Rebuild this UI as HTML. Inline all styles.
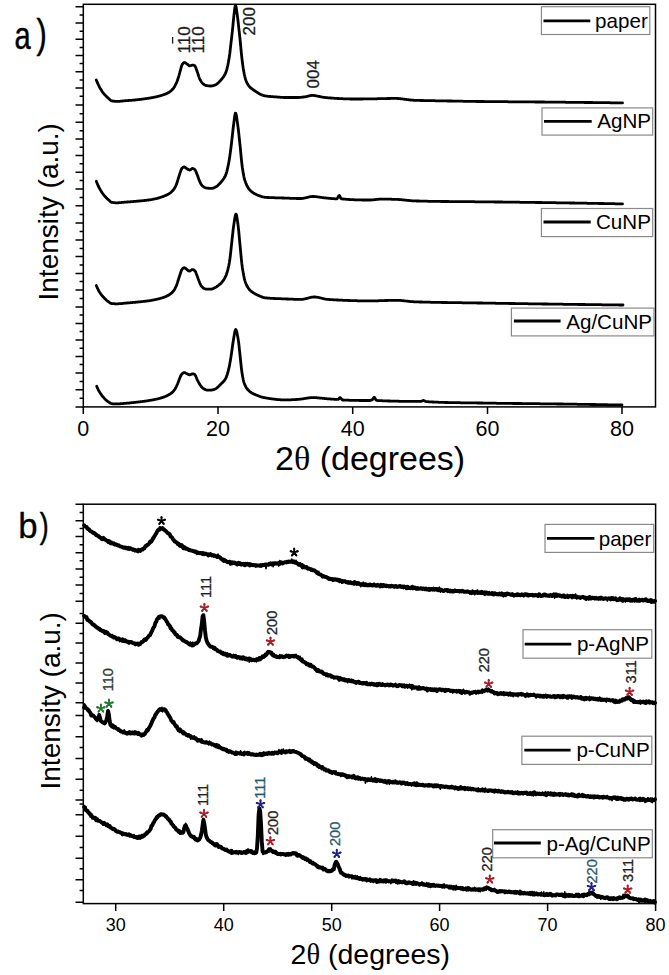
<!DOCTYPE html>
<html><head><meta charset="utf-8"><title>XRD patterns</title>
<style>html,body{margin:0;padding:0;background:#fff;}body{width:669px;height:975px;overflow:hidden;}svg{display:block;}</style>
</head><body>
<svg width="669" height="975" viewBox="0 0 669 975">
<rect width="669" height="975" fill="#fff"/>
<path d="M75.5 6.8H83.3M75.5 23.1H83.3M75.5 39.2H83.3M75.5 55.4H83.3M75.5 71.8H83.3M75.5 88H83.3M75.5 105.1H83.3M75.5 122.3H83.3M75.5 138.9H83.3M75.5 155.4H83.3M75.5 172.3H83.3M75.5 188.9H83.3M75.5 205.8H83.3M75.5 223.1H83.3M75.5 240H83.3M75.5 256.5H83.3M75.5 273.4H83.3M75.5 290H83.3M75.5 306.9H83.3M75.5 323.5H83.3M75.5 340H83.3M75.5 356.6H83.3M75.5 373.1H83.3M75.5 389.7H83.3M75.5 406.9H83.3M79.6 14.9H83.3M79.6 31.2H83.3M79.6 47.4H83.3M79.6 63.5H83.3M79.6 80H83.3M79.6 96.2H83.3M79.6 113.8H83.3M79.6 130.8H83.3M79.6 147.2H83.3M79.6 163.8H83.3M79.6 180.5H83.3M79.6 197.4H83.3M79.6 214.6H83.3M79.6 231.5H83.3M79.6 248.5H83.3M79.6 264.9H83.3M79.6 281.5H83.3M79.6 298.5H83.3M79.6 315.1H83.3M79.6 331.5H83.3M79.6 348.2H83.3M79.6 364.6H83.3M79.6 381.5H83.3M79.6 398.2H83.3M83.3 406.9V414M218 406.9V414M352.7 406.9V414M487.5 406.9V414M622 406.9V414" stroke="#000" stroke-width="1.5" fill="none"/>
<rect x="83.3" y="4.3" width="572.2" height="402.6" stroke="#000" stroke-width="1.5" fill="none"/>
<g fill="none" stroke="#000" stroke-width="2.8" stroke-linejoin="round" stroke-linecap="round">
<path d="M96.3 80L96.8 81.2L97.3 82.4L97.8 83.6L98.3 84.7L98.8 85.7L99.3 86.7L99.8 87.6L100.3 88.5L100.8 89.3L101.3 90.1L101.8 90.9L102.3 91.7L102.8 92.4L103.3 93L103.8 93.7L104.3 94.3L104.8 94.8L105.3 95.3L105.8 95.9L106.3 96.3L106.8 96.8L107.3 97.3L107.8 97.7L108.3 98.2L108.8 98.6L109.3 99.1L109.8 99.6L110.3 100L110.8 100.4L111.3 100.7L111.8 100.9L112.3 101L112.8 101L113.3 101.1L113.8 101.2L114.3 101.2L114.8 101.3L115.3 101.3L115.8 101.4L116.3 101.4L116.8 101.4L117.3 101.4L117.8 101.4L118.3 101.4L118.8 101.3L119.3 101.3L119.8 101.3L120.3 101.2L120.8 101.2L121.3 101.1L121.8 101.1L122.3 101L122.8 101L123.3 100.9L123.8 100.9L124.3 100.8L124.8 100.8L125.3 100.7L125.8 100.7L126.3 100.7L126.8 100.6L127.3 100.6L127.8 100.6L128.3 100.5L128.8 100.5L129.3 100.4L129.8 100.4L130.3 100.4L130.8 100.3L131.3 100.3L131.8 100.3L132.3 100.2L132.8 100.2L133.3 100.1L133.8 100.1L134.3 100L134.8 100L135.3 100L135.8 99.9L136.3 99.8L136.8 99.8L137.3 99.7L137.8 99.7L138.3 99.6L138.8 99.6L139.3 99.5L139.8 99.5L140.3 99.4L140.8 99.3L141.3 99.3L141.8 99.2L142.3 99.1L142.8 99.1L143.3 99L143.8 98.9L144.3 98.9L144.8 98.8L145.3 98.7L145.8 98.7L146.3 98.6L146.8 98.5L147.3 98.4L147.8 98.3L148.3 98.3L148.8 98.2L149.3 98.1L149.8 98L150.3 98L150.8 97.9L151.3 97.8L151.8 97.7L152.3 97.6L152.8 97.5L153.3 97.4L153.8 97.3L154.3 97.2L154.8 97.1L155.3 97L155.8 96.9L156.3 96.8L156.8 96.7L157.3 96.5L157.8 96.4L158.3 96.3L158.8 96.2L159.3 96L159.8 95.9L160.3 95.8L160.8 95.6L161.3 95.5L161.8 95.3L162.3 95.2L162.8 95L163.3 94.8L163.8 94.6L164.3 94.5L164.8 94.3L165.3 94.1L165.8 93.9L166.3 93.7L166.8 93.4L167.3 93.2L167.8 92.9L168.3 92.7L168.8 92.4L169.3 92.1L169.8 91.7L170.3 91.4L170.8 91L171.3 90.6L171.8 90.1L172.3 89.6L172.8 89.1L173.3 88.5L173.8 87.8L174.3 87L174.8 86.2L175.3 85.2L175.8 84.2L176.3 83.2L176.8 82L177.3 80.7L177.8 79.2L178.3 77.7L178.8 76.1L179.3 74.3L179.8 72.5L180.3 70.7L180.8 68.8L181.3 66.9L181.8 65.3L182.3 64.4L182.8 63.7L183.3 63.1L183.8 62.7L184.3 62.5L184.8 62.6L185.3 62.8L185.8 63.1L186.3 63.5L186.8 63.9L187.3 64.2L187.8 64.6L188.3 65.1L188.8 65.5L189.3 65.8L189.8 65.8L190.3 65.7L190.8 65.6L191.3 65.5L191.8 65.3L192.3 65.2L192.8 65.1L193.3 65.1L193.8 65.3L194.3 65.5L194.8 65.8L195.3 66.5L195.8 67.6L196.3 69.1L196.8 70.6L197.3 71.9L197.8 73.4L198.3 75L198.8 76.6L199.3 78L199.8 79.1L200.3 80L200.8 80.9L201.3 81.7L201.8 82.4L202.3 83L202.8 83.5L203.3 83.9L203.8 84.3L204.3 84.7L204.8 85L205.3 85.2L205.8 85.4L206.3 85.6L206.8 85.7L207.3 85.7L207.8 85.8L208.3 85.9L208.8 85.9L209.3 85.9L209.8 86L210.3 86L210.8 86L211.3 86L211.8 85.9L212.3 85.9L212.8 85.8L213.3 85.6L213.8 85.5L214.3 85.3L214.8 85.1L215.3 84.9L215.8 84.7L216.3 84.4L216.8 84.1L217.3 83.7L217.8 83.2L218.3 82.8L218.8 82.3L219.3 81.8L219.8 81.3L220.3 80.8L220.8 80.2L221.3 79.6L221.8 79L222.3 78.4L222.8 77.7L223.3 77.1L223.8 76.4L224.3 75.6L224.8 74.8L225.3 73.8L225.8 72.6L226.3 71L226.8 69.3L227.3 67.3L227.8 65.2L228.3 62.8L228.8 60.1L229.3 57L229.8 53.5L230.3 49.2L230.8 44.7L231.3 40.4L231.8 36.2L232.3 31.7L232.8 26.8L233.3 21.5L233.8 16.4L234.3 12.2L234.8 8.3L235.3 5.5L235.8 5.7L236.3 8.2L236.8 11.7L237.3 15.1L237.8 19L238.3 23.5L238.8 28.1L239.3 32.6L239.8 37.2L240.3 42L240.8 47.1L241.3 52.5L241.8 57.3L242.3 61.5L242.8 65.4L243.3 68.8L243.8 71.6L244.3 74.2L244.8 76.5L245.3 78.4L245.8 80L246.3 81.3L246.8 82.4L247.3 83.4L247.8 84.3L248.3 85.1L248.8 85.8L249.3 86.4L249.8 86.9L250.3 87.4L250.8 87.9L251.3 88.3L251.8 88.7L252.3 89.1L252.8 89.5L253.3 89.8L253.8 90.2L254.3 90.5L254.8 90.8L255.3 91.2L255.8 91.5L256.3 91.8L256.8 92.1L257.3 92.5L257.8 92.8L258.3 93.1L258.8 93.4L259.3 93.7L259.8 94L260.3 94.2L260.8 94.5L261.3 94.7L261.8 94.9L262.3 95.1L262.8 95.3L263.3 95.5L263.8 95.6L264.3 95.8L264.8 95.9L265.3 95.9L265.8 96L266.3 96.1L266.8 96.2L267.3 96.2L267.8 96.3L268.3 96.3L268.8 96.4L269.3 96.4L269.8 96.5L270.3 96.5L270.8 96.5L271.3 96.6L271.8 96.6L272.3 96.7L272.8 96.7L273.3 96.7L273.8 96.8L274.3 96.8L274.8 96.8L275.3 96.9L275.8 96.9L276.3 96.9L276.8 97L277.3 97L277.8 97.1L278.3 97.1L278.8 97.2L279.3 97.2L279.8 97.2L280.3 97.3L280.8 97.3L281.3 97.4L281.8 97.4L282.3 97.4L282.8 97.4L283.3 97.5L283.8 97.5L284.3 97.5L284.8 97.5L285.3 97.5L285.8 97.5L286.3 97.5L286.8 97.5L287.3 97.5L287.8 97.5L288.3 97.5L288.8 97.5L289.3 97.5L289.8 97.5L290.3 97.5L290.8 97.5L291.3 97.5L291.8 97.5L292.3 97.5L292.8 97.5L293.3 97.5L293.8 97.5L294.3 97.5L294.8 97.5L295.3 97.5L295.8 97.5L296.3 97.5L296.8 97.5L297.3 97.5L297.8 97.5L298.3 97.5L298.8 97.5L299.3 97.5L299.8 97.4L300.3 97.4L300.8 97.3L301.3 97.3L301.8 97.2L302.3 97.2L302.8 97.1L303.3 97L303.8 97L304.3 96.9L304.8 96.8L305.3 96.8L305.8 96.7L306.3 96.6L306.8 96.5L307.3 96.3L307.8 96.2L308.3 96.1L308.8 96L309.3 95.8L309.8 95.7L310.3 95.6L310.8 95.5L311.3 95.5L311.8 95.4L312.3 95.4L312.8 95.4L313.3 95.4L313.8 95.5L314.3 95.5L314.8 95.6L315.3 95.7L315.8 95.8L316.3 95.9L316.8 96L317.3 96.1L317.8 96.2L318.3 96.3L318.8 96.4L319.3 96.5L319.8 96.5L320.3 96.7L320.8 96.8L321.3 96.9L321.8 97L322.3 97.1L322.8 97.2L323.3 97.3L323.8 97.4L324.3 97.4L324.8 97.5L325.3 97.5L325.8 97.6L326.3 97.6L326.8 97.7L327.3 97.7L327.8 97.8L328.3 97.8L328.8 97.8L329.3 97.9L329.8 97.9L330.3 98L330.8 98L331.3 98L331.8 98.1L332.3 98.1L332.8 98.2L333.3 98.2L333.8 98.2L334.3 98.3L334.8 98.3L335.3 98.3L335.8 98.4L336.3 98.4L336.8 98.4L337.3 98.5L337.8 98.5L338.3 98.5L338.8 98.5L339.3 98.6L339.8 98.6L340.3 98.6L340.8 98.6L341.3 98.7L341.8 98.7L342.3 98.7L342.8 98.7L343.3 98.8L343.8 98.8L344.3 98.8L344.8 98.8L345.3 98.8L345.8 98.9L346.3 98.9L346.8 98.9L347.3 98.9L347.8 98.9L348.3 98.9L348.8 98.9L349.3 98.9L349.8 99L350.3 99L350.8 99L351.3 99L351.8 99L352.3 99L352.8 99L353.3 99L353.8 99L354.3 99L354.8 99L355.3 99L355.8 99L356.3 99L356.8 99L357.3 99L357.8 99L358.3 99L358.8 99L359.3 99L359.8 99L360.3 99L360.8 99L361.3 99L361.8 99L362.3 99L362.8 99L363.3 98.9L363.8 98.9L364.3 98.9L364.8 98.9L365.3 98.9L365.8 98.9L366.3 98.9L366.8 98.9L367.3 98.9L367.8 98.9L368.3 98.9L368.8 98.9L369.3 98.9L369.8 98.9L370.3 98.9L370.8 98.8L371.3 98.8L371.8 98.8L372.3 98.8L372.8 98.8L373.3 98.8L373.8 98.8L374.3 98.8L374.8 98.8L375.3 98.8L375.8 98.8L376.3 98.8L376.8 98.8L377.3 98.7L377.8 98.7L378.3 98.7L378.8 98.7L379.3 98.7L379.8 98.7L380.3 98.7L380.8 98.7L381.3 98.7L381.8 98.7L382.3 98.7L382.8 98.6L383.3 98.6L383.8 98.6L384.3 98.6L384.8 98.6L385.3 98.6L385.8 98.6L386.3 98.6L386.8 98.5L387.3 98.5L387.8 98.5L388.3 98.5L388.8 98.5L389.3 98.5L389.8 98.5L390.3 98.5L390.8 98.4L391.3 98.4L391.8 98.4L392.3 98.4L392.8 98.4L393.3 98.4L393.8 98.4L394.3 98.4L394.8 98.4L395.3 98.4L395.8 98.4L396.3 98.4L396.8 98.4L397.3 98.5L397.8 98.5L398.3 98.5L398.8 98.6L399.3 98.6L399.8 98.7L400.3 98.7L400.8 98.8L401.3 98.8L401.8 98.9L402.3 98.9L402.8 99L403.3 99.1L403.8 99.1L404.3 99.2L404.8 99.3L405.3 99.3L405.8 99.4L406.3 99.5L406.8 99.5L407.3 99.6L407.8 99.7L408.3 99.7L408.8 99.8L409.3 99.9L409.8 99.9L410.3 100L410.8 100L411.3 100.1L411.8 100.1L412.3 100.2L412.8 100.2L413.3 100.2L413.8 100.3L414.3 100.3L414.8 100.3L415.3 100.3L415.8 100.3L416.3 100.4L416.8 100.4L417.3 100.4L417.8 100.4L418.3 100.4L418.8 100.4L419.3 100.4L419.8 100.5L420.3 100.5L420.8 100.5L421.3 100.5L421.8 100.5L422.3 100.5L422.8 100.5L423.3 100.5L423.8 100.6L424.3 100.6L424.8 100.6L425.3 100.6L425.8 100.6L426.3 100.6L426.8 100.6L427.3 100.6L427.8 100.6L428.3 100.6L428.8 100.7L429.3 100.7L429.8 100.7L430.3 100.7L430.8 100.7L431.3 100.7L431.8 100.7L432.3 100.7L432.8 100.7L433.3 100.7L433.8 100.7L434.3 100.7L434.8 100.7L435.3 100.8L435.8 100.8L436.3 100.8L436.8 100.8L437.3 100.8L437.8 100.8L438.3 100.8L438.8 100.8L439.3 100.8L439.8 100.8L440.3 100.8L440.8 100.8L441.3 100.8L441.8 100.9L442.3 100.9L442.8 100.9L443.3 100.9L443.8 100.9L444.3 100.9L444.8 100.9L445.3 100.9L445.8 100.9L446.3 100.9L446.8 100.9L447.3 101L447.8 101L448.3 101L448.8 101L449.3 101L449.8 101L450.3 101L450.8 101L451.3 101L451.8 101L452.3 101L452.8 101.1L453.3 101.1L453.8 101.1L454.3 101.1L454.8 101.1L455.3 101.1L455.8 101.1L456.3 101.1L456.8 101.1L457.3 101.1L457.8 101.2L458.3 101.2L458.8 101.2L459.3 101.2L459.8 101.2L460.3 101.2L460.8 101.2L461.3 101.2L461.8 101.2L462.3 101.2L462.8 101.2L463.3 101.3L463.8 101.3L464.3 101.3L464.8 101.3L465.3 101.3L465.8 101.3L466.3 101.3L466.8 101.3L467.3 101.3L467.8 101.3L468.3 101.3L468.8 101.3L469.3 101.4L469.8 101.4L470.3 101.4L470.8 101.4L471.3 101.4L471.8 101.4L472.3 101.4L472.8 101.4L473.3 101.4L473.8 101.4L474.3 101.4L474.8 101.4L475.3 101.4L475.8 101.4L476.3 101.5L476.8 101.5L477.3 101.5L477.8 101.5L478.3 101.5L478.8 101.5L479.3 101.5L479.8 101.5L480.3 101.5L480.8 101.5L481.3 101.5L481.8 101.5L482.3 101.5L482.8 101.5L483.3 101.5L483.8 101.5L484.3 101.5L484.8 101.6L485.3 101.6L485.8 101.6L486.3 101.6L486.8 101.6L487.3 101.6L487.8 101.6L488.3 101.6L488.8 101.6L489.3 101.6L489.8 101.6L490.3 101.6L490.8 101.6L491.3 101.6L491.8 101.6L492.3 101.6L492.8 101.6L493.3 101.6L493.8 101.6L494.3 101.6L494.8 101.6L495.3 101.7L495.8 101.7L496.3 101.7L496.8 101.7L497.3 101.7L497.8 101.7L498.3 101.7L498.8 101.7L499.3 101.7L499.8 101.7L500.3 101.7L500.8 101.7L501.3 101.7L501.8 101.7L502.3 101.7L502.8 101.7L503.3 101.7L503.8 101.7L504.3 101.7L504.8 101.7L505.3 101.7L505.8 101.7L506.3 101.7L506.8 101.7L507.3 101.7L507.8 101.7L508.3 101.8L508.8 101.8L509.3 101.8L509.8 101.8L510.3 101.8L510.8 101.8L511.3 101.8L511.8 101.8L512.3 101.8L512.8 101.8L513.3 101.8L513.8 101.8L514.3 101.8L514.8 101.8L515.3 101.8L515.8 101.8L516.3 101.8L516.8 101.8L517.3 101.8L517.8 101.8L518.3 101.8L518.8 101.8L519.3 101.8L519.8 101.8L520.3 101.8L520.8 101.8L521.3 101.8L521.8 101.9L522.3 101.9L522.8 101.9L523.3 101.9L523.8 101.9L524.3 101.9L524.8 101.9L525.3 101.9L525.8 101.9L526.3 101.9L526.8 101.9L527.3 101.9L527.8 101.9L528.3 101.9L528.8 101.9L529.3 101.9L529.8 101.9L530.3 101.9L530.8 101.9L531.3 101.9L531.8 101.9L532.3 101.9L532.8 101.9L533.3 101.9L533.8 101.9L534.3 101.9L534.8 102L535.3 102L535.8 102L536.3 102L536.8 102L537.3 102L537.8 102L538.3 102L538.8 102L539.3 102L539.8 102L540.3 102L540.8 102L541.3 102L541.8 102L542.3 102L542.8 102L543.3 102L543.8 102L544.3 102L544.8 102L545.3 102.1L545.8 102.1L546.3 102.1L546.8 102.1L547.3 102.1L547.8 102.1L548.3 102.1L548.8 102.1L549.3 102.1L549.8 102.1L550.3 102.1L550.8 102.1L551.3 102.1L551.8 102.1L552.3 102.1L552.8 102.1L553.3 102.1L553.8 102.1L554.3 102.1L554.8 102.1L555.3 102.1L555.8 102.2L556.3 102.2L556.8 102.2L557.3 102.2L557.8 102.2L558.3 102.2L558.8 102.2L559.3 102.2L559.8 102.2L560.3 102.2L560.8 102.2L561.3 102.2L561.8 102.2L562.3 102.2L562.8 102.2L563.3 102.2L563.8 102.2L564.3 102.2L564.8 102.2L565.3 102.2L565.8 102.3L566.3 102.3L566.8 102.3L567.3 102.3L567.8 102.3L568.3 102.3L568.8 102.3L569.3 102.3L569.8 102.3L570.3 102.3L570.8 102.3L571.3 102.3L571.8 102.3L572.3 102.3L572.8 102.3L573.3 102.3L573.8 102.3L574.3 102.3L574.8 102.3L575.3 102.4L575.8 102.4L576.3 102.4L576.8 102.4L577.3 102.4L577.8 102.4L578.3 102.4L578.8 102.4L579.3 102.4L579.8 102.4L580.3 102.4L580.8 102.4L581.3 102.4L581.8 102.4L582.3 102.4L582.8 102.4L583.3 102.4L583.8 102.4L584.3 102.5L584.8 102.5L585.3 102.5L585.8 102.5L586.3 102.5L586.8 102.5L587.3 102.5L587.8 102.5L588.3 102.5L588.8 102.5L589.3 102.5L589.8 102.5L590.3 102.5L590.8 102.5L591.3 102.5L591.8 102.5L592.3 102.5L592.8 102.5L593.3 102.6L593.8 102.6L594.3 102.6L594.8 102.6L595.3 102.6L595.8 102.6L596.3 102.6L596.8 102.6L597.3 102.6L597.8 102.6L598.3 102.6L598.8 102.6L599.3 102.6L599.8 102.6L600.3 102.6L600.8 102.6L601.3 102.6L601.8 102.7L602.3 102.7L602.8 102.7L603.3 102.7L603.8 102.7L604.3 102.7L604.8 102.7L605.3 102.7L605.8 102.7L606.3 102.7L606.8 102.7L607.3 102.7L607.8 102.7L608.3 102.7L608.8 102.7L609.3 102.7L609.8 102.7L610.3 102.8L610.8 102.8L611.3 102.8L611.8 102.8L612.3 102.8L612.8 102.8L613.3 102.8L613.8 102.8L614.3 102.8L614.8 102.8L615.3 102.8L615.8 102.8L616.3 102.8L616.8 102.8L617.3 102.8L617.8 102.8L618.3 102.8L618.8 102.9L619.3 102.9L619.8 102.9L620.3 102.9L620.8 102.9L621.3 102.9L621.8 102.9L622.3 102.9L622.5 102.9"/>
<path d="M96.3 181.2L96.8 182.5L97.3 183.7L97.8 184.9L98.3 186L98.8 187L99.3 188L99.8 188.9L100.3 189.8L100.8 190.6L101.3 191.4L101.8 192.2L102.3 193L102.8 193.7L103.3 194.3L103.8 195L104.3 195.6L104.8 196.2L105.3 196.7L105.8 197.3L106.3 197.8L106.8 198.3L107.3 198.8L107.8 199.2L108.3 199.7L108.8 200.1L109.3 200.6L109.8 201.1L110.3 201.5L110.8 201.9L111.3 202.2L111.8 202.4L112.3 202.4L112.8 202.5L113.3 202.6L113.8 202.6L114.3 202.7L114.8 202.7L115.3 202.8L115.8 202.8L116.3 202.8L116.8 202.8L117.3 202.8L117.8 202.8L118.3 202.8L118.8 202.7L119.3 202.7L119.8 202.7L120.3 202.6L120.8 202.6L121.3 202.5L121.8 202.5L122.3 202.4L122.8 202.4L123.3 202.3L123.8 202.3L124.3 202.2L124.8 202.2L125.3 202.1L125.8 202.1L126.3 202.1L126.8 202L127.3 202L127.8 202L128.3 201.9L128.8 201.9L129.3 201.8L129.8 201.8L130.3 201.8L130.8 201.7L131.3 201.7L131.8 201.6L132.3 201.6L132.8 201.6L133.3 201.5L133.8 201.5L134.3 201.4L134.8 201.4L135.3 201.4L135.8 201.3L136.3 201.3L136.8 201.2L137.3 201.2L137.8 201.1L138.3 201.1L138.8 201L139.3 201L139.8 201L140.3 200.9L140.8 200.9L141.3 200.8L141.8 200.8L142.3 200.7L142.8 200.7L143.3 200.6L143.8 200.6L144.3 200.5L144.8 200.5L145.3 200.4L145.8 200.3L146.3 200.3L146.8 200.2L147.3 200.2L147.8 200.1L148.3 200L148.8 200L149.3 199.9L149.8 199.8L150.3 199.8L150.8 199.7L151.3 199.6L151.8 199.5L152.3 199.4L152.8 199.3L153.3 199.2L153.8 199.1L154.3 199L154.8 198.9L155.3 198.8L155.8 198.7L156.3 198.6L156.8 198.5L157.3 198.4L157.8 198.2L158.3 198.1L158.8 197.9L159.3 197.8L159.8 197.6L160.3 197.5L160.8 197.3L161.3 197.1L161.8 197L162.3 196.8L162.8 196.6L163.3 196.4L163.8 196.2L164.3 196L164.8 195.8L165.3 195.6L165.8 195.4L166.3 195.1L166.8 194.9L167.3 194.7L167.8 194.4L168.3 194.2L168.8 193.9L169.3 193.6L169.8 193.2L170.3 192.9L170.8 192.5L171.3 192.1L171.8 191.6L172.3 191.1L172.8 190.6L173.3 190L173.8 189.3L174.3 188.6L174.8 187.7L175.3 186.8L175.8 185.8L176.3 184.7L176.8 183.3L177.3 181.8L177.8 180.1L178.3 178.5L178.8 176.9L179.3 175.3L179.8 173.6L180.3 172.2L180.8 170.8L181.3 169.5L181.8 168.5L182.3 167.9L182.8 167.5L183.3 167.2L183.8 167L184.3 167L184.8 167.2L185.3 167.6L185.8 168L186.3 168.3L186.8 168.6L187.3 168.9L187.8 169.3L188.3 169.6L188.8 169.8L189.3 170L189.8 170L190.3 169.8L190.8 169.5L191.3 169.1L191.8 168.8L192.3 168.5L192.8 168.5L193.3 168.6L193.8 168.9L194.3 169.2L194.8 169.6L195.3 170.2L195.8 171.2L196.3 172.4L196.8 173.7L197.3 174.9L197.8 176.3L198.3 177.8L198.8 179.2L199.3 180.4L199.8 181.6L200.3 182.7L200.8 183.8L201.3 184.6L201.8 185.3L202.3 185.8L202.8 186.2L203.3 186.6L203.8 186.9L204.3 187.2L204.8 187.5L205.3 187.7L205.8 187.9L206.3 188L206.8 188.1L207.3 188.1L207.8 188.2L208.3 188.2L208.8 188.3L209.3 188.3L209.8 188.3L210.3 188.4L210.8 188.4L211.3 188.4L211.8 188.4L212.3 188.3L212.8 188.2L213.3 188.1L213.8 187.9L214.3 187.7L214.8 187.4L215.3 187.1L215.8 186.9L216.3 186.6L216.8 186.3L217.3 185.9L217.8 185.6L218.3 185.1L218.8 184.6L219.3 184.1L219.8 183.6L220.3 183L220.8 182.4L221.3 181.8L221.8 181.2L222.3 180.6L222.8 179.9L223.3 179.2L223.8 178.5L224.3 177.7L224.8 176.8L225.3 175.8L225.8 174.7L226.3 173.3L226.8 171.6L227.3 169.6L227.8 167.4L228.3 165L228.8 162.4L229.3 159.5L229.8 156.2L230.3 152.6L230.8 148.7L231.3 144.8L231.8 140.6L232.3 136L232.8 131.3L233.3 127L233.8 123.2L234.3 119L234.8 115.4L235.3 113.2L235.8 113.4L236.3 115.3L236.8 118.3L237.3 121.9L237.8 125.5L238.3 129.3L238.8 133.6L239.3 138.3L239.8 143.2L240.3 147.9L240.8 153.1L241.3 158.4L241.8 163.3L242.3 167.2L242.8 170.5L243.3 173.6L243.8 176.3L244.3 178.5L244.8 180.2L245.3 181.6L245.8 183L246.3 184.2L246.8 185.3L247.3 186.3L247.8 187.2L248.3 188.1L248.8 188.8L249.3 189.4L249.8 190L250.3 190.5L250.8 191L251.3 191.4L251.8 191.8L252.3 192.2L252.8 192.5L253.3 192.9L253.8 193.2L254.3 193.5L254.8 193.8L255.3 194L255.8 194.3L256.3 194.5L256.8 194.8L257.3 195L257.8 195.2L258.3 195.4L258.8 195.6L259.3 195.8L259.8 196L260.3 196.1L260.8 196.3L261.3 196.5L261.8 196.7L262.3 196.8L262.8 196.9L263.3 197L263.8 197.1L264.3 197.2L264.8 197.3L265.3 197.3L265.8 197.4L266.3 197.4L266.8 197.4L267.3 197.5L267.8 197.5L268.3 197.5L268.8 197.5L269.3 197.6L269.8 197.6L270.3 197.6L270.8 197.6L271.3 197.6L271.8 197.7L272.3 197.7L272.8 197.7L273.3 197.7L273.8 197.7L274.3 197.7L274.8 197.8L275.3 197.8L275.8 197.8L276.3 197.8L276.8 197.8L277.3 197.8L277.8 197.8L278.3 197.8L278.8 197.9L279.3 197.9L279.8 197.9L280.3 197.9L280.8 197.9L281.3 197.9L281.8 198L282.3 198L282.8 198L283.3 198L283.8 198L284.3 198.1L284.8 198.1L285.3 198.1L285.8 198.1L286.3 198.1L286.8 198.2L287.3 198.2L287.8 198.2L288.3 198.2L288.8 198.2L289.3 198.2L289.8 198.3L290.3 198.3L290.8 198.3L291.3 198.3L291.8 198.3L292.3 198.3L292.8 198.4L293.3 198.4L293.8 198.4L294.3 198.4L294.8 198.4L295.3 198.4L295.8 198.4L296.3 198.5L296.8 198.5L297.3 198.5L297.8 198.5L298.3 198.5L298.8 198.5L299.3 198.5L299.8 198.5L300.3 198.5L300.8 198.5L301.3 198.5L301.8 198.5L302.3 198.4L302.8 198.4L303.3 198.3L303.8 198.2L304.3 198.1L304.8 198L305.3 197.9L305.8 197.8L306.3 197.6L306.8 197.5L307.3 197.4L307.8 197.3L308.3 197.2L308.8 197L309.3 196.9L309.8 196.8L310.3 196.7L310.8 196.7L311.3 196.6L311.8 196.5L312.3 196.5L312.8 196.5L313.3 196.5L313.8 196.5L314.3 196.5L314.8 196.6L315.3 196.6L315.8 196.7L316.3 196.7L316.8 196.8L317.3 196.8L317.8 196.9L318.3 197L318.8 197.1L319.3 197.1L319.8 197.2L320.3 197.3L320.8 197.4L321.3 197.4L321.8 197.5L322.3 197.6L322.8 197.7L323.3 197.7L323.8 197.8L324.3 197.9L324.8 197.9L325.3 197.9L325.8 198L326.3 198L326.8 198.1L327.3 198.1L327.8 198.2L328.3 198.2L328.8 198.3L329.3 198.3L329.8 198.4L330.3 198.4L330.8 198.5L331.3 198.5L331.8 198.6L332.3 198.6L332.8 198.6L333.3 198.7L333.8 198.7L334.3 198.7L334.8 198.8L335.3 198.8L335.8 198.8L336.3 198.8L336.8 198.8L337.3 198.4L337.8 197.6L338.3 196.5L338.8 195.7L339.3 195.5L339.8 196.1L340.3 197.2L340.8 198.3L341.3 198.8L341.8 198.9L342.3 198.9L342.8 199L343.3 199L343.8 199.1L344.3 199.1L344.8 199.2L345.3 199.2L345.8 199.2L346.3 199.3L346.8 199.3L347.3 199.4L347.8 199.4L348.3 199.4L348.8 199.5L349.3 199.5L349.8 199.5L350.3 199.6L350.8 199.6L351.3 199.6L351.8 199.6L352.3 199.7L352.8 199.7L353.3 199.7L353.8 199.7L354.3 199.8L354.8 199.8L355.3 199.8L355.8 199.8L356.3 199.8L356.8 199.8L357.3 199.9L357.8 199.9L358.3 199.9L358.8 199.9L359.3 199.9L359.8 199.9L360.3 199.9L360.8 199.9L361.3 199.9L361.8 200L362.3 200L362.8 200L363.3 200L363.8 200L364.3 200L364.8 200L365.3 200L365.8 200L366.3 200L366.8 200L367.3 200L367.8 200L368.3 200L368.8 200L369.3 200L369.8 200L370.3 200L370.8 200L371.3 200L371.8 199.9L372.3 199.9L372.8 199.8L373.3 199.8L373.8 199.8L374.3 199.7L374.8 199.6L375.3 199.6L375.8 199.5L376.3 199.5L376.8 199.4L377.3 199.4L377.8 199.3L378.3 199.3L378.8 199.2L379.3 199.2L379.8 199.2L380.3 199.1L380.8 199.1L381.3 199.1L381.8 199.1L382.3 199.1L382.8 199.1L383.3 199.1L383.8 199.1L384.3 199.1L384.8 199.1L385.3 199.1L385.8 199.1L386.3 199.1L386.8 199.1L387.3 199.2L387.8 199.2L388.3 199.2L388.8 199.2L389.3 199.2L389.8 199.2L390.3 199.2L390.8 199.2L391.3 199.2L391.8 199.3L392.3 199.3L392.8 199.3L393.3 199.3L393.8 199.3L394.3 199.3L394.8 199.3L395.3 199.4L395.8 199.4L396.3 199.4L396.8 199.4L397.3 199.4L397.8 199.4L398.3 199.5L398.8 199.5L399.3 199.5L399.8 199.6L400.3 199.6L400.8 199.7L401.3 199.7L401.8 199.8L402.3 199.8L402.8 199.9L403.3 199.9L403.8 200L404.3 200L404.8 200.1L405.3 200.1L405.8 200.2L406.3 200.2L406.8 200.3L407.3 200.3L407.8 200.4L408.3 200.4L408.8 200.5L409.3 200.5L409.8 200.6L410.3 200.6L410.8 200.7L411.3 200.7L411.8 200.8L412.3 200.8L412.8 200.8L413.3 200.8L413.8 200.9L414.3 200.9L414.8 200.9L415.3 200.9L415.8 200.9L416.3 201L416.8 201L417.3 201L417.8 201L418.3 201L418.8 201L419.3 201L419.8 201.1L420.3 201.1L420.8 201.1L421.3 201.1L421.8 201.1L422.3 201.1L422.8 201.1L423.3 201.2L423.8 201.2L424.3 201.2L424.8 201.2L425.3 201.2L425.8 201.2L426.3 201.2L426.8 201.2L427.3 201.2L427.8 201.3L428.3 201.3L428.8 201.3L429.3 201.3L429.8 201.3L430.3 201.3L430.8 201.3L431.3 201.3L431.8 201.3L432.3 201.3L432.8 201.3L433.3 201.3L433.8 201.4L434.3 201.4L434.8 201.4L435.3 201.4L435.8 201.4L436.3 201.4L436.8 201.4L437.3 201.4L437.8 201.4L438.3 201.4L438.8 201.4L439.3 201.4L439.8 201.4L440.3 201.4L440.8 201.5L441.3 201.5L441.8 201.5L442.3 201.5L442.8 201.5L443.3 201.5L443.8 201.5L444.3 201.5L444.8 201.5L445.3 201.5L445.8 201.5L446.3 201.5L446.8 201.5L447.3 201.5L447.8 201.5L448.3 201.5L448.8 201.5L449.3 201.6L449.8 201.6L450.3 201.6L450.8 201.6L451.3 201.6L451.8 201.6L452.3 201.6L452.8 201.6L453.3 201.6L453.8 201.6L454.3 201.6L454.8 201.6L455.3 201.6L455.8 201.6L456.3 201.6L456.8 201.6L457.3 201.6L457.8 201.6L458.3 201.6L458.8 201.6L459.3 201.6L459.8 201.6L460.3 201.6L460.8 201.6L461.3 201.7L461.8 201.7L462.3 201.7L462.8 201.7L463.3 201.7L463.8 201.7L464.3 201.7L464.8 201.7L465.3 201.7L465.8 201.7L466.3 201.7L466.8 201.7L467.3 201.7L467.8 201.7L468.3 201.7L468.8 201.7L469.3 201.7L469.8 201.7L470.3 201.7L470.8 201.7L471.3 201.7L471.8 201.7L472.3 201.7L472.8 201.7L473.3 201.7L473.8 201.7L474.3 201.7L474.8 201.8L475.3 201.8L475.8 201.8L476.3 201.8L476.8 201.8L477.3 201.8L477.8 201.8L478.3 201.8L478.8 201.8L479.3 201.8L479.8 201.8L480.3 201.8L480.8 201.8L481.3 201.8L481.8 201.8L482.3 201.8L482.8 201.8L483.3 201.8L483.8 201.8L484.3 201.8L484.8 201.8L485.3 201.9L485.8 201.9L486.3 201.9L486.8 201.9L487.3 201.9L487.8 201.9L488.3 201.9L488.8 201.9L489.3 201.9L489.8 201.9L490.3 201.9L490.8 201.9L491.3 201.9L491.8 201.9L492.3 201.9L492.8 201.9L493.3 201.9L493.8 201.9L494.3 202L494.8 202L495.3 202L495.8 202L496.3 202L496.8 202L497.3 202L497.8 202L498.3 202L498.8 202L499.3 202L499.8 202L500.3 202L500.8 202L501.3 202L501.8 202L502.3 202L502.8 202L503.3 202.1L503.8 202.1L504.3 202.1L504.8 202.1L505.3 202.1L505.8 202.1L506.3 202.1L506.8 202.1L507.3 202.1L507.8 202.1L508.3 202.1L508.8 202.1L509.3 202.1L509.8 202.1L510.3 202.1L510.8 202.1L511.3 202.1L511.8 202.2L512.3 202.2L512.8 202.2L513.3 202.2L513.8 202.2L514.3 202.2L514.8 202.2L515.3 202.2L515.8 202.2L516.3 202.2L516.8 202.2L517.3 202.2L517.8 202.2L518.3 202.2L518.8 202.2L519.3 202.2L519.8 202.3L520.3 202.3L520.8 202.3L521.3 202.3L521.8 202.3L522.3 202.3L522.8 202.3L523.3 202.3L523.8 202.3L524.3 202.3L524.8 202.3L525.3 202.3L525.8 202.3L526.3 202.3L526.8 202.3L527.3 202.3L527.8 202.4L528.3 202.4L528.8 202.4L529.3 202.4L529.8 202.4L530.3 202.4L530.8 202.4L531.3 202.4L531.8 202.4L532.3 202.4L532.8 202.4L533.3 202.4L533.8 202.4L534.3 202.4L534.8 202.4L535.3 202.5L535.8 202.5L536.3 202.5L536.8 202.5L537.3 202.5L537.8 202.5L538.3 202.5L538.8 202.5L539.3 202.5L539.8 202.5L540.3 202.5L540.8 202.5L541.3 202.5L541.8 202.5L542.3 202.6L542.8 202.6L543.3 202.6L543.8 202.6L544.3 202.6L544.8 202.6L545.3 202.6L545.8 202.6L546.3 202.6L546.8 202.6L547.3 202.6L547.8 202.6L548.3 202.6L548.8 202.6L549.3 202.7L549.8 202.7L550.3 202.7L550.8 202.7L551.3 202.7L551.8 202.7L552.3 202.7L552.8 202.7L553.3 202.7L553.8 202.7L554.3 202.7L554.8 202.7L555.3 202.7L555.8 202.7L556.3 202.8L556.8 202.8L557.3 202.8L557.8 202.8L558.3 202.8L558.8 202.8L559.3 202.8L559.8 202.8L560.3 202.8L560.8 202.8L561.3 202.8L561.8 202.8L562.3 202.8L562.8 202.9L563.3 202.9L563.8 202.9L564.3 202.9L564.8 202.9L565.3 202.9L565.8 202.9L566.3 202.9L566.8 202.9L567.3 202.9L567.8 202.9L568.3 202.9L568.8 202.9L569.3 203L569.8 203L570.3 203L570.8 203L571.3 203L571.8 203L572.3 203L572.8 203L573.3 203L573.8 203L574.3 203L574.8 203L575.3 203.1L575.8 203.1L576.3 203.1L576.8 203.1L577.3 203.1L577.8 203.1L578.3 203.1L578.8 203.1L579.3 203.1L579.8 203.1L580.3 203.1L580.8 203.1L581.3 203.1L581.8 203.2L582.3 203.2L582.8 203.2L583.3 203.2L583.8 203.2L584.3 203.2L584.8 203.2L585.3 203.2L585.8 203.2L586.3 203.2L586.8 203.2L587.3 203.3L587.8 203.3L588.3 203.3L588.8 203.3L589.3 203.3L589.8 203.3L590.3 203.3L590.8 203.3L591.3 203.3L591.8 203.3L592.3 203.3L592.8 203.3L593.3 203.4L593.8 203.4L594.3 203.4L594.8 203.4L595.3 203.4L595.8 203.4L596.3 203.4L596.8 203.4L597.3 203.4L597.8 203.4L598.3 203.4L598.8 203.5L599.3 203.5L599.8 203.5L600.3 203.5L600.8 203.5L601.3 203.5L601.8 203.5L602.3 203.5L602.8 203.5L603.3 203.5L603.8 203.5L604.3 203.6L604.8 203.6L605.3 203.6L605.8 203.6L606.3 203.6L606.8 203.6L607.3 203.6L607.8 203.6L608.3 203.6L608.8 203.6L609.3 203.6L609.8 203.7L610.3 203.7L610.8 203.7L611.3 203.7L611.8 203.7L612.3 203.7L612.8 203.7L613.3 203.7L613.8 203.7L614.3 203.7L614.8 203.7L615.3 203.8L615.8 203.8L616.3 203.8L616.8 203.8L617.3 203.8L617.8 203.8L618.3 203.8L618.8 203.8L619.3 203.8L619.8 203.8L620.3 203.9L620.8 203.9L621.3 203.9L621.8 203.9L622.3 203.9L622.5 203.9"/>
<path d="M96.3 285.5L96.8 286.7L97.3 287.8L97.8 288.9L98.3 289.9L98.8 290.9L99.3 291.7L99.8 292.5L100.3 293.2L100.8 294L101.3 294.7L101.8 295.3L102.3 295.9L102.8 296.5L103.3 297.1L103.8 297.6L104.3 298.1L104.8 298.7L105.3 299.1L105.8 299.6L106.3 300.1L106.8 300.5L107.3 300.9L107.8 301.2L108.3 301.6L108.8 302L109.3 302.3L109.8 302.7L110.3 303L110.8 303.2L111.3 303.5L111.8 303.6L112.3 303.6L112.8 303.7L113.3 303.7L113.8 303.7L114.3 303.7L114.8 303.8L115.3 303.8L115.8 303.8L116.3 303.8L116.8 303.8L117.3 303.8L117.8 303.8L118.3 303.8L118.8 303.7L119.3 303.7L119.8 303.7L120.3 303.6L120.8 303.6L121.3 303.6L121.8 303.5L122.3 303.5L122.8 303.4L123.3 303.4L123.8 303.3L124.3 303.2L124.8 303.2L125.3 303.2L125.8 303.1L126.3 303.1L126.8 303L127.3 303L127.8 302.9L128.3 302.9L128.8 302.9L129.3 302.8L129.8 302.8L130.3 302.7L130.8 302.7L131.3 302.6L131.8 302.6L132.3 302.5L132.8 302.5L133.3 302.4L133.8 302.4L134.3 302.3L134.8 302.3L135.3 302.3L135.8 302.2L136.3 302.2L136.8 302.1L137.3 302.1L137.8 302L138.3 302L138.8 301.9L139.3 301.9L139.8 301.8L140.3 301.8L140.8 301.7L141.3 301.7L141.8 301.6L142.3 301.6L142.8 301.5L143.3 301.4L143.8 301.4L144.3 301.3L144.8 301.3L145.3 301.2L145.8 301.2L146.3 301.1L146.8 301L147.3 301L147.8 300.9L148.3 300.8L148.8 300.8L149.3 300.7L149.8 300.6L150.3 300.6L150.8 300.5L151.3 300.4L151.8 300.3L152.3 300.2L152.8 300.1L153.3 300L153.8 299.9L154.3 299.8L154.8 299.7L155.3 299.6L155.8 299.5L156.3 299.4L156.8 299.3L157.3 299.1L157.8 299L158.3 298.9L158.8 298.8L159.3 298.7L159.8 298.5L160.3 298.4L160.8 298.3L161.3 298.1L161.8 298L162.3 297.8L162.8 297.7L163.3 297.5L163.8 297.3L164.3 297.2L164.8 297L165.3 296.8L165.8 296.6L166.3 296.3L166.8 296.1L167.3 295.8L167.8 295.6L168.3 295.3L168.8 295L169.3 294.7L169.8 294.3L170.3 294L170.8 293.6L171.3 293.2L171.8 292.8L172.3 292.3L172.8 291.8L173.3 291.2L173.8 290.5L174.3 289.7L174.8 288.9L175.3 287.9L175.8 286.9L176.3 285.8L176.8 284.5L177.3 283.1L177.8 281.5L178.3 280L178.8 278.4L179.3 276.8L179.8 275.2L180.3 273.7L180.8 272.2L181.3 270.8L181.8 269.7L182.3 269L182.8 268.5L183.3 268L183.8 267.8L184.3 267.7L184.8 267.9L185.3 268.2L185.8 268.6L186.3 269L186.8 269.5L187.3 269.8L187.8 270.3L188.3 270.7L188.8 271L189.3 271.1L189.8 271L190.3 270.7L190.8 270.4L191.3 270.1L191.8 269.8L192.3 269.6L192.8 269.6L193.3 269.7L193.8 270L194.3 270.3L194.8 270.7L195.3 271.4L195.8 272.4L196.3 273.8L196.8 275.1L197.3 276.4L197.8 277.8L198.3 279.2L198.8 280.5L199.3 281.7L199.8 283L200.3 284.2L200.8 285.2L201.3 286.1L201.8 286.6L202.3 287.1L202.8 287.6L203.3 288L203.8 288.3L204.3 288.6L204.8 288.9L205.3 289L205.8 289.1L206.3 289.1L206.8 289.1L207.3 289.1L207.8 289.2L208.3 289.2L208.8 289.2L209.3 289.2L209.8 289.2L210.3 289.2L210.8 289.2L211.3 289.2L211.8 289.1L212.3 288.9L212.8 288.7L213.3 288.5L213.8 288.2L214.3 288L214.8 287.7L215.3 287.4L215.8 287.2L216.3 286.9L216.8 286.6L217.3 286.2L217.8 285.9L218.3 285.5L218.8 285.1L219.3 284.7L219.8 284.3L220.3 283.9L220.8 283.4L221.3 282.9L221.8 282.3L222.3 281.8L222.8 281.1L223.3 280.4L223.8 279.7L224.3 278.9L224.8 278L225.3 277L225.8 275.9L226.3 274.7L226.8 273.3L227.3 271.7L227.8 269.9L228.3 267.8L228.8 265.5L229.3 262.9L229.8 259.8L230.3 255.8L230.8 251.3L231.3 246.7L231.8 242.2L232.3 237.5L232.8 232.8L233.3 228.4L233.8 224.9L234.3 221.5L234.8 218.2L235.3 215.6L235.8 214.1L236.3 214.4L236.8 216.4L237.3 219.6L237.8 223.3L238.3 227.1L238.8 231.8L239.3 237.3L239.8 242.9L240.3 248L240.8 253.4L241.3 258.7L241.8 263.4L242.3 267.2L242.8 270.4L243.3 273.3L243.8 276L244.3 278.4L244.8 280.3L245.3 281.9L245.8 283.2L246.3 284.4L246.8 285.5L247.3 286.5L247.8 287.3L248.3 288.1L248.8 288.8L249.3 289.5L249.8 290L250.3 290.5L250.8 290.9L251.3 291.4L251.8 291.8L252.3 292.1L252.8 292.5L253.3 292.8L253.8 293.1L254.3 293.4L254.8 293.7L255.3 294L255.8 294.2L256.3 294.5L256.8 294.7L257.3 294.9L257.8 295.2L258.3 295.4L258.8 295.6L259.3 295.9L259.8 296.1L260.3 296.3L260.8 296.5L261.3 296.7L261.8 296.9L262.3 297.1L262.8 297.3L263.3 297.5L263.8 297.6L264.3 297.7L264.8 297.8L265.3 297.8L265.8 297.9L266.3 297.9L266.8 298L267.3 298L267.8 298.1L268.3 298.1L268.8 298.2L269.3 298.2L269.8 298.2L270.3 298.3L270.8 298.3L271.3 298.3L271.8 298.4L272.3 298.4L272.8 298.4L273.3 298.4L273.8 298.5L274.3 298.5L274.8 298.5L275.3 298.5L275.8 298.6L276.3 298.6L276.8 298.6L277.3 298.6L277.8 298.6L278.3 298.7L278.8 298.7L279.3 298.7L279.8 298.7L280.3 298.7L280.8 298.7L281.3 298.8L281.8 298.8L282.3 298.8L282.8 298.8L283.3 298.8L283.8 298.9L284.3 298.9L284.8 298.9L285.3 298.9L285.8 298.9L286.3 299L286.8 299L287.3 299L287.8 299L288.3 299L288.8 299.1L289.3 299.1L289.8 299.1L290.3 299.1L290.8 299.1L291.3 299.2L291.8 299.2L292.3 299.2L292.8 299.2L293.3 299.2L293.8 299.3L294.3 299.3L294.8 299.3L295.3 299.3L295.8 299.3L296.3 299.3L296.8 299.3L297.3 299.4L297.8 299.4L298.3 299.4L298.8 299.4L299.3 299.4L299.8 299.4L300.3 299.4L300.8 299.4L301.3 299.4L301.8 299.4L302.3 299.3L302.8 299.3L303.3 299.2L303.8 299.1L304.3 299L304.8 298.9L305.3 298.8L305.8 298.7L306.3 298.6L306.8 298.4L307.3 298.3L307.8 298.2L308.3 298L308.8 297.9L309.3 297.8L309.8 297.6L310.3 297.5L310.8 297.4L311.3 297.3L311.8 297.2L312.3 297.2L312.8 297.1L313.3 297L313.8 297L314.3 297L314.8 297L315.3 297L315.8 297.1L316.3 297.1L316.8 297.2L317.3 297.3L317.8 297.3L318.3 297.4L318.8 297.5L319.3 297.7L319.8 297.8L320.3 297.9L320.8 298L321.3 298.1L321.8 298.3L322.3 298.4L322.8 298.5L323.3 298.6L323.8 298.8L324.3 298.9L324.8 299L325.3 299.1L325.8 299.2L326.3 299.2L326.8 299.3L327.3 299.4L327.8 299.4L328.3 299.4L328.8 299.5L329.3 299.5L329.8 299.5L330.3 299.6L330.8 299.6L331.3 299.6L331.8 299.7L332.3 299.7L332.8 299.7L333.3 299.8L333.8 299.8L334.3 299.8L334.8 299.8L335.3 299.9L335.8 299.9L336.3 299.9L336.8 300L337.3 300L337.8 300L338.3 300L338.8 300.1L339.3 300.1L339.8 300.1L340.3 300.1L340.8 300.2L341.3 300.2L341.8 300.2L342.3 300.2L342.8 300.3L343.3 300.3L343.8 300.3L344.3 300.3L344.8 300.3L345.3 300.4L345.8 300.4L346.3 300.4L346.8 300.4L347.3 300.4L347.8 300.5L348.3 300.5L348.8 300.5L349.3 300.5L349.8 300.5L350.3 300.6L350.8 300.6L351.3 300.6L351.8 300.6L352.3 300.6L352.8 300.6L353.3 300.7L353.8 300.7L354.3 300.7L354.8 300.7L355.3 300.7L355.8 300.7L356.3 300.7L356.8 300.7L357.3 300.8L357.8 300.8L358.3 300.8L358.8 300.8L359.3 300.8L359.8 300.8L360.3 300.8L360.8 300.8L361.3 300.8L361.8 300.8L362.3 300.8L362.8 300.9L363.3 300.9L363.8 300.9L364.3 300.9L364.8 300.9L365.3 300.9L365.8 300.9L366.3 300.9L366.8 300.9L367.3 300.9L367.8 300.9L368.3 300.9L368.8 300.9L369.3 300.9L369.8 300.9L370.3 300.9L370.8 300.9L371.3 300.9L371.8 300.9L372.3 300.9L372.8 300.9L373.3 300.9L373.8 300.9L374.3 300.9L374.8 300.8L375.3 300.8L375.8 300.8L376.3 300.8L376.8 300.8L377.3 300.8L377.8 300.8L378.3 300.8L378.8 300.7L379.3 300.7L379.8 300.7L380.3 300.7L380.8 300.7L381.3 300.7L381.8 300.6L382.3 300.6L382.8 300.6L383.3 300.6L383.8 300.6L384.3 300.6L384.8 300.5L385.3 300.5L385.8 300.5L386.3 300.5L386.8 300.5L387.3 300.5L387.8 300.5L388.3 300.4L388.8 300.4L389.3 300.4L389.8 300.4L390.3 300.4L390.8 300.4L391.3 300.4L391.8 300.4L392.3 300.3L392.8 300.3L393.3 300.3L393.8 300.3L394.3 300.3L394.8 300.3L395.3 300.3L395.8 300.3L396.3 300.3L396.8 300.3L397.3 300.3L397.8 300.3L398.3 300.3L398.8 300.4L399.3 300.4L399.8 300.4L400.3 300.4L400.8 300.5L401.3 300.5L401.8 300.6L402.3 300.6L402.8 300.7L403.3 300.7L403.8 300.8L404.3 300.8L404.8 300.9L405.3 300.9L405.8 301L406.3 301.1L406.8 301.1L407.3 301.2L407.8 301.2L408.3 301.3L408.8 301.3L409.3 301.4L409.8 301.5L410.3 301.5L410.8 301.6L411.3 301.6L411.8 301.6L412.3 301.7L412.8 301.7L413.3 301.7L413.8 301.8L414.3 301.8L414.8 301.8L415.3 301.8L415.8 301.8L416.3 301.9L416.8 301.9L417.3 301.9L417.8 301.9L418.3 301.9L418.8 301.9L419.3 302L419.8 302L420.3 302L420.8 302L421.3 302L421.8 302L422.3 302L422.8 302.1L423.3 302.1L423.8 302.1L424.3 302.1L424.8 302.1L425.3 302.1L425.8 302.1L426.3 302.1L426.8 302.2L427.3 302.2L427.8 302.2L428.3 302.2L428.8 302.2L429.3 302.2L429.8 302.2L430.3 302.2L430.8 302.3L431.3 302.3L431.8 302.3L432.3 302.3L432.8 302.3L433.3 302.3L433.8 302.3L434.3 302.3L434.8 302.3L435.3 302.3L435.8 302.4L436.3 302.4L436.8 302.4L437.3 302.4L437.8 302.4L438.3 302.4L438.8 302.4L439.3 302.4L439.8 302.4L440.3 302.4L440.8 302.4L441.3 302.5L441.8 302.5L442.3 302.5L442.8 302.5L443.3 302.5L443.8 302.5L444.3 302.5L444.8 302.5L445.3 302.5L445.8 302.5L446.3 302.5L446.8 302.5L447.3 302.5L447.8 302.6L448.3 302.6L448.8 302.6L449.3 302.6L449.8 302.6L450.3 302.6L450.8 302.6L451.3 302.6L451.8 302.6L452.3 302.6L452.8 302.6L453.3 302.6L453.8 302.6L454.3 302.6L454.8 302.7L455.3 302.7L455.8 302.7L456.3 302.7L456.8 302.7L457.3 302.7L457.8 302.7L458.3 302.7L458.8 302.7L459.3 302.7L459.8 302.7L460.3 302.7L460.8 302.7L461.3 302.7L461.8 302.7L462.3 302.8L462.8 302.8L463.3 302.8L463.8 302.8L464.3 302.8L464.8 302.8L465.3 302.8L465.8 302.8L466.3 302.8L466.8 302.8L467.3 302.8L467.8 302.8L468.3 302.8L468.8 302.8L469.3 302.8L469.8 302.9L470.3 302.9L470.8 302.9L471.3 302.9L471.8 302.9L472.3 302.9L472.8 302.9L473.3 302.9L473.8 302.9L474.3 302.9L474.8 302.9L475.3 302.9L475.8 302.9L476.3 302.9L476.8 303L477.3 303L477.8 303L478.3 303L478.8 303L479.3 303L479.8 303L480.3 303L480.8 303L481.3 303L481.8 303L482.3 303L482.8 303L483.3 303.1L483.8 303.1L484.3 303.1L484.8 303.1L485.3 303.1L485.8 303.1L486.3 303.1L486.8 303.1L487.3 303.1L487.8 303.1L488.3 303.1L488.8 303.1L489.3 303.1L489.8 303.2L490.3 303.2L490.8 303.2L491.3 303.2L491.8 303.2L492.3 303.2L492.8 303.2L493.3 303.2L493.8 303.2L494.3 303.2L494.8 303.2L495.3 303.2L495.8 303.3L496.3 303.3L496.8 303.3L497.3 303.3L497.8 303.3L498.3 303.3L498.8 303.3L499.3 303.3L499.8 303.3L500.3 303.3L500.8 303.3L501.3 303.3L501.8 303.3L502.3 303.4L502.8 303.4L503.3 303.4L503.8 303.4L504.3 303.4L504.8 303.4L505.3 303.4L505.8 303.4L506.3 303.4L506.8 303.4L507.3 303.4L507.8 303.4L508.3 303.4L508.8 303.5L509.3 303.5L509.8 303.5L510.3 303.5L510.8 303.5L511.3 303.5L511.8 303.5L512.3 303.5L512.8 303.5L513.3 303.5L513.8 303.5L514.3 303.5L514.8 303.5L515.3 303.6L515.8 303.6L516.3 303.6L516.8 303.6L517.3 303.6L517.8 303.6L518.3 303.6L518.8 303.6L519.3 303.6L519.8 303.6L520.3 303.6L520.8 303.6L521.3 303.6L521.8 303.7L522.3 303.7L522.8 303.7L523.3 303.7L523.8 303.7L524.3 303.7L524.8 303.7L525.3 303.7L525.8 303.7L526.3 303.7L526.8 303.7L527.3 303.7L527.8 303.7L528.3 303.8L528.8 303.8L529.3 303.8L529.8 303.8L530.3 303.8L530.8 303.8L531.3 303.8L531.8 303.8L532.3 303.8L532.8 303.8L533.3 303.8L533.8 303.8L534.3 303.8L534.8 303.8L535.3 303.9L535.8 303.9L536.3 303.9L536.8 303.9L537.3 303.9L537.8 303.9L538.3 303.9L538.8 303.9L539.3 303.9L539.8 303.9L540.3 303.9L540.8 303.9L541.3 303.9L541.8 304L542.3 304L542.8 304L543.3 304L543.8 304L544.3 304L544.8 304L545.3 304L545.8 304L546.3 304L546.8 304L547.3 304L547.8 304L548.3 304L548.8 304.1L549.3 304.1L549.8 304.1L550.3 304.1L550.8 304.1L551.3 304.1L551.8 304.1L552.3 304.1L552.8 304.1L553.3 304.1L553.8 304.1L554.3 304.1L554.8 304.1L555.3 304.1L555.8 304.2L556.3 304.2L556.8 304.2L557.3 304.2L557.8 304.2L558.3 304.2L558.8 304.2L559.3 304.2L559.8 304.2L560.3 304.2L560.8 304.2L561.3 304.2L561.8 304.2L562.3 304.2L562.8 304.2L563.3 304.3L563.8 304.3L564.3 304.3L564.8 304.3L565.3 304.3L565.8 304.3L566.3 304.3L566.8 304.3L567.3 304.3L567.8 304.3L568.3 304.3L568.8 304.3L569.3 304.3L569.8 304.3L570.3 304.4L570.8 304.4L571.3 304.4L571.8 304.4L572.3 304.4L572.8 304.4L573.3 304.4L573.8 304.4L574.3 304.4L574.8 304.4L575.3 304.4L575.8 304.4L576.3 304.4L576.8 304.4L577.3 304.4L577.8 304.5L578.3 304.5L578.8 304.5L579.3 304.5L579.8 304.5L580.3 304.5L580.8 304.5L581.3 304.5L581.8 304.5L582.3 304.5L582.8 304.5L583.3 304.5L583.8 304.5L584.3 304.5L584.8 304.5L585.3 304.5L585.8 304.6L586.3 304.6L586.8 304.6L587.3 304.6L587.8 304.6L588.3 304.6L588.8 304.6L589.3 304.6L589.8 304.6L590.3 304.6L590.8 304.6L591.3 304.6L591.8 304.6L592.3 304.6L592.8 304.6L593.3 304.7L593.8 304.7L594.3 304.7L594.8 304.7L595.3 304.7L595.8 304.7L596.3 304.7L596.8 304.7L597.3 304.7L597.8 304.7L598.3 304.7L598.8 304.7L599.3 304.7L599.8 304.7L600.3 304.7L600.8 304.7L601.3 304.7L601.8 304.8L602.3 304.8L602.8 304.8L603.3 304.8L603.8 304.8L604.3 304.8L604.8 304.8L605.3 304.8L605.8 304.8L606.3 304.8L606.8 304.8L607.3 304.8L607.8 304.8L608.3 304.8L608.8 304.8L609.3 304.8L609.8 304.9L610.3 304.9L610.8 304.9L611.3 304.9L611.8 304.9L612.3 304.9L612.8 304.9L613.3 304.9L613.8 304.9L614.3 304.9L614.8 304.9L615.3 304.9L615.8 304.9L616.3 304.9L616.8 304.9L617.3 304.9L617.8 304.9L618.3 304.9L618.8 305L619.3 305L619.8 305L620.3 305L620.8 305L621.3 305L621.8 305L622.3 305L622.8 305L623 305"/>
<path d="M96.7 386.2L97.2 387.4L97.7 388.5L98.2 389.6L98.7 390.6L99.2 391.4L99.7 392.3L100.2 393.1L100.7 393.8L101.2 394.5L101.7 395.2L102.2 395.9L102.7 396.5L103.2 397.1L103.7 397.6L104.2 398.2L104.7 398.7L105.2 399.2L105.7 399.7L106.2 400.2L106.7 400.6L107.2 401L107.7 401.4L108.2 401.7L108.7 402.1L109.2 402.4L109.7 402.7L110.2 403.1L110.7 403.3L111.2 403.5L111.7 403.7L112.2 403.7L112.7 403.8L113.2 403.8L113.7 403.8L114.2 403.8L114.7 403.9L115.2 403.9L115.7 403.9L116.2 403.9L116.7 403.9L117.2 403.9L117.7 403.9L118.2 403.9L118.7 403.9L119.2 403.8L119.7 403.8L120.2 403.8L120.7 403.7L121.2 403.7L121.7 403.7L122.2 403.6L122.7 403.6L123.2 403.5L123.7 403.5L124.2 403.4L124.7 403.4L125.2 403.4L125.7 403.3L126.2 403.3L126.7 403.2L127.2 403.2L127.7 403.1L128.2 403.1L128.7 403.1L129.2 403L129.7 403L130.2 402.9L130.7 402.8L131.2 402.8L131.7 402.7L132.2 402.7L132.7 402.6L133.2 402.6L133.7 402.5L134.2 402.5L134.7 402.4L135.2 402.4L135.7 402.3L136.2 402.2L136.7 402.2L137.2 402.1L137.7 402.1L138.2 402L138.7 401.9L139.2 401.9L139.7 401.8L140.2 401.8L140.7 401.7L141.2 401.6L141.7 401.6L142.2 401.5L142.7 401.5L143.2 401.4L143.7 401.3L144.2 401.3L144.7 401.2L145.2 401.1L145.7 401.1L146.2 401L146.7 400.9L147.2 400.8L147.7 400.8L148.2 400.7L148.7 400.6L149.2 400.5L149.7 400.4L150.2 400.4L150.7 400.3L151.2 400.2L151.7 400.1L152.2 400L152.7 399.9L153.2 399.8L153.7 399.7L154.2 399.6L154.7 399.5L155.2 399.4L155.7 399.3L156.2 399.2L156.7 399.1L157.2 399L157.7 398.9L158.2 398.7L158.7 398.6L159.2 398.5L159.7 398.3L160.2 398.2L160.7 398.1L161.2 397.9L161.7 397.7L162.2 397.6L162.7 397.4L163.2 397.3L163.7 397.1L164.2 396.9L164.7 396.7L165.2 396.5L165.7 396.3L166.2 396.1L166.7 395.9L167.2 395.6L167.7 395.4L168.2 395.1L168.7 394.8L169.2 394.5L169.7 394.2L170.2 393.9L170.7 393.5L171.2 393.2L171.7 392.8L172.2 392.4L172.7 391.9L173.2 391.4L173.7 390.8L174.2 390.2L174.7 389.5L175.2 388.7L175.7 387.8L176.2 386.9L176.7 385.9L177.2 384.7L177.7 383.5L178.2 382.2L178.7 380.9L179.2 379.6L179.7 378.2L180.2 377L180.7 376L181.2 375L181.7 374.2L182.2 373.7L182.7 373.3L183.2 373L183.7 372.7L184.2 372.6L184.7 372.6L185.2 372.8L185.7 373.1L186.2 373.4L186.7 373.7L187.2 373.9L187.7 374.1L188.2 374.4L188.7 374.6L189.2 374.8L189.7 374.8L190.2 374.7L190.7 374.6L191.2 374.3L191.7 374.1L192.2 373.9L192.7 373.8L193.2 373.8L193.7 374L194.2 374.2L194.7 374.5L195.2 375.1L195.7 376L196.2 377.3L196.7 378.5L197.2 379.6L197.7 380.6L198.2 381.6L198.7 382.5L199.2 383.4L199.7 384.2L200.2 385L200.7 385.7L201.2 386.4L201.7 387.1L202.2 387.6L202.7 388.1L203.2 388.4L203.7 388.7L204.2 389L204.7 389.3L205.2 389.6L205.7 389.8L206.2 390L206.7 390.1L207.2 390.2L207.7 390.2L208.2 390.2L208.7 390.2L209.2 390.2L209.7 390.1L210.2 390.1L210.7 390.1L211.2 390.1L211.7 390L212.2 390L212.7 389.9L213.2 389.8L213.7 389.6L214.2 389.4L214.7 389.2L215.2 389L215.7 388.7L216.2 388.4L216.7 388.1L217.2 387.7L217.7 387.2L218.2 386.8L218.7 386.3L219.2 385.8L219.7 385.3L220.2 384.8L220.7 384.3L221.2 383.8L221.7 383.3L222.2 382.8L222.7 382.4L223.2 381.8L223.7 381.3L224.2 380.7L224.7 380L225.2 379.2L225.7 378.4L226.2 377.4L226.7 376.1L227.2 374.6L227.7 373L228.2 371.1L228.7 369.2L229.2 366.9L229.7 364.3L230.2 361.4L230.7 358.4L231.2 355.3L231.7 351.9L232.2 348.2L232.7 344.5L233.2 341.2L233.7 338.3L234.2 335.3L234.7 332.4L235.2 330.3L235.7 329.5L236.2 330.1L236.7 331.7L237.2 333.9L237.7 336.6L238.2 339.4L238.7 342.9L239.2 347.3L239.7 352.2L240.2 356.8L240.7 361.7L241.2 366.6L241.7 370.8L242.2 374L242.7 376.9L243.2 379.5L243.7 381.6L244.2 383.2L244.7 384.4L245.2 385.5L245.7 386.5L246.2 387.4L246.7 388.2L247.2 388.9L247.7 389.6L248.2 390.1L248.7 390.6L249.2 391.1L249.7 391.5L250.2 391.9L250.7 392.2L251.2 392.6L251.7 392.9L252.2 393.2L252.7 393.4L253.2 393.7L253.7 393.9L254.2 394.2L254.7 394.4L255.2 394.6L255.7 394.8L256.2 395L256.7 395.2L257.2 395.4L257.7 395.6L258.2 395.8L258.7 396L259.2 396.2L259.7 396.4L260.2 396.5L260.7 396.7L261.2 396.9L261.7 397L262.2 397.2L262.7 397.3L263.2 397.4L263.7 397.5L264.2 397.7L264.7 397.7L265.2 397.8L265.7 397.9L266.2 398L266.7 398.1L267.2 398.2L267.7 398.2L268.2 398.3L268.7 398.4L269.2 398.5L269.7 398.6L270.2 398.6L270.7 398.7L271.2 398.8L271.7 398.8L272.2 398.9L272.7 399L273.2 399.1L273.7 399.1L274.2 399.2L274.7 399.2L275.2 399.3L275.7 399.4L276.2 399.4L276.7 399.5L277.2 399.5L277.7 399.6L278.2 399.6L278.7 399.6L279.2 399.7L279.7 399.7L280.2 399.7L280.7 399.8L281.2 399.8L281.7 399.8L282.2 399.8L282.7 399.9L283.2 399.9L283.7 399.9L284.2 399.9L284.7 399.9L285.2 399.9L285.7 399.9L286.2 399.9L286.7 399.9L287.2 399.9L287.7 399.9L288.2 399.9L288.7 399.8L289.2 399.8L289.7 399.8L290.2 399.8L290.7 399.8L291.2 399.8L291.7 399.7L292.2 399.7L292.7 399.7L293.2 399.7L293.7 399.6L294.2 399.6L294.7 399.6L295.2 399.6L295.7 399.5L296.2 399.5L296.7 399.5L297.2 399.4L297.7 399.4L298.2 399.4L298.7 399.3L299.2 399.3L299.7 399.2L300.2 399.2L300.7 399.1L301.2 399.1L301.7 399L302.2 398.9L302.7 398.8L303.2 398.8L303.7 398.7L304.2 398.6L304.7 398.5L305.2 398.4L305.7 398.3L306.2 398.3L306.7 398.2L307.2 398.1L307.7 398L308.2 398L308.7 397.9L309.2 397.8L309.7 397.8L310.2 397.7L310.7 397.7L311.2 397.7L311.7 397.6L312.2 397.6L312.7 397.6L313.2 397.6L313.7 397.6L314.2 397.6L314.7 397.6L315.2 397.7L315.7 397.7L316.2 397.7L316.7 397.7L317.2 397.8L317.7 397.8L318.2 397.9L318.7 397.9L319.2 398L319.7 398L320.2 398.1L320.7 398.1L321.2 398.2L321.7 398.2L322.2 398.3L322.7 398.3L323.2 398.4L323.7 398.4L324.2 398.5L324.7 398.5L325.2 398.6L325.7 398.6L326.2 398.7L326.7 398.7L327.2 398.8L327.7 398.8L328.2 398.8L328.7 398.9L329.2 398.9L329.7 398.9L330.2 399L330.7 399L331.2 399.1L331.7 399.1L332.2 399.1L332.7 399.2L333.2 399.2L333.7 399.2L334.2 399.3L334.7 399.3L335.2 399.3L335.7 399.3L336.2 399.4L336.7 399.4L337.2 399.4L337.7 399.4L338.2 399.4L338.7 399.1L339.2 398.2L339.7 397.6L340.2 397.7L340.7 398.1L341.2 398.7L341.7 399.2L342.2 399.7L342.7 400L343.2 400L343.7 400L344.2 400.1L344.7 400.1L345.2 400.1L345.7 400.1L346.2 400.1L346.7 400.2L347.2 400.2L347.7 400.2L348.2 400.2L348.7 400.2L349.2 400.3L349.7 400.3L350.2 400.3L350.7 400.3L351.2 400.3L351.7 400.3L352.2 400.3L352.7 400.3L353.2 400.4L353.7 400.4L354.2 400.4L354.7 400.4L355.2 400.4L355.7 400.4L356.2 400.4L356.7 400.4L357.2 400.4L357.7 400.4L358.2 400.4L358.7 400.4L359.2 400.5L359.7 400.5L360.2 400.5L360.7 400.5L361.2 400.5L361.7 400.5L362.2 400.5L362.7 400.5L363.2 400.5L363.7 400.5L364.2 400.5L364.7 400.5L365.2 400.5L365.7 400.5L366.2 400.5L366.7 400.5L367.2 400.5L367.7 400.5L368.2 400.5L368.7 400.5L369.2 400.5L369.7 400.5L370.2 400.5L370.7 400.3L371.2 400.2L371.7 399.9L372.2 399.7L372.7 399.3L373.2 398.5L373.7 397.7L374.2 397.3L374.7 397.7L375.2 398.7L375.7 399.7L376.2 400.1L376.7 400.4L377.2 400.5L377.7 400.5L378.2 400.6L378.7 400.6L379.2 400.6L379.7 400.6L380.2 400.7L380.7 400.7L381.2 400.7L381.7 400.7L382.2 400.7L382.7 400.8L383.2 400.8L383.7 400.8L384.2 400.8L384.7 400.9L385.2 400.9L385.7 400.9L386.2 400.9L386.7 400.9L387.2 400.9L387.7 401L388.2 401L388.7 401L389.2 401L389.7 401L390.2 401L390.7 401.1L391.2 401.1L391.7 401.1L392.2 401.1L392.7 401.1L393.2 401.1L393.7 401.1L394.2 401.2L394.7 401.2L395.2 401.2L395.7 401.2L396.2 401.2L396.7 401.2L397.2 401.2L397.7 401.2L398.2 401.2L398.7 401.2L399.2 401.3L399.7 401.3L400.2 401.3L400.7 401.3L401.2 401.3L401.7 401.3L402.2 401.3L402.7 401.3L403.2 401.3L403.7 401.3L404.2 401.3L404.7 401.3L405.2 401.3L405.7 401.3L406.2 401.3L406.7 401.4L407.2 401.4L407.7 401.4L408.2 401.4L408.7 401.4L409.2 401.4L409.7 401.4L410.2 401.4L410.7 401.4L411.2 401.4L411.7 401.4L412.2 401.4L412.7 401.4L413.2 401.4L413.7 401.4L414.2 401.4L414.7 401.4L415.2 401.4L415.7 401.4L416.2 401.4L416.7 401.4L417.2 401.4L417.7 401.4L418.2 401.4L418.7 401.4L419.2 401.4L419.7 401.4L420.2 401.4L420.7 401.4L421.2 401.3L421.7 401.1L422.2 400.9L422.7 400.7L423.2 400.5L423.7 400.5L424.2 400.7L424.7 401L425.2 401.3L425.7 401.5L426.2 401.6L426.7 401.6L427.2 401.7L427.7 401.7L428.2 401.7L428.7 401.8L429.2 401.8L429.7 401.8L430.2 401.9L430.7 401.9L431.2 401.9L431.7 401.9L432.2 402L432.7 402L433.2 402L433.7 402L434.2 402.1L434.7 402.1L435.2 402.1L435.7 402.1L436.2 402.2L436.7 402.2L437.2 402.2L437.7 402.2L438.2 402.2L438.7 402.3L439.2 402.3L439.7 402.3L440.2 402.3L440.7 402.3L441.2 402.3L441.7 402.4L442.2 402.4L442.7 402.4L443.2 402.4L443.7 402.4L444.2 402.4L444.7 402.5L445.2 402.5L445.7 402.5L446.2 402.5L446.7 402.5L447.2 402.5L447.7 402.5L448.2 402.5L448.7 402.6L449.2 402.6L449.7 402.6L450.2 402.6L450.7 402.6L451.2 402.6L451.7 402.6L452.2 402.6L452.7 402.6L453.2 402.6L453.7 402.6L454.2 402.7L454.7 402.7L455.2 402.7L455.7 402.7L456.2 402.7L456.7 402.7L457.2 402.7L457.7 402.7L458.2 402.7L458.7 402.7L459.2 402.7L459.7 402.7L460.2 402.7L460.7 402.8L461.2 402.8L461.7 402.8L462.2 402.8L462.7 402.8L463.2 402.8L463.7 402.8L464.2 402.8L464.7 402.8L465.2 402.8L465.7 402.8L466.2 402.8L466.7 402.8L467.2 402.8L467.7 402.8L468.2 402.8L468.7 402.8L469.2 402.9L469.7 402.9L470.2 402.9L470.7 402.9L471.2 402.9L471.7 402.9L472.2 402.9L472.7 402.9L473.2 402.9L473.7 402.9L474.2 402.9L474.7 402.9L475.2 402.9L475.7 402.9L476.2 402.9L476.7 402.9L477.2 403L477.7 403L478.2 403L478.7 403L479.2 403L479.7 403L480.2 403L480.7 403L481.2 403L481.7 403L482.2 403L482.7 403L483.2 403.1L483.7 403.1L484.2 403.1L484.7 403.1L485.2 403.1L485.7 403.1L486.2 403.1L486.7 403.1L487.2 403.1L487.7 403.1L488.2 403.1L488.7 403.1L489.2 403.1L489.7 403.2L490.2 403.2L490.7 403.2L491.2 403.2L491.7 403.2L492.2 403.2L492.7 403.2L493.2 403.2L493.7 403.2L494.2 403.2L494.7 403.2L495.2 403.2L495.7 403.2L496.2 403.2L496.7 403.3L497.2 403.3L497.7 403.3L498.2 403.3L498.7 403.3L499.2 403.3L499.7 403.3L500.2 403.3L500.7 403.3L501.2 403.3L501.7 403.3L502.2 403.3L502.7 403.3L503.2 403.3L503.7 403.3L504.2 403.4L504.7 403.4L505.2 403.4L505.7 403.4L506.2 403.4L506.7 403.4L507.2 403.4L507.7 403.4L508.2 403.4L508.7 403.4L509.2 403.4L509.7 403.4L510.2 403.4L510.7 403.4L511.2 403.4L511.7 403.4L512.2 403.4L512.7 403.5L513.2 403.5L513.7 403.5L514.2 403.5L514.7 403.5L515.2 403.5L515.7 403.5L516.2 403.5L516.7 403.5L517.2 403.5L517.7 403.5L518.2 403.5L518.7 403.5L519.2 403.5L519.7 403.5L520.2 403.5L520.7 403.5L521.2 403.5L521.7 403.5L522.2 403.6L522.7 403.6L523.2 403.6L523.7 403.6L524.2 403.6L524.7 403.6L525.2 403.6L525.7 403.6L526.2 403.6L526.7 403.6L527.2 403.6L527.7 403.6L528.2 403.6L528.7 403.6L529.2 403.6L529.7 403.6L530.2 403.6L530.7 403.6L531.2 403.7L531.7 403.7L532.2 403.7L532.7 403.7L533.2 403.7L533.7 403.7L534.2 403.7L534.7 403.7L535.2 403.7L535.7 403.7L536.2 403.7L536.7 403.7L537.2 403.7L537.7 403.7L538.2 403.7L538.7 403.7L539.2 403.7L539.7 403.7L540.2 403.8L540.7 403.8L541.2 403.8L541.7 403.8L542.2 403.8L542.7 403.8L543.2 403.8L543.7 403.8L544.2 403.8L544.7 403.8L545.2 403.8L545.7 403.8L546.2 403.8L546.7 403.8L547.2 403.8L547.7 403.8L548.2 403.8L548.7 403.9L549.2 403.9L549.7 403.9L550.2 403.9L550.7 403.9L551.2 403.9L551.7 403.9L552.2 403.9L552.7 403.9L553.2 403.9L553.7 403.9L554.2 403.9L554.7 403.9L555.2 403.9L555.7 403.9L556.2 403.9L556.7 404L557.2 404L557.7 404L558.2 404L558.7 404L559.2 404L559.7 404L560.2 404L560.7 404L561.2 404L561.7 404L562.2 404L562.7 404L563.2 404L563.7 404.1L564.2 404.1L564.7 404.1L565.2 404.1L565.7 404.1L566.2 404.1L566.7 404.1L567.2 404.1L567.7 404.1L568.2 404.1L568.7 404.1L569.2 404.1L569.7 404.1L570.2 404.1L570.7 404.2L571.2 404.2L571.7 404.2L572.2 404.2L572.7 404.2L573.2 404.2L573.7 404.2L574.2 404.2L574.7 404.2L575.2 404.2L575.7 404.2L576.2 404.2L576.7 404.2L577.2 404.3L577.7 404.3L578.2 404.3L578.7 404.3L579.2 404.3L579.7 404.3L580.2 404.3L580.7 404.3L581.2 404.3L581.7 404.3L582.2 404.3L582.7 404.3L583.2 404.3L583.7 404.4L584.2 404.4L584.7 404.4L585.2 404.4L585.7 404.4L586.2 404.4L586.7 404.4L587.2 404.4L587.7 404.4L588.2 404.4L588.7 404.4L589.2 404.4L589.7 404.5L590.2 404.5L590.7 404.5L591.2 404.5L591.7 404.5L592.2 404.5L592.7 404.5L593.2 404.5L593.7 404.5L594.2 404.5L594.7 404.5L595.2 404.5L595.7 404.5L596.2 404.6L596.7 404.6L597.2 404.6L597.7 404.6L598.2 404.6L598.7 404.6L599.2 404.6L599.7 404.6L600.2 404.6L600.7 404.6L601.2 404.6L601.7 404.6L602.2 404.7L602.7 404.7L603.2 404.7L603.7 404.7L604.2 404.7L604.7 404.7L605.2 404.7L605.7 404.7L606.2 404.7L606.7 404.7L607.2 404.7L607.7 404.8L608.2 404.8L608.7 404.8L609.2 404.8L609.7 404.8L610.2 404.8L610.7 404.8L611.2 404.8L611.7 404.8L612.2 404.8L612.7 404.8L613.2 404.8L613.7 404.9L614.2 404.9L614.7 404.9L615.2 404.9L615.7 404.9L616.2 404.9L616.7 404.9L617.2 404.9L617.7 404.9L618.2 404.9L618.7 404.9L619.2 405L619.7 405L620.2 405L620.7 405L621.2 405L621.7 405L622 405"/>
</g>
<text x="83.3" y="435.7" font-size="21.5" text-anchor="middle" font-family='"Liberation Sans", sans-serif'>0</text>
<text x="218" y="435.7" font-size="21.5" text-anchor="middle" font-family='"Liberation Sans", sans-serif'>20</text>
<text x="352.7" y="435.7" font-size="21.5" text-anchor="middle" font-family='"Liberation Sans", sans-serif'>40</text>
<text x="487.5" y="435.7" font-size="21.5" text-anchor="middle" font-family='"Liberation Sans", sans-serif'>60</text>
<text x="622" y="435.7" font-size="21.5" text-anchor="middle" font-family='"Liberation Sans", sans-serif'>80</text>
<text x="275" y="469.9" font-size="34" font-family='"Liberation Sans", sans-serif'>2<tspan font-family='"Liberation Serif", serif'>&#952;</tspan> (degrees)</text>
<text x="0" y="0" transform="translate(58.3 300.5) rotate(-90)" font-size="28" fill="#000" font-family='"Liberation Sans", sans-serif' >Intensity (a.u.)</text>
<text transform="translate(14.56 49.1) scale(0.76 1)" font-size="38.3" stroke="#000" stroke-width="0.45" font-family='"Liberation Sans", sans-serif'>a</text>
<text transform="translate(36.6 48.2) scale(0.77 1)" font-size="40.1" stroke="#000" stroke-width="0.45" font-family='"Liberation Sans", sans-serif'>)</text>
<text x="0" y="0" transform="translate(189.6 53.5) rotate(-90)" font-size="17" fill="#1a1a1a" font-family='"Liberation Sans", sans-serif' stroke="#1a1a1a" stroke-width="0.3">110</text>
<path d="M172.6 37V43.6" stroke="#1a1a1a" stroke-width="1.3"/>
<text x="0" y="0" transform="translate(204.4 53.5) rotate(-90)" font-size="17" fill="#1a1a1a" font-family='"Liberation Sans", sans-serif' stroke="#1a1a1a" stroke-width="0.3">110</text>
<text x="0" y="0" transform="translate(255.4 35.4) rotate(-90)" font-size="17" fill="#1a1a1a" font-family='"Liberation Sans", sans-serif' stroke="#1a1a1a" stroke-width="0.3">200</text>
<text x="0" y="0" transform="translate(318.5 88.5) rotate(-90)" font-size="17" fill="#1a1a1a" font-family='"Liberation Sans", sans-serif' stroke="#1a1a1a" stroke-width="0.3">004</text>
<rect x="541.4" y="6.7" width="108.4" height="27.8" fill="#fff" stroke="#8a8a8a" stroke-width="1.2"/><path d="M543.5 20.8H590.3" stroke="#000" stroke-width="2.8"/><text x="595.1" y="27.5" font-size="20.6" font-family='"Liberation Sans", sans-serif'>paper</text>
<rect x="542" y="107.9" width="110.7" height="27.2" fill="#fff" stroke="#8a8a8a" stroke-width="1.2"/><path d="M544 121.4H591.7" stroke="#000" stroke-width="2.8"/><text x="597.2" y="128.3" font-size="20.6" font-family='"Liberation Sans", sans-serif'>AgNP</text>
<rect x="541.4" y="208.5" width="111.3" height="28.1" fill="#fff" stroke="#8a8a8a" stroke-width="1.2"/><path d="M543.5 222H590.7" stroke="#000" stroke-width="2.8"/><text x="596" y="228.9" font-size="20.6" font-family='"Liberation Sans", sans-serif'>CuNP</text>
<rect x="511.4" y="308.1" width="142.6" height="27.8" fill="#fff" stroke="#8a8a8a" stroke-width="1.2"/><path d="M513.9 321H560.6" stroke="#000" stroke-width="2.8"/><text x="566.2" y="329.1" font-size="20.6" font-family='"Liberation Sans", sans-serif'>Ag/CuNP</text>
<path d="M75.5 504.2H83.3M75.5 520.7H83.3M75.5 536.5H83.3M75.5 552.8H83.3M75.5 568.9H83.3M75.5 585.1H83.3M75.5 601.2H83.3M75.5 623.3H83.3M75.5 643H83.3M75.5 663H83.3M75.5 682.9H83.3M75.5 702.8H83.3M75.5 715.4H83.3M75.5 736.7H83.3M75.5 758.5H83.3M75.5 779.3H83.3M75.5 800.1H83.3M75.5 814.8H83.3M75.5 836.3H83.3M75.5 858.3H83.3M75.5 879.7H83.3M75.5 902.2H83.3M79.6 512.5H83.3M79.6 528.6H83.3M79.6 544.8H83.3M79.6 560.8H83.3M79.6 577.2H83.3M79.6 593.4H83.3M79.6 613.4H83.3M79.6 633.4H83.3M79.6 653.1H83.3M79.6 672.9H83.3M79.6 692.6H83.3M79.6 726.4H83.3M79.6 747.5H83.3M79.6 769H83.3M79.6 790.2H83.3M79.6 803.9H83.3M79.6 825.5H83.3M79.6 847.5H83.3M79.6 868.8H83.3M79.6 890.6H83.3M115.7 903.6V911M223.7 903.6V911M331.7 903.6V911M439.6 903.6V911M547.6 903.6V911M655.6 903.6V911" stroke="#000" stroke-width="1.5" fill="none"/>
<rect x="83.3" y="504.2" width="572.3" height="399.4" stroke="#000" stroke-width="1.5" fill="none"/>
<g fill="none" stroke="#000" stroke-width="3.9" stroke-linejoin="round" stroke-linecap="round">
<path d="M84.2 525.2L85 526.2L85.8 526.9L86.6 526.9L87.4 528.7L88.2 529.2L89 529.5L89.8 530.6L90.6 531.1L91.4 531.6L92.2 532L93 532.8L93.8 532.7L94.6 533.5L95.4 534L96.2 535.1L97 535.4L97.8 535.9L98.6 536.3L99.4 537.1L100.2 537.7L101 538L101.8 539.1L102.6 539.3L103.4 537.9L104.2 538.6L105 539.7L105.8 539.9L106.6 540.5L107.4 540.8L108.2 542.1L109 541L109.8 541.8L110.6 543.3L111.4 543.1L112.2 543.5L113 543.3L113.8 543.2L114.6 544.3L115.4 544.6L116.2 544.3L117 544.9L117.8 545.5L118.6 545.4L119.4 546L120.2 546.4L121 546.6L121.8 546.6L122.6 547.4L123.4 547.7L124.2 547.7L125 547.4L125.8 548.2L126.6 547.8L127.4 548.6L128.2 547.9L129 548.9L129.8 548.7L130.6 548.3L131.4 548.9L132.2 549.4L133 549.8L133.8 549.5L134.6 549.8L135.4 550.6L136.2 550.5L137 550.8L137.8 551L138.6 549.9L139.4 550.6L140.2 550.9L141 549.9L141.8 549.3L142.6 549.5L143.4 548.7L144.2 548.4L145 547.1L145.8 545.8L146.6 545.7L147.4 544.8L148.2 544.6L149 543.6L149.8 542L150.6 541.3L151.4 541.3L152.2 540.1L153 538.3L153.8 537.2L154.6 536L155.4 534.7L156.2 533.5L157 531.8L157.8 530.4L158.6 529.5L159.4 529.8L160.2 528L161 528.8L161.8 528.8L162.6 528.2L163.4 529.4L164.2 529.4L165 530.7L165.8 530.9L166.6 531.9L167.4 532.9L168.2 533.4L169 533.7L169.8 534.3L170.6 536.7L171.4 536.9L172.2 537.8L173 539.2L173.8 540.1L174.6 541.4L175.4 541.7L176.2 542.4L177 542.7L177.8 543.8L178.6 543.6L179.4 544.9L180.2 545.9L181 545L181.8 545.1L182.6 547L183.4 548.3L184.2 547.2L185 547.5L185.8 548.7L186.6 548.4L187.4 548.9L188.2 549.3L189 550.1L189.8 549.9L190.6 550.5L191.4 550.6L192.2 550.6L193 551.1L193.8 551.1L194.6 551.7L195.4 551.5L196.2 551.7L197 553.1L197.8 552.6L198.6 552.7L199.4 553.2L200.2 552.9L201 553.1L201.8 553.6L202.6 553.7L203.4 553.2L204.2 554.2L205 553.8L205.8 553.7L206.6 554L207.4 554.4L208.2 555.4L209 554.3L209.8 555L210.6 554.1L211.4 555.1L212.2 555.6L213 555.2L213.8 555.1L214.6 555.6L215.4 556L216.2 556.1L217 557L217.8 556.5L218.6 556.4L219.4 557.1L220.2 557.8L221 558.6L221.8 559.2L222.6 559.9L223.4 559.5L224.2 561L225 560.7L225.8 560.6L226.6 561.7L227.4 562.2L228.2 562L229 562.1L229.8 561.8L230.6 563.7L231.4 563L232.2 562.2L233 562.6L233.8 563.1L234.6 562.6L235.4 563.5L236.2 563.3L237 564.2L237.8 564.2L238.6 562.7L239.4 564L240.2 563.3L241 564.6L241.8 564.2L242.6 564.4L243.4 563.7L244.2 565.1L245 565.2L245.8 563.8L246.6 564.5L247.4 564.1L248.2 564.5L249 564L249.8 565.5L250.6 564.3L251.4 564.7L252.2 565.2L253 564.9L253.8 565.2L254.6 565.2L255.4 565.5L256.2 565.1L257 565.5L257.8 565.6L258.6 565.5L259.4 565.7L260.2 565.5L261 565.9L261.8 565.3L262.6 565.3L263.4 565L264.2 565L265 564.6L265.8 565.3L266.6 564.4L267.4 564.4L268.2 564.8L269 564.6L269.8 564.1L270.6 563.3L271.4 564.2L272.2 564L273 563.2L273.8 564.1L274.6 563.4L275.4 563.1L276.2 563.6L277 563.4L277.8 563.6L278.6 562.7L279.4 564.1L280.2 563L281 562.4L281.8 563.2L282.6 562.7L283.4 562.8L284.2 562.4L285 562.3L285.8 562.3L286.6 561.8L287.4 562.3L288.2 561.7L289 561.4L289.8 561.8L290.6 561.9L291.4 561.6L292.2 561.4L293 562.2L293.8 561.4L294.6 562L295.4 562.7L296.2 562.4L297 563.3L297.8 563.6L298.6 564.5L299.4 564.1L300.2 564.7L301 565.6L301.8 564.7L302.6 567.6L303.4 566.2L304.2 566.5L305 567.5L305.8 567.5L306.6 567L307.4 568.4L308.2 568.8L309 568.5L309.8 568.9L310.6 569.5L311.4 569.2L312.2 570.1L313 570.4L313.8 570.3L314.6 570.4L315.4 571.4L316.2 571.6L317 573L317.8 573.1L318.6 573.9L319.4 574.1L320.2 574.6L321 574.6L321.8 575.6L322.6 576.6L323.4 576L324.2 576.3L325 576.9L325.8 577L326.6 577.2L327.4 577.9L328.2 578L329 579L329.8 578.6L330.6 578.9L331.4 579.4L332.2 579L333 580L333.8 579.2L334.6 579.3L335.4 579.7L336.2 579.9L337 579.5L337.8 580.3L338.6 579.7L339.4 581.2L340.2 580.7L341 580.7L341.8 580.7L342.6 581.1L343.4 581.3L344.2 581.1L345 581.3L345.8 581.8L346.6 581.9L347.4 582.7L348.2 582.9L349 582.6L349.8 582.9L350.6 582.2L351.4 583.2L352.2 582.9L353 583.2L353.8 583.8L354.6 582.1L355.4 583.4L356.2 582.9L357 583.8L357.8 583.1L358.6 583.7L359.4 584.2L360.2 584.5L361 584.4L361.8 584.1L362.6 584.3L363.4 585L364.2 584.7L365 584L365.8 585.2L366.6 585L367.4 585.3L368.2 584.8L369 585.3L369.8 584.5L370.6 585.3L371.4 584.9L372.2 585.4L373 585.6L373.8 584.9L374.6 585.2L375.4 585.3L376.2 585.8L377 585.6L377.8 584.8L378.6 585.6L379.4 585.8L380.2 586.4L381 584.7L381.8 585.3L382.6 586.2L383.4 585L384.2 585.1L385 585.9L385.8 586.2L386.6 585.5L387.4 586.1L388.2 585.9L389 586.6L389.8 586L390.6 586.5L391.4 585.7L392.2 586.1L393 586.1L393.8 586.8L394.6 586.6L395.4 586L396.2 586.7L397 586.8L397.8 586.5L398.6 586.5L399.4 586.6L400.2 586L401 586.9L401.8 587L402.6 586.6L403.4 587.4L404.2 586.5L405 586.9L405.8 587.1L406.6 588.3L407.4 586.7L408.2 587.8L409 588.1L409.8 587.9L410.6 588.3L411.4 587.4L412.2 586.9L413 588.4L413.8 587.6L414.6 588L415.4 587.7L416.2 588.8L417 588.7L417.8 588.1L418.6 588.9L419.4 588.6L420.2 588.5L421 588.6L421.8 588.5L422.6 589L423.4 588.9L424.2 588.6L425 589.3L425.8 588.6L426.6 589L427.4 589.1L428.2 589.7L429 588.8L429.8 589.9L430.6 589.2L431.4 589.1L432.2 589L433 589.6L433.8 589.4L434.6 588.9L435.4 589L436.2 589.3L437 589.3L437.8 590.2L438.6 590.4L439.4 590.2L440.2 590L441 589.7L441.8 590L442.6 590.4L443.4 591.1L444.2 590.6L445 590.1L445.8 590.3L446.6 590.1L447.4 590L448.2 590.4L449 590.6L449.8 591.4L450.6 590.6L451.4 591.3L452.2 591.5L453 590.8L453.8 591.5L454.6 591.2L455.4 590.7L456.2 591.1L457 591L457.8 591L458.6 591L459.4 591.2L460.2 591.4L461 590.9L461.8 591.3L462.6 590.7L463.4 591.6L464.2 591.8L465 591.6L465.8 591.7L466.6 591.9L467.4 591.4L468.2 591.7L469 592.1L469.8 592.3L470.6 592.1L471.4 593.2L472.2 592L473 592.6L473.8 592.8L474.6 592.2L475.4 592L476.2 591.9L477 592.5L477.8 593L478.6 592.7L479.4 592.7L480.2 592.5L481 593L481.8 591.9L482.6 593L483.4 593L484.2 592.4L485 594.1L485.8 592.5L486.6 592.7L487.4 592.7L488.2 593.8L489 593L489.8 593.8L490.6 593.8L491.4 593.7L492.2 593L493 593.4L493.8 594.5L494.6 593.2L495.4 593.5L496.2 593.8L497 594.3L497.8 594.1L498.6 594.3L499.4 593.6L500.2 594.5L501 594.4L501.8 593.4L502.6 594.9L503.4 595.3L504.2 593.9L505 594.3L505.8 595L506.6 593.7L507.4 593.5L508.2 593.9L509 594.2L509.8 594.2L510.6 594.8L511.4 594.7L512.2 594L513 594.9L513.8 595.5L514.6 595.2L515.4 595.1L516.2 594.7L517 595.2L517.8 594.3L518.6 595.1L519.4 594.7L520.2 595.3L521 595L521.8 594.3L522.6 594.9L523.4 595.4L524.2 594.4L525 594.7L525.8 594.6L526.6 594.3L527.4 595.4L528.2 595.6L529 595.3L529.8 595.1L530.6 595L531.4 595.1L532.2 594.7L533 595.5L533.8 595.5L534.6 595.5L535.4 594.9L536.2 595.2L537 595.1L537.8 596L538.6 595.3L539.4 594.3L540.2 595.4L541 596.1L541.8 595.6L542.6 595.7L543.4 595.3L544.2 594.4L545 594.5L545.8 594.8L546.6 595.3L547.4 595.6L548.2 595.8L549 595.3L549.8 595.9L550.6 595.4L551.4 595.3L552.2 596L553 595.2L553.8 594.4L554.6 595.2L555.4 595.8L556.2 594.4L557 595.6L557.8 595.7L558.6 595.2L559.4 595.2L560.2 595.7L561 595.7L561.8 596.6L562.6 596.2L563.4 595.4L564.2 595.7L565 596.5L565.8 597L566.6 596.4L567.4 596.4L568.2 597.2L569 596.3L569.8 596.3L570.6 595.8L571.4 596.3L572.2 597.5L573 595.9L573.8 596.6L574.6 596L575.4 596.8L576.2 597.2L577 596.7L577.8 597.2L578.6 597.3L579.4 597.2L580.2 597.9L581 597.5L581.8 597.1L582.6 597L583.4 597L584.2 597.7L585 597.4L585.8 598.8L586.6 598.5L587.4 597.6L588.2 597.6L589 598.6L589.8 597L590.6 597.7L591.4 598.4L592.2 597.6L593 597.9L593.8 598L594.6 598.5L595.4 598.3L596.2 598.4L597 598.6L597.8 598.4L598.6 598.9L599.4 598.1L600.2 597.8L601 597.7L601.8 597.8L602.6 598.3L603.4 599.1L604.2 598.7L605 598.4L605.8 598.3L606.6 598.5L607.4 598.6L608.2 598.6L609 598.3L609.8 598.7L610.6 599.4L611.4 598L612.2 598.9L613 598.1L613.8 599.2L614.6 598.8L615.4 598.3L616.2 599.3L617 600.1L617.8 599.4L618.6 599.9L619.4 599.3L620.2 598.4L621 599.7L621.8 599.3L622.6 598.9L623.4 599.9L624.2 599.8L625 599.4L625.8 600.1L626.6 599.4L627.4 600.1L628.2 599.4L629 600.1L629.8 599.4L630.6 600.7L631.4 600.1L632.2 600.7L633 599.7L633.8 599.9L634.6 600.6L635.4 599L636.2 599.8L637 600.8L637.8 600.6L638.6 600.8L639.4 600.3L640.2 600.7L641 600.2L641.8 599.9L642.6 599.8L643.4 600.4L644.2 600.4L645 600.4L645.8 599.2L646.6 599.9L647.4 600.6L648.2 601L649 600.7L649.8 600.6L650.6 600L651.4 601.9L652.2 600.6L653 601.9L653.8 601.8L654.6 601.3L655 600.9"/>
<path d="M84.2 615.9L85 616.4L85.8 617.3L86.6 617.2L87.4 619.9L88.2 620.4L89 620.5L89.8 621.7L90.6 622.2L91.4 622.6L92.2 624L93 624.1L93.8 624.8L94.6 625.2L95.4 626.4L96.2 626.8L97 627.7L97.8 627.8L98.6 628.7L99.4 628.8L100.2 630.1L101 630.2L101.8 630.8L102.6 631.2L103.4 630.9L104.2 632.1L105 633.1L105.8 631.8L106.6 632.2L107.4 632.7L108.2 634.2L109 634.4L109.8 635.4L110.6 635.7L111.4 636L112.2 636.5L113 636.7L113.8 637.5L114.6 637L115.4 637.6L116.2 638.2L117 639.2L117.8 638.4L118.6 638.5L119.4 639L120.2 640L121 639.7L121.8 640.6L122.6 639.4L123.4 641L124.2 641.2L125 640.3L125.8 641.2L126.6 641.8L127.4 641.4L128.2 642L129 642.8L129.8 642L130.6 641.9L131.4 641.9L132.2 642.9L133 642.9L133.8 643.3L134.6 643.7L135.4 644.4L136.2 643.9L137 643.8L137.8 643.4L138.6 644.8L139.4 643.9L140.2 644.1L141 642.8L141.8 641.9L142.6 641.9L143.4 641.1L144.2 639.9L145 639.5L145.8 640L146.6 638.6L147.4 637.9L148.2 636.8L149 635.7L149.8 635.4L150.6 633.8L151.4 632.1L152.2 630.7L153 628.6L153.8 627.3L154.6 625.8L155.4 622.8L156.2 621.9L157 619.4L157.8 618.6L158.6 617.1L159.4 616.6L160.2 616.4L161 616.3L161.8 616.4L162.6 616.8L163.4 617.2L164.2 617.4L165 618.6L165.8 619.9L166.6 621.3L167.4 622.4L168.2 624.5L169 624.8L169.8 625.9L170.6 628.3L171.4 628.3L172.2 630.3L173 630.6L173.8 632.2L174.6 632.2L175.4 634.4L176.2 634.7L177 635.1L177.8 636.9L178.6 637.1L179.4 637.3L180.2 637.5L181 638.4L181.8 639L182.6 640L183.4 640.7L184.2 640.7L185 641.3L185.8 641.8L186.6 641.9L187.4 642.7L188.2 643.3L189 644.1L189.8 644.7L190.6 644L191.4 644.7L192.2 644.3L193 645.4L193.8 644.3L194.6 644.3L195.4 643.4L196.2 643.2L197 643.2L197.8 642.1L198.6 641.1L199.4 638.3L200.2 635.8L201 629.1L201.8 624.1L202.6 616.4L203.4 615.2L204.2 621.7L205 630.4L205.8 637.2L206.6 640.6L207.4 642.6L208.2 643.8L209 645L209.8 646L210.6 646.7L211.4 646.9L212.2 646.8L213 647.5L213.8 648.2L214.6 647.7L215.4 649.4L216.2 649.4L217 649.9L217.8 650.9L218.6 651.3L219.4 651.6L220.2 651.5L221 652.5L221.8 653L222.6 652.8L223.4 654.1L224.2 654.3L225 653.6L225.8 654.8L226.6 654.4L227.4 655.7L228.2 655.7L229 654.9L229.8 655.1L230.6 655.7L231.4 655.7L232.2 656.6L233 656.4L233.8 656.1L234.6 656.7L235.4 655.7L236.2 656.9L237 657.3L237.8 657L238.6 656.9L239.4 657.6L240.2 658.4L241 657.8L241.8 657.4L242.6 658.7L243.4 657.4L244.2 658.6L245 658.3L245.8 659.1L246.6 658.5L247.4 659.7L248.2 659.3L249 658.5L249.8 658.5L250.6 659.4L251.4 660.2L252.2 659.8L253 659.8L253.8 659.8L254.6 660.2L255.4 660.1L256.2 659.9L257 659.1L257.8 659.9L258.6 659.7L259.4 658.1L260.2 659.4L261 658.4L261.8 657.5L262.6 656.4L263.4 657.1L264.2 656.5L265 655.4L265.8 654.2L266.6 654.6L267.4 652.7L268.2 651.7L269 652.4L269.8 652L270.6 652.3L271.4 653L272.2 654.7L273 654.2L273.8 655.9L274.6 656L275.4 656.1L276.2 656.2L277 657.1L277.8 656.9L278.6 657L279.4 657.3L280.2 656.5L281 656.3L281.8 656.1L282.6 656.7L283.4 657.2L284.2 656.7L285 656.9L285.8 656L286.6 656.2L287.4 656L288.2 655.7L289 657.1L289.8 656.7L290.6 656L291.4 656L292.2 656.3L293 655.7L293.8 656.5L294.6 655.7L295.4 656.3L296.2 656.3L297 656.9L297.8 657L298.6 657.5L299.4 658.3L300.2 658.9L301 659.6L301.8 660.3L302.6 661.5L303.4 661.7L304.2 661.9L305 662.9L305.8 662.8L306.6 664.2L307.4 664.3L308.2 663.9L309 665.3L309.8 665.8L310.6 664.7L311.4 666L312.2 666.6L313 666.4L313.8 667.3L314.6 667.9L315.4 669L316.2 669.4L317 671L317.8 670.1L318.6 671.2L319.4 671.1L320.2 671.6L321 671.4L321.8 671.5L322.6 672.4L323.4 673.4L324.2 674.1L325 674L325.8 674.3L326.6 674.1L327.4 675.4L328.2 675.7L329 675.1L329.8 675.6L330.6 675.5L331.4 676.9L332.2 676.7L333 676.8L333.8 677.3L334.6 677.6L335.4 677.5L336.2 677.3L337 677.5L337.8 677.5L338.6 678.7L339.4 679.7L340.2 678.1L341 679.2L341.8 679.5L342.6 679L343.4 679.7L344.2 679.3L345 680.5L345.8 679.8L346.6 680.3L347.4 680.7L348.2 680.4L349 679.9L349.8 680.7L350.6 681.4L351.4 681.2L352.2 681.5L353 681.1L353.8 681.8L354.6 682.2L355.4 682L356.2 682.9L357 682.1L357.8 681.8L358.6 681.6L359.4 683L360.2 682.5L361 683.1L361.8 683L362.6 683.6L363.4 683.5L364.2 682.9L365 683.3L365.8 683.8L366.6 682.9L367.4 684.2L368.2 684.2L369 684.2L369.8 683.8L370.6 684.1L371.4 683.6L372.2 684.2L373 684L373.8 684.4L374.6 684.2L375.4 684.6L376.2 685.1L377 684L377.8 685.1L378.6 683.9L379.4 683.8L380.2 684.7L381 684.8L381.8 685L382.6 684.1L383.4 684.8L384.2 684.9L385 685.4L385.8 684.8L386.6 685.1L387.4 684.4L388.2 684.8L389 684.7L389.8 685.2L390.6 684.5L391.4 684.6L392.2 685.2L393 685.8L393.8 685.2L394.6 685.2L395.4 685L396.2 685.7L397 685.5L397.8 686.1L398.6 685.5L399.4 685L400.2 685.2L401 685.1L401.8 685.1L402.6 686.3L403.4 686.1L404.2 685.3L405 686.7L405.8 686.1L406.6 685.7L407.4 686.4L408.2 686.3L409 686.1L409.8 685.7L410.6 686.7L411.4 687L412.2 685.8L413 687.4L413.8 687.5L414.6 687.2L415.4 687.6L416.2 687.5L417 687.4L417.8 687.8L418.6 688.7L419.4 687.5L420.2 688.4L421 688.4L421.8 688.1L422.6 688.3L423.4 688L424.2 688.3L425 688.8L425.8 689L426.6 688.6L427.4 690.4L428.2 688.9L429 689.2L429.8 689.2L430.6 689.2L431.4 690L432.2 689.3L433 690.2L433.8 690.1L434.6 689.2L435.4 690.2L436.2 689.5L437 691.1L437.8 689.8L438.6 689.6L439.4 689.2L440.2 689.5L441 689.9L441.8 689.7L442.6 689.7L443.4 690L444.2 690.2L445 691L445.8 689.7L446.6 690.2L447.4 690.1L448.2 689.9L449 690.1L449.8 690.3L450.6 691.1L451.4 690.7L452.2 690.6L453 691.2L453.8 691.1L454.6 691L455.4 691.3L456.2 690.8L457 691.6L457.8 691.5L458.6 691.2L459.4 690.9L460.2 692.2L461 691.6L461.8 693L462.6 691.4L463.4 692.2L464.2 691.7L465 692L465.8 692.4L466.6 691.7L467.4 692.1L468.2 692.3L469 692.4L469.8 692.7L470.6 692.9L471.4 692.9L472.2 692.6L473 692.3L473.8 692L474.6 692.1L475.4 692.1L476.2 692.6L477 692.1L477.8 691.6L478.6 692.4L479.4 691.7L480.2 691.6L481 691.7L481.8 691.9L482.6 690.4L483.4 690.8L484.2 691.2L485 690.7L485.8 690.2L486.6 689.9L487.4 690.4L488.2 689.5L489 690.4L489.8 690.9L490.6 690.8L491.4 691.6L492.2 691.7L493 692L493.8 692.2L494.6 693.4L495.4 693L496.2 693L497 692.9L497.8 694.2L498.6 693.8L499.4 693.5L500.2 693.3L501 692.9L501.8 693.8L502.6 693.8L503.4 693.1L504.2 694.3L505 694.1L505.8 693.4L506.6 693.6L507.4 693.7L508.2 694L509 693.9L509.8 693.3L510.6 694.7L511.4 694.3L512.2 694.7L513 694.8L513.8 694.1L514.6 694.4L515.4 694.7L516.2 694.7L517 694.3L517.8 694.2L518.6 694.5L519.4 694.2L520.2 694.3L521 693.7L521.8 694.7L522.6 694.3L523.4 694.5L524.2 694.8L525 695L525.8 695.8L526.6 695.1L527.4 694.4L528.2 695.1L529 694.9L529.8 695.4L530.6 694.9L531.4 695L532.2 695.1L533 695.1L533.8 694.6L534.6 695.2L535.4 695.6L536.2 696.2L537 695.5L537.8 695.6L538.6 696L539.4 696.1L540.2 696.6L541 696.2L541.8 696L542.6 696.7L543.4 696.9L544.2 696L545 696.4L545.8 695.6L546.6 696.2L547.4 696L548.2 696.4L549 696.3L549.8 696.5L550.6 696.5L551.4 696.8L552.2 696.7L553 696.3L553.8 696L554.6 697.2L555.4 697.2L556.2 696.4L557 696.9L557.8 695.9L558.6 695.9L559.4 696.5L560.2 697.3L561 696.1L561.8 696.2L562.6 697.3L563.4 695.7L564.2 696.9L565 696.8L565.8 696.5L566.6 696.7L567.4 697.8L568.2 696.2L569 696.6L569.8 696.7L570.6 696.6L571.4 696.3L572.2 697.7L573 697.2L573.8 696.4L574.6 696.9L575.4 697.5L576.2 697.6L577 696.9L577.8 697.5L578.6 697.8L579.4 697.9L580.2 698L581 697L581.8 698.7L582.6 698.1L583.4 698.9L584.2 699.4L585 698.1L585.8 697.7L586.6 698.7L587.4 698.3L588.2 698.3L589 698.1L589.8 699.4L590.6 698.5L591.4 698.1L592.2 698.6L593 698.3L593.8 699L594.6 698.8L595.4 698.6L596.2 699.4L597 698.9L597.8 699.5L598.6 699.8L599.4 699.1L600.2 699.1L601 699.5L601.8 699.9L602.6 699.5L603.4 699.6L604.2 699.6L605 699.8L605.8 700L606.6 699.5L607.4 699.7L608.2 700L609 699.8L609.8 700.2L610.6 700.5L611.4 700.4L612.2 700.3L613 700.3L613.8 701.6L614.6 701.3L615.4 700.5L616.2 700.8L617 702.1L617.8 701.9L618.6 701.4L619.4 701.8L620.2 700.5L621 700.9L621.8 700.8L622.6 699.3L623.4 699.3L624.2 699.7L625 699.5L625.8 698.3L626.6 698.3L627.4 698.6L628.2 697.5L629 697.3L629.8 698.4L630.6 698.9L631.4 700.3L632.2 700.2L633 700.2L633.8 702L634.6 701.1L635.4 701.8L636.2 702L637 702.2L637.8 702L638.6 702.2L639.4 702L640.2 701.4L641 702L641.8 702.1L642.6 702.1L643.4 702.3L644.2 702L645 702.9L645.8 703.1L646.6 701.4L647.4 702.4L648.2 702.2L649 701.3L649.8 702.7L650.6 702.3L651.4 702.4L652.2 702.3L653 703.1L653.8 703.2L654.6 702.8L655 703"/>
<path d="M84 707.6L84.8 706L85.6 707.9L86.4 708.1L87.2 708.9L88 710L88.8 710.2L89.6 712.1L90.4 712.7L91.2 715.5L92 714.9L92.8 715.4L93.6 716.2L94.4 716.8L95.2 717.6L96 718.8L96.8 719.8L97.6 719.3L98.4 717.9L99.2 715L100 717.8L100.8 720.9L101.6 721.6L102.4 722L103.2 722.7L104 723L104.8 723.4L105.6 722L106.4 720.1L107.2 716.3L108 711L108.8 714.2L109.6 720.4L110.4 724.8L111.2 725.7L112 726.5L112.8 725.4L113.6 727.4L114.4 726.8L115.2 726.9L116 728.2L116.8 728.9L117.6 728.9L118.4 729.2L119.2 730.1L120 730.5L120.8 731.6L121.6 731.6L122.4 731.7L123.2 732.5L124 732.2L124.8 732.2L125.6 733.1L126.4 733.3L127.2 733.1L128 732.8L128.8 733.3L129.6 732.1L130.4 733.5L131.2 733.4L132 732.5L132.8 733.2L133.6 732.7L134.4 733.5L135.2 732.1L136 732.6L136.8 733.4L137.6 733.9L138.4 732.8L139.2 733.9L140 734.5L140.8 734.4L141.6 735.6L142.4 734.5L143.2 735L144 733.9L144.8 734.1L145.6 732.5L146.4 731.3L147.2 729.7L148 730.1L148.8 728.3L149.6 727L150.4 725.7L151.2 723.9L152 721.9L152.8 720.1L153.6 718.4L154.4 717.8L155.2 715.1L156 714L156.8 712.7L157.6 711.7L158.4 710.9L159.2 709.7L160 709.1L160.8 709.7L161.6 710.1L162.4 709.8L163.2 709.5L164 709.2L164.8 709.5L165.6 710.1L166.4 711.9L167.2 712.6L168 714.3L168.8 715.4L169.6 716.9L170.4 718L171.2 720.3L172 721.1L172.8 722.3L173.6 722L174.4 724L175.2 725.1L176 726.6L176.8 726.3L177.6 728.7L178.4 729.5L179.2 729.2L180 730L180.8 730.7L181.6 731.6L182.4 732.3L183.2 733.4L184 732.8L184.8 733.7L185.6 733.9L186.4 735L187.2 735L188 735.7L188.8 735.1L189.6 735.9L190.4 736L191.2 737.4L192 737.4L192.8 737.3L193.6 737.6L194.4 738.3L195.2 738.1L196 738.4L196.8 739.4L197.6 740.7L198.4 739.9L199.2 740.2L200 740.3L200.8 740.5L201.6 741.7L202.4 742.1L203.2 742L204 742.4L204.8 742.5L205.6 742.7L206.4 742.1L207.2 742.7L208 743.1L208.8 742.9L209.6 743.2L210.4 743.2L211.2 743.7L212 744.5L212.8 744.2L213.6 744.6L214.4 745.3L215.2 745.6L216 746.3L216.8 744.9L217.6 746.6L218.4 746.3L219.2 746.9L220 747.6L220.8 748L221.6 748.4L222.4 748.4L223.2 749.4L224 748.9L224.8 749.4L225.6 750.1L226.4 749.8L227.2 751.3L228 751.1L228.8 751.9L229.6 751.2L230.4 751.4L231.2 752L232 752.6L232.8 752.4L233.6 753.1L234.4 753.2L235.2 754L236 753.1L236.8 753.9L237.6 753.2L238.4 753.1L239.2 753.3L240 753.1L240.8 753.7L241.6 754L242.4 753.6L243.2 753.8L244 754.2L244.8 753.6L245.6 753.6L246.4 753.4L247.2 752.9L248 754L248.8 753L249.6 754.1L250.4 753.9L251.2 754.6L252 754.3L252.8 754.2L253.6 754.9L254.4 754.7L255.2 755L256 755.1L256.8 755L257.6 754.9L258.4 754.6L259.2 754.8L260 753.8L260.8 754.6L261.6 754L262.4 755L263.2 754.9L264 753.3L264.8 754.2L265.6 753.9L266.4 753.4L267.2 754L268 753.5L268.8 752.8L269.6 753.5L270.4 753.5L271.2 753.5L272 752.9L272.8 753.7L273.6 753.7L274.4 752.7L275.2 752.8L276 752.9L276.8 752.5L277.6 753.3L278.4 752.5L279.2 751.8L280 751.7L280.8 752L281.6 752.9L282.4 751.7L283.2 751.8L284 751.9L284.8 751.5L285.6 752.5L286.4 751.2L287.2 751.8L288 751.5L288.8 751.6L289.6 750.8L290.4 752.1L291.2 751.2L292 751.3L292.8 750.9L293.6 751L294.4 751.7L295.2 751.9L296 751.9L296.8 752.4L297.6 752.6L298.4 752.8L299.2 753.6L300 754L300.8 754.2L301.6 755.2L302.4 756.1L303.2 756.2L304 756.6L304.8 757.7L305.6 758.8L306.4 758.3L307.2 758.9L308 759.3L308.8 760.4L309.6 759.6L310.4 761L311.2 761.9L312 761.5L312.8 763L313.6 763L314.4 763L315.2 763.8L316 763.5L316.8 764.4L317.6 766L318.4 765.2L319.2 767L320 766.6L320.8 767.5L321.6 767.6L322.4 767.1L323.2 768.3L324 769.2L324.8 769.1L325.6 769.4L326.4 770.6L327.2 770.5L328 770.3L328.8 771L329.6 771.9L330.4 771.5L331.2 772.3L332 772.8L332.8 772.3L333.6 772L334.4 772.2L335.2 773L336 773.6L336.8 773.6L337.6 774L338.4 773.8L339.2 774.3L340 774.2L340.8 774.4L341.6 774.2L342.4 774.3L343.2 774.9L344 774.8L344.8 775.1L345.6 776L346.4 775.8L347.2 777.3L348 776.6L348.8 776L349.6 776.8L350.4 776.8L351.2 776.4L352 777.4L352.8 776.7L353.6 775.8L354.4 777.7L355.2 777.2L356 778.3L356.8 777.4L357.6 777.3L358.4 778.7L359.2 777.7L360 778.4L360.8 779.1L361.6 778.6L362.4 778.6L363.2 778.8L364 779.3L364.8 778.7L365.6 779.4L366.4 779.5L367.2 780.4L368 779.3L368.8 779.2L369.6 780L370.4 779.6L371.2 780L372 780L372.8 780.6L373.6 779.8L374.4 780.2L375.2 779.1L376 780L376.8 781.1L377.6 780.2L378.4 780.3L379.2 780.1L380 781L380.8 780.9L381.6 780.4L382.4 781.3L383.2 781.2L384 781.5L384.8 780.9L385.6 782.1L386.4 781.5L387.2 781.4L388 781.3L388.8 781.5L389.6 782.1L390.4 781.6L391.2 782.3L392 782.2L392.8 782.6L393.6 782.5L394.4 782.1L395.2 781.4L396 782.5L396.8 782.8L397.6 782.6L398.4 782.8L399.2 782.4L400 782.6L400.8 782.4L401.6 783.5L402.4 783L403.2 782.8L404 782.5L404.8 783.1L405.6 783.9L406.4 783.5L407.2 783.1L408 784.1L408.8 784.2L409.6 784L410.4 784L411.2 784.3L412 784.1L412.8 784.3L413.6 783.6L414.4 784.7L415.2 784.3L416 785.2L416.8 783.4L417.6 784.8L418.4 785L419.2 784.5L420 784.9L420.8 785.1L421.6 785.1L422.4 784.7L423.2 784.9L424 785.5L424.8 785.7L425.6 785.2L426.4 785.3L427.2 785.4L428 785.8L428.8 784.9L429.6 784.9L430.4 785.6L431.2 785.1L432 785.4L432.8 785.8L433.6 786L434.4 785.3L435.2 786.3L436 785.2L436.8 786.3L437.6 785.4L438.4 785.6L439.2 786.5L440 786.1L440.8 786L441.6 786.2L442.4 786.7L443.2 786.5L444 786.6L444.8 787.1L445.6 786.4L446.4 786.6L447.2 786.6L448 787.4L448.8 787.4L449.6 787.6L450.4 787.1L451.2 787.1L452 787.6L452.8 787.1L453.6 787.8L454.4 787.8L455.2 787.2L456 787.6L456.8 787.6L457.6 788.5L458.4 789L459.2 787.9L460 788L460.8 787.1L461.6 788.3L462.4 788.3L463.2 787.9L464 788.8L464.8 787.8L465.6 788.5L466.4 788.8L467.2 788.2L468 789.2L468.8 789.4L469.6 788.4L470.4 788.5L471.2 789.4L472 789.2L472.8 788.8L473.6 789.3L474.4 789.4L475.2 789.4L476 789.9L476.8 789.8L477.6 790.5L478.4 790.3L479.2 790.1L480 790.3L480.8 790.5L481.6 790.2L482.4 789.4L483.2 790.4L484 790.1L484.8 790.9L485.6 790.2L486.4 790.5L487.2 790.4L488 791.1L488.8 790.5L489.6 790.3L490.4 790.6L491.2 790.4L492 790.7L492.8 790.7L493.6 790.9L494.4 791.7L495.2 790.7L496 791L496.8 791L497.6 791.5L498.4 790.7L499.2 791L500 791.4L500.8 791.8L501.6 791.6L502.4 791.5L503.2 791.4L504 792.1L504.8 792.6L505.6 792.2L506.4 792.2L507.2 792.4L508 791.8L508.8 792.2L509.6 792.3L510.4 792.6L511.2 792.5L512 792L512.8 793.1L513.6 793.4L514.4 792.6L515.2 792.9L516 792.9L516.8 793.1L517.6 792.2L518.4 793.6L519.2 792.7L520 793.5L520.8 793L521.6 792.8L522.4 793L523.2 793.5L524 792.7L524.8 793L525.6 793L526.4 792.5L527.2 793.9L528 793.6L528.8 793.4L529.6 793.9L530.4 793L531.2 793.5L532 794.3L532.8 794L533.6 792.6L534.4 792.2L535.2 793.2L536 794.2L536.8 793.5L537.6 793.7L538.4 794.1L539.2 793.4L540 793.9L540.8 794.2L541.6 794.1L542.4 794L543.2 793.6L544 794.1L544.8 793.7L545.6 794.5L546.4 795.1L547.2 793.6L548 793L548.8 793.8L549.6 794.2L550.4 794.5L551.2 794.5L552 793.7L552.8 793.7L553.6 794.7L554.4 793.6L555.2 794.6L556 794.1L556.8 794.6L557.6 794.6L558.4 794.6L559.2 794.7L560 793.9L560.8 794.6L561.6 794.5L562.4 794.7L563.2 795.1L564 794.5L564.8 794.4L565.6 794.4L566.4 794.7L567.2 795.2L568 794.5L568.8 795.5L569.6 795.1L570.4 795L571.2 794.5L572 795.3L572.8 795.5L573.6 794.5L574.4 795.9L575.2 796.1L576 795.6L576.8 795.7L577.6 796.6L578.4 796.2L579.2 795.3L580 795.7L580.8 795.7L581.6 795.8L582.4 794.8L583.2 796.3L584 795.7L584.8 796.1L585.6 796L586.4 796.6L587.2 796.1L588 795.9L588.8 796.6L589.6 797L590.4 796.3L591.2 797.1L592 796.7L592.8 796.4L593.6 797.4L594.4 796.4L595.2 797.2L596 796.6L596.8 797.1L597.6 796.4L598.4 796.6L599.2 797.6L600 797.2L600.8 797.2L601.6 797L602.4 797.5L603.2 796.7L604 796.9L604.8 797.4L605.6 797.1L606.4 797.3L607.2 797.6L608 797.6L608.8 797.6L609.6 798.5L610.4 798.3L611.2 798.4L612 797.9L612.8 797.8L613.6 797.4L614.4 797.9L615.2 797.2L616 797.9L616.8 798.6L617.6 799L618.4 798.8L619.2 798L620 798.6L620.8 798.1L621.6 798.9L622.4 798.5L623.2 799L624 799.8L624.8 799.1L625.6 799.8L626.4 798.9L627.2 798.7L628 799.5L628.8 799.7L629.6 798.7L630.4 799L631.2 798.4L632 799L632.8 799.5L633.6 799.1L634.4 799L635.2 798.6L636 799.5L636.8 799.7L637.6 799.6L638.4 799.5L639.2 798.9L640 800.3L640.8 799.5L641.6 799.5L642.4 799.9L643.2 798.7L644 799.7L644.8 799.7L645.6 799.9L646.4 800.4L647.2 800.1L648 799.1L648.8 799.8L649.6 800.1L650.4 800.1L651.2 799.5L652 799.3L652.8 800.4L653.6 800.3L654.4 800.2L655 799.4"/>
<path d="M84.2 806.9L85 808.2L85.8 810.1L86.6 810.7L87.4 810.7L88.2 812.3L89 812.9L89.8 814.1L90.6 814.1L91.4 815.7L92.2 816.4L93 817.7L93.8 817.7L94.6 818.4L95.4 818.1L96.2 820.3L97 819L97.8 820.8L98.6 820.7L99.4 820.9L100.2 821.4L101 821.9L101.8 822.7L102.6 822.9L103.4 824L104.2 822.9L105 824.1L105.8 824.1L106.6 825.3L107.4 824.4L108.2 825.7L109 826.4L109.8 826.1L110.6 827.7L111.4 827.9L112.2 828.7L113 829.2L113.8 828.8L114.6 829.4L115.4 830.2L116.2 831.2L117 831.7L117.8 831.5L118.6 831.9L119.4 832.1L120.2 832.5L121 832.9L121.8 833.2L122.6 834.4L123.4 833.5L124.2 833.8L125 834.3L125.8 833.9L126.6 834.3L127.4 834.6L128.2 835.1L129 834.3L129.8 835.7L130.6 835.1L131.4 835.6L132.2 836.2L133 836.4L133.8 837L134.6 836.9L135.4 837.1L136.2 837.5L137 837L137.8 838L138.6 837L139.4 836.6L140.2 837.9L141 836.6L141.8 835.8L142.6 836.8L143.4 835.5L144.2 835.7L145 834.4L145.8 834.2L146.6 833L147.4 832.2L148.2 831.9L149 831.2L149.8 830.1L150.6 829.1L151.4 826L152.2 825.5L153 823.5L153.8 822.5L154.6 820.7L155.4 819.5L156.2 818.5L157 817L157.8 816.5L158.6 815.4L159.4 815.6L160.2 814.5L161 814.2L161.8 814.5L162.6 814.4L163.4 814.5L164.2 814.9L165 815.5L165.8 816.6L166.6 817.2L167.4 817.9L168.2 819.1L169 819.5L169.8 821L170.6 821.3L171.4 823.7L172.2 824.2L173 825.3L173.8 826.5L174.6 827.2L175.4 828L176.2 829.5L177 829.9L177.8 830.3L178.6 831.7L179.4 831.3L180.2 833L181 832.2L181.8 832.1L182.6 832.8L183.4 832L184.2 828.1L185 825.7L185.8 825.3L186.6 827.8L187.4 828.8L188.2 830.7L189 833L189.8 834.3L190.6 835.9L191.4 836.6L192.2 836.5L193 837.1L193.8 836.7L194.6 838.2L195.4 839.5L196.2 838.9L197 840.4L197.8 840.5L198.6 839.9L199.4 839.1L200.2 837.7L201 835.1L201.8 831L202.6 825.2L203.4 819.8L204.2 823.3L205 828.4L205.8 834.6L206.6 837.2L207.4 838.8L208.2 840L209 840.5L209.8 841.1L210.6 841.9L211.4 842.1L212.2 842.6L213 843.2L213.8 844.2L214.6 844.1L215.4 845.5L216.2 845.1L217 844.1L217.8 845.6L218.6 846.9L219.4 846.5L220.2 846.7L221 846.9L221.8 848.3L222.6 848.5L223.4 848.8L224.2 849.1L225 849.9L225.8 850.1L226.6 849.5L227.4 850.9L228.2 851.1L229 851.4L229.8 852.1L230.6 851.9L231.4 850.7L232.2 852.8L233 852.6L233.8 852.2L234.6 852.1L235.4 852.5L236.2 851.8L237 852.5L237.8 852.3L238.6 852.2L239.4 852L240.2 852.1L241 852.9L241.8 853L242.6 852.6L243.4 852.4L244.2 852L245 852.7L245.8 853L246.6 851.3L247.4 852.2L248.2 850.4L249 851.1L249.8 851.4L250.6 850.9L251.4 851.2L252.2 852.4L253 853L253.8 852.6L254.6 853.3L255.4 852.1L256.2 852.7L257 848.4L257.8 836L258.6 815.3L259.4 808.1L260.2 811.6L261 824L261.8 841.7L262.6 851.5L263.4 852.3L264.2 852.4L265 852.6L265.8 852.4L266.6 852L267.4 851.3L268.2 850.6L269 849.2L269.8 849.2L270.6 850.4L271.4 850.8L272.2 850.8L273 852.1L273.8 851.6L274.6 852.2L275.4 851.8L276.2 853.3L277 853.2L277.8 854L278.6 854L279.4 853.9L280.2 854L281 854.5L281.8 853.9L282.6 853.9L283.4 854.1L284.2 854.4L285 854.5L285.8 855L286.6 854.1L287.4 854.7L288.2 853.8L289 854.3L289.8 853.9L290.6 854.5L291.4 853.8L292.2 853.2L293 853.6L293.8 853.4L294.6 853.1L295.4 853.3L296.2 853.4L297 855.5L297.8 854.8L298.6 855.6L299.4 855.1L300.2 855.6L301 856.6L301.8 857L302.6 857.9L303.4 857.4L304.2 858.4L305 859.1L305.8 858.3L306.6 859.5L307.4 859.2L308.2 860.2L309 860.8L309.8 861.9L310.6 861.4L311.4 862.4L312.2 863.4L313 862.9L313.8 863.9L314.6 863.9L315.4 864.4L316.2 865.3L317 865.7L317.8 867L318.6 867L319.4 867.5L320.2 867.3L321 867.7L321.8 868.3L322.6 867.6L323.4 869.6L324.2 868.9L325 869L325.8 869.7L326.6 870.6L327.4 871.2L328.2 870.8L329 871.4L329.8 871.3L330.6 870.8L331.4 871L332.2 870.4L333 869.1L333.8 869.3L334.6 865.1L335.4 862.9L336.2 861.7L337 862.8L337.8 864.4L338.6 866.7L339.4 868L340.2 870.7L341 872.8L341.8 872.6L342.6 873.6L343.4 874.6L344.2 874.5L345 875.3L345.8 875.1L346.6 875.9L347.4 875.8L348.2 875.5L349 876.7L349.8 876.2L350.6 876.2L351.4 876.1L352.2 876.5L353 876.8L353.8 877.1L354.6 877.7L355.4 876.8L356.2 877.4L357 878.3L357.8 878L358.6 878.2L359.4 878.9L360.2 878.5L361 878.8L361.8 878.7L362.6 879.7L363.4 879.5L364.2 878.9L365 879.6L365.8 879L366.6 880.2L367.4 880.1L368.2 879.9L369 879.9L369.8 879.3L370.6 880.6L371.4 880.3L372.2 880.3L373 880.9L373.8 880.3L374.6 880.4L375.4 880.5L376.2 880.2L377 882L377.8 880.9L378.6 880.9L379.4 881.5L380.2 879.7L381 881.1L381.8 881.2L382.6 880.8L383.4 881.4L384.2 880.3L385 881.3L385.8 881.7L386.6 880.3L387.4 880.7L388.2 881.3L389 881.3L389.8 881.1L390.6 881.5L391.4 881.5L392.2 880.8L393 881.4L393.8 880.9L394.6 880.6L395.4 880.5L396.2 882.1L397 881.6L397.8 882.6L398.6 881.1L399.4 881.7L400.2 882.1L401 881.9L401.8 882.3L402.6 882.2L403.4 881.9L404.2 881.2L405 881.9L405.8 883.2L406.6 882.8L407.4 883.2L408.2 882.4L409 882.7L409.8 882.4L410.6 883.1L411.4 883L412.2 883.3L413 884L413.8 882.9L414.6 883.7L415.4 882.8L416.2 884L417 883.4L417.8 883.7L418.6 883.9L419.4 884.7L420.2 884L421 883.9L421.8 883.7L422.6 884.4L423.4 884L424.2 884.3L425 884.6L425.8 885L426.6 884.5L427.4 885.2L428.2 885.8L429 884.4L429.8 885.8L430.6 886.2L431.4 885.1L432.2 885.7L433 884.9L433.8 885.7L434.6 885.5L435.4 885.9L436.2 885.4L437 885.5L437.8 885.8L438.6 885.7L439.4 885.8L440.2 886.1L441 885.8L441.8 886.3L442.6 886.6L443.4 885.5L444.2 886.7L445 886.3L445.8 886.2L446.6 886.2L447.4 886.5L448.2 886.6L449 887.2L449.8 886.6L450.6 887.7L451.4 886.9L452.2 887.7L453 888L453.8 887L454.6 888.1L455.4 888.7L456.2 887.6L457 888.2L457.8 888L458.6 888.1L459.4 888.1L460.2 888L461 888.7L461.8 888.8L462.6 888.5L463.4 889.3L464.2 889.1L465 889L465.8 888.4L466.6 889.7L467.4 889.5L468.2 888L469 888.5L469.8 888.9L470.6 889.6L471.4 889.8L472.2 889.2L473 889.5L473.8 889.7L474.6 888.9L475.4 889.8L476.2 889.4L477 889.7L477.8 889.6L478.6 889.1L479.4 889.1L480.2 889.6L481 889.5L481.8 889.3L482.6 889.7L483.4 889L484.2 888.4L485 888.3L485.8 887.8L486.6 887.3L487.4 887.9L488.2 887.9L489 888.7L489.8 889L490.6 889.2L491.4 890.2L492.2 889.9L493 890.3L493.8 889.9L494.6 890.6L495.4 890.5L496.2 890.9L497 891.7L497.8 892L498.6 891.5L499.4 891.1L500.2 891.6L501 891.4L501.8 891.1L502.6 891.4L503.4 891.4L504.2 891.3L505 892.3L505.8 891.5L506.6 891.6L507.4 892.2L508.2 891.6L509 891.5L509.8 891.7L510.6 892.3L511.4 892.3L512.2 892.4L513 892.1L513.8 892L514.6 892.8L515.4 891.8L516.2 892.5L517 892L517.8 892.5L518.6 892.7L519.4 893.4L520.2 891.6L521 893.5L521.8 892.6L522.6 893.2L523.4 893.5L524.2 892.8L525 893.2L525.8 893.5L526.6 893.3L527.4 893.1L528.2 893.5L529 893.6L529.8 892.9L530.6 894.2L531.4 893.8L532.2 892.7L533 893.4L533.8 894.6L534.6 894.6L535.4 894.1L536.2 893.3L537 894L537.8 894.6L538.6 894.4L539.4 894.1L540.2 894L541 894.7L541.8 894.3L542.6 894.6L543.4 894.7L544.2 895.3L545 894.6L545.8 894.7L546.6 893.8L547.4 895.1L548.2 895.1L549 894.7L549.8 893.7L550.6 894.5L551.4 894.8L552.2 895.7L553 895.1L553.8 895.2L554.6 895.2L555.4 895.5L556.2 894.4L557 894.5L557.8 894.4L558.6 894.8L559.4 894.8L560.2 895.1L561 894.6L561.8 895.2L562.6 894.8L563.4 896.1L564.2 895L565 896.4L565.8 896.1L566.6 894.8L567.4 895.8L568.2 895.7L569 894.8L569.8 895.8L570.6 895.6L571.4 895.8L572.2 895.3L573 895.8L573.8 896.1L574.6 895.8L575.4 895.6L576.2 895.8L577 895.4L577.8 896L578.6 894.6L579.4 896.3L580.2 895.6L581 895.7L581.8 895.8L582.6 894.8L583.4 896.2L584.2 894.6L585 895.2L585.8 895L586.6 895.3L587.4 894.5L588.2 893.7L589 894.3L589.8 892.7L590.6 893.3L591.4 892.8L592.2 893.5L593 893.2L593.8 894.2L594.6 894.9L595.4 895.3L596.2 895.8L597 896.6L597.8 896L598.6 896.7L599.4 896.3L600.2 897L601 897.3L601.8 896.8L602.6 897.2L603.4 897.6L604.2 898L605 898.2L605.8 897.8L606.6 897.4L607.4 897.2L608.2 898.4L609 898.7L609.8 898.3L610.6 899L611.4 898.1L612.2 898.2L613 899.1L613.8 898L614.6 898.8L615.4 898.7L616.2 898.6L617 899.2L617.8 898L618.6 898.2L619.4 897.3L620.2 897.7L621 897.8L621.8 897.8L622.6 897.6L623.4 897.5L624.2 896.6L625 895.5L625.8 896.2L626.6 896.2L627.4 895.6L628.2 896.1L629 897.7L629.8 897.9L630.6 898.3L631.4 898.4L632.2 898.4L633 898.3L633.8 899L634.6 898.9L635.4 898.9L636.2 899.3L637 899.5L637.8 900.1L638.6 899.4L639.4 901.1L640.2 899.7L641 900.1L641.8 900.8L642.6 900.2L643.4 900.5L644.2 900.8L645 899.5L645.8 900.7L646.6 900.6L647.4 901L648.2 901.4L649 901.5L649.8 901.9L650.6 901.9L651.4 901.8L652.2 901.3L653 901.8L653.8 900.9L654.6 901.4L655 902.1"/>
</g>
<g fill="none" stroke="#000" stroke-width="1.6" stroke-linejoin="round" stroke-linecap="round">
<path d="M84.2 525L84.8 527L85.4 527.5L86 526.4L86.6 527.2L87.2 527.6L87.8 529.2L88.4 529.1L89 530.4L89.6 528.3L90.2 532.2L90.8 531L91.4 532.2L92 531.8L92.6 531.9L93.2 533.1L93.8 533.9L94.4 533.3L95 533.7L95.6 535L96.2 533.9L96.8 533.7L97.4 536.1L98 535.5L98.6 534.7L99.2 536.2L99.8 537L100.4 536.6L101 536.7L101.6 538.5L102.2 539.6L102.8 538.7L103.4 538.4L104 539.8L104.6 540.3L105.2 539.5L105.8 540.6L106.4 541.3L107 540.3L107.6 540L108.2 541.5L108.8 541.7L109.4 542.8L110 540.8L110.6 541.7L111.2 541.8L111.8 541.2L112.4 543.4L113 544.1L113.6 543.1L114.2 545.5L114.8 545.1L115.4 545.2L116 545.2L116.6 546L117.2 544L117.8 546.1L118.4 546.3L119 544.2L119.6 546.5L120.2 546.1L120.8 547.3L121.4 546.3L122 546.9L122.6 547.4L123.2 546.4L123.8 548L124.4 547.5L125 548.2L125.6 547.3L126.2 549.1L126.8 548.7L127.4 548L128 549L128.6 549.7L129.2 550.3L129.8 547.1L130.4 549.7L131 549.4L131.6 549L132.2 548.3L132.8 550.8L133.4 548.6L134 550.6L134.6 551.6L135.2 548.9L135.8 550.3L136.4 549.4L137 550.9L137.6 552.2L138.2 552.7L138.8 548.8L139.4 549.9L140 551.1L140.6 551.8L141.2 550.4L141.8 548.9L142.4 549.6L143 548.8L143.6 548.2L144.2 547.2L144.8 547.8L145.4 547.2L146 546.2L146.6 545.5L147.2 543.9L147.8 544.1L148.4 545.3L149 543.3L149.6 541.5L150.2 543.6L150.8 542.2L151.4 543L152 540.2L152.6 538.8L153.2 536.8L153.8 538.5L154.4 538.7L155 534.3L155.6 533.5L156.2 533.7L156.8 531.2L157.4 530.7L158 529.8L158.6 529.8L159.2 530.5L159.8 529.2L160.4 529.9L161 528.5L161.6 529.1L162.2 526.7L162.8 527.5L163.4 530L164 529L164.6 530.6L165.2 531.1L165.8 532.3L166.4 532.3L167 533L167.6 532.5L168.2 532.5L168.8 533.1L169.4 534.1L170 534.1L170.6 535.4L171.2 536.6L171.8 537.8L172.4 538L173 537.2L173.6 539.8L174.2 540.8L174.8 542.3L175.4 542.3L176 541.6L176.6 542L177.2 545.1L177.8 544.3L178.4 545.8L179 546.5L179.6 543.9L180.2 545.6L180.8 546L181.4 546.5L182 546.9L182.6 546.9L183.2 547.2L183.8 545.9L184.4 547.6L185 547.3L185.6 548.5L186.2 548.2L186.8 549.5L187.4 550L188 549.7L188.6 550L189.2 550L189.8 549.7L190.4 550.2L191 550.1L191.6 551.2L192.2 551L192.8 551.8L193.4 550L194 552.4L194.6 551L195.2 551.2L195.8 551.9L196.4 551.7L197 552.7L197.6 552L198.2 551.6L198.8 552L199.4 554.2L200 553.1L200.6 552L201.2 553.3L201.8 551.8L202.4 555.3L203 552.1L203.6 554.2L204.2 554.4L204.8 552.5L205.4 554.4L206 555.2L206.6 554.8L207.2 554.8L207.8 555.6L208.4 554.9L209 555.2L209.6 554.8L210.2 555.6L210.8 554.1L211.4 555.9L212 554.7L212.6 554.2L213.2 555.7L213.8 557.1L214.4 556.4L215 555L215.6 556.4L216.2 555.4L216.8 555.9L217.4 556.3L218 554.1L218.6 556.9L219.2 556L219.8 556.8L220.4 556.5L221 557L221.6 558.1L222.2 560.4L222.8 561.6L223.4 560.3L224 561.6L224.6 560.5L225.2 559.1L225.8 561.3L226.4 561.8L227 561.1L227.6 562L228.2 562.4L228.8 561.1L229.4 560.6L230 562L230.6 562.2L231.2 562.2L231.8 563.6L232.4 564.5L233 562.5L233.6 563.8L234.2 564.1L234.8 564L235.4 564.5L236 563.1L236.6 564.3L237.2 565.7L237.8 564.6L238.4 563.2L239 564.5L239.6 565.2L240.2 564.4L240.8 563.5L241.4 565.6L242 562.9L242.6 564.7L243.2 564.2L243.8 563L244.4 565.5L245 564.6L245.6 563.1L246.2 564.9L246.8 563.9L247.4 562.5L248 563.8L248.6 564.8L249.2 565.2L249.8 564.8L250.4 564.8L251 565.3L251.6 564.7L252.2 566.2L252.8 565.3L253.4 565.5L254 565.9L254.6 564.3L255.2 564.8L255.8 567.1L256.4 566L257 565.4L257.6 566L258.2 565.2L258.8 566L259.4 565L260 565.9L260.6 564L261.2 566.9L261.8 565L262.4 563.8L263 565.1L263.6 564.9L264.2 565.4L264.8 564L265.4 565.5L266 568.6L266.6 563.6L267.2 565.1L267.8 564.4L268.4 564.8L269 562.6L269.6 563.2L270.2 564.7L270.8 564.1L271.4 565.7L272 563.2L272.6 564.1L273.2 566.7L273.8 563L274.4 562.8L275 563.6L275.6 563.6L276.2 564.4L276.8 563.7L277.4 562.7L278 563.7L278.6 566L279.2 564.6L279.8 560.5L280.4 563.1L281 562.2L281.6 563.6L282.2 562.7L282.8 564.7L283.4 563.6L284 563.4L284.6 562.6L285.2 562.3L285.8 562.6L286.4 563.4L287 562.6L287.6 561.6L288.2 563.2L288.8 562L289.4 561.7L290 560.9L290.6 561.1L291.2 561.1L291.8 559L292.4 562.9L293 562.5L293.6 561.9L294.2 563.4L294.8 562.9L295.4 563.1L296 560.4L296.6 562.9L297.2 563.9L297.8 565.3L298.4 565.8L299 565.7L299.6 563.5L300.2 562.8L300.8 565.9L301.4 565.6L302 566.9L302.6 566L303.2 566.6L303.8 565.2L304.4 567.4L305 566.7L305.6 567.7L306.2 568.1L306.8 567.7L307.4 568.4L308 568.3L308.6 569.3L309.2 569.3L309.8 568.5L310.4 568.7L311 571.2L311.6 569.6L312.2 570.9L312.8 570.6L313.4 569.9L314 570L314.6 571.2L315.2 571.7L315.8 572.4L316.4 570.9L317 571.9L317.6 572.8L318.2 574.9L318.8 571.3L319.4 574.5L320 573.8L320.6 575.1L321.2 574.5L321.8 575.7L322.4 577.2L323 576.3L323.6 576.7L324.2 576.9L324.8 576.1L325.4 577.6L326 577.1L326.6 576.7L327.2 577.7L327.8 577.7L328.4 578.9L329 578.3L329.6 578L330.2 580.1L330.8 579.8L331.4 580.2L332 579.7L332.6 579.2L333.2 579L333.8 579.2L334.4 580.6L335 579.9L335.6 578.4L336.2 579.9L336.8 578.7L337.4 580.4L338 579.1L338.6 579.2L339.2 580.7L339.8 580.6L340.4 579.2L341 581.7L341.6 583.2L342.2 579.7L342.8 583.1L343.4 580.7L344 581L344.6 581.5L345.2 580.4L345.8 583.2L346.4 582.6L347 581.4L347.6 582L348.2 580.9L348.8 582.2L349.4 583.6L350 581L350.6 582.4L351.2 583L351.8 584L352.4 584.3L353 582.6L353.6 582.3L354.2 583.6L354.8 582.8L355.4 582.9L356 584.4L356.6 585.1L357.2 583.8L357.8 583.5L358.4 584.4L359 582.1L359.6 584.1L360.2 583.2L360.8 586.8L361.4 585.2L362 584.7L362.6 584.4L363.2 582.1L363.8 585.4L364.4 586.3L365 584L365.6 585.5L366.2 585.5L366.8 583.3L367.4 585.8L368 586.3L368.6 585.2L369.2 584.9L369.8 585.8L370.4 583.5L371 585.1L371.6 586.1L372.2 583.9L372.8 586.1L373.4 584.7L374 583.1L374.6 585.1L375.2 584.3L375.8 585.6L376.4 584.1L377 586.4L377.6 584.6L378.2 585.7L378.8 584.8L379.4 585.1L380 586.6L380.6 585.7L381.2 585.1L381.8 584.3L382.4 586.7L383 586.3L383.6 585.3L384.2 585.9L384.8 584.7L385.4 584.7L386 584.9L386.6 586.1L387.2 586.1L387.8 585.1L388.4 586.6L389 586.7L389.6 586.1L390.2 587L390.8 585.8L391.4 586L392 586.6L392.6 586.1L393.2 587L393.8 585L394.4 587.7L395 585.5L395.6 586.2L396.2 585L396.8 587.1L397.4 587.8L398 587.6L398.6 587.4L399.2 585.1L399.8 585.9L400.4 586.3L401 585.9L401.6 588L402.2 587.1L402.8 586.9L403.4 587.5L404 586.1L404.6 586.2L405.2 586.3L405.8 587.8L406.4 587.7L407 588L407.6 588.6L408.2 586.2L408.8 587.1L409.4 587.8L410 586.4L410.6 587.3L411.2 588.9L411.8 589L412.4 589.1L413 588.1L413.6 587.9L414.2 589.2L414.8 587.8L415.4 588.6L416 589.6L416.6 588L417.2 587.8L417.8 588.4L418.4 589L419 589L419.6 588.7L420.2 589.1L420.8 587L421.4 587.8L422 588.8L422.6 587.8L423.2 587.4L423.8 587.5L424.4 587.9L425 588.6L425.6 587.8L426.2 589.1L426.8 590.6L427.4 588.8L428 590.3L428.6 589.3L429.2 587.9L429.8 588.8L430.4 588.2L431 589.9L431.6 588.1L432.2 590.6L432.8 589.9L433.4 587.3L434 590.2L434.6 591L435.2 588.7L435.8 590.5L436.4 587.8L437 589.9L437.6 588L438.2 590.2L438.8 588L439.4 587.2L440 590.2L440.6 592.2L441.2 589.3L441.8 590.8L442.4 590.1L443 589.8L443.6 590.7L444.2 591.8L444.8 589L445.4 590.8L446 590.6L446.6 588.9L447.2 592L447.8 592.4L448.4 589.5L449 592.2L449.6 590.6L450.2 590.4L450.8 592.1L451.4 590.9L452 591L452.6 592.2L453.2 592.1L453.8 591.7L454.4 589.4L455 589.3L455.6 592.1L456.2 590L456.8 591.2L457.4 590L458 590.9L458.6 589.8L459.2 592.8L459.8 590.2L460.4 591.1L461 591.1L461.6 592.5L462.2 589.9L462.8 591.4L463.4 591.2L464 592L464.6 592L465.2 591.1L465.8 591.8L466.4 591.3L467 592.2L467.6 591.6L468.2 591.1L468.8 591.8L469.4 592.2L470 594.2L470.6 591.5L471.2 592.3L471.8 593.5L472.4 590L473 590.4L473.6 591L474.2 592.1L474.8 594.7L475.4 592.7L476 593.6L476.6 592.2L477.2 590L477.8 590.2L478.4 593.6L479 592.8L479.6 591.4L480.2 593.8L480.8 591.2L481.4 593.9L482 594.3L482.6 592.1L483.2 591.8L483.8 593.8L484.4 592L485 594L485.6 591.9L486.2 594L486.8 593.3L487.4 592.8L488 592.4L488.6 593.6L489.2 591.5L489.8 593.2L490.4 593.1L491 594.2L491.6 592.3L492.2 595.3L492.8 593.4L493.4 592.6L494 595.1L494.6 595.4L495.2 593.6L495.8 593L496.4 593.9L497 593.2L497.6 593.6L498.2 595.5L498.8 594.4L499.4 594.2L500 594.4L500.6 594L501.2 595L501.8 595L502.4 593.8L503 594.3L503.6 596.7L504.2 594.7L504.8 594.1L505.4 596.4L506 594.4L506.6 593.3L507.2 595.1L507.8 593.5L508.4 594L509 594.8L509.6 594.4L510.2 593.8L510.8 594L511.4 594L512 595.7L512.6 593.9L513.2 594L513.8 596.7L514.4 594.1L515 596.1L515.6 596L516.2 594.5L516.8 593.3L517.4 595.2L518 595.4L518.6 595.7L519.2 594.8L519.8 596L520.4 596.2L521 593.8L521.6 596.3L522.2 595L522.8 594.3L523.4 594.5L524 596.8L524.6 595.9L525.2 593.1L525.8 595L526.4 594.8L527 594.8L527.6 594.4L528.2 593.5L528.8 595.8L529.4 594.1L530 594.6L530.6 594.4L531.2 594.3L531.8 595.8L532.4 595.4L533 594.4L533.6 594.1L534.2 594.6L534.8 596.1L535.4 595.2L536 595.4L536.6 594.8L537.2 594.9L537.8 595.4L538.4 593.3L539 596.8L539.6 594.4L540.2 594.6L540.8 596.6L541.4 595.5L542 595.3L542.6 594.7L543.2 593.7L543.8 595.5L544.4 596.5L545 594.5L545.6 596.7L546.2 594.3L546.8 594.7L547.4 595.9L548 595.5L548.6 596.2L549.2 594.8L549.8 594.5L550.4 593.7L551 594.4L551.6 594.5L552.2 594.2L552.8 595.9L553.4 595L554 593.7L554.6 598.2L555.2 594.9L555.8 594.5L556.4 597L557 597L557.6 594.7L558.2 594.4L558.8 594.9L559.4 597L560 595.6L560.6 595.1L561.2 595.9L561.8 597.2L562.4 594.6L563 595.7L563.6 594.7L564.2 598.3L564.8 598L565.4 597.1L566 596.1L566.6 596.9L567.2 594.2L567.8 596.6L568.4 595L569 595L569.6 595.7L570.2 596.1L570.8 597L571.4 597.2L572 596.8L572.6 595.6L573.2 597.3L573.8 596.5L574.4 597.8L575 595.8L575.6 594L576.2 596.3L576.8 599L577.4 597.3L578 596.7L578.6 597.9L579.2 597.5L579.8 597.5L580.4 596.6L581 597.2L581.6 597.4L582.2 596.6L582.8 596.2L583.4 597.5L584 598.4L584.6 598.1L585.2 598L585.8 598.1L586.4 600.2L587 597.9L587.6 598.8L588.2 599.7L588.8 597.9L589.4 598.1L590 599L590.6 599.6L591.2 598.3L591.8 598.4L592.4 598.1L593 596.9L593.6 599.2L594.2 597.9L594.8 596.5L595.4 598.1L596 596.5L596.6 597.3L597.2 598.3L597.8 597.4L598.4 599.5L599 596.9L599.6 598.7L600.2 599L600.8 600L601.4 599.5L602 598.8L602.6 598.7L603.2 598.6L603.8 599.8L604.4 598L605 599.2L605.6 598.7L606.2 599L606.8 598.5L607.4 601L608 598.2L608.6 599.1L609.2 599.2L609.8 599.6L610.4 599.4L611 599.4L611.6 600L612.2 597.6L612.8 599.1L613.4 597.9L614 599.4L614.6 598L615.2 598.2L615.8 599.2L616.4 600.6L617 599.9L617.6 599.6L618.2 600.7L618.8 598.4L619.4 597.3L620 599L620.6 599.2L621.2 600.7L621.8 601.7L622.4 598.2L623 602.1L623.6 601.2L624.2 600.5L624.8 600L625.4 602.1L626 599.8L626.6 599.3L627.2 599.9L627.8 598.5L628.4 600.3L629 599.8L629.6 600.3L630.2 600.3L630.8 598.9L631.4 601.4L632 599.1L632.6 601L633.2 598.5L633.8 600.5L634.4 599.4L635 600.3L635.6 599.6L636.2 598.1L636.8 599.2L637.4 600.4L638 601L638.6 598.9L639.2 598.3L639.8 599.6L640.4 600.3L641 599.9L641.6 599.8L642.2 601.4L642.8 601.6L643.4 601.4L644 599.7L644.6 600.8L645.2 600.6L645.8 599.3L646.4 601.7L647 600.9L647.6 600.4L648.2 602.3L648.8 601.7L649.4 601.8L650 602.2L650.6 601.7L651.2 599.8L651.8 600.7L652.4 602.1L653 600.4L653.6 601.2L654.2 601.6L654.8 602.6L655 602.5"/>
<path d="M84.2 615.8L84.8 617.5L85.4 617.8L86 618.4L86.6 619.9L87.2 617.7L87.8 618.8L88.4 618.7L89 620.5L89.6 622.2L90.2 621.7L90.8 622.8L91.4 620.9L92 623.5L92.6 623L93.2 626.2L93.8 625.8L94.4 626.4L95 625.8L95.6 627L96.2 627.5L96.8 627L97.4 627.2L98 628.1L98.6 628L99.2 628.4L99.8 629.1L100.4 629.1L101 630.9L101.6 628.9L102.2 631.6L102.8 630.5L103.4 630.9L104 630.3L104.6 631.8L105.2 632L105.8 632.7L106.4 632.3L107 633.2L107.6 635.3L108.2 634.3L108.8 633.7L109.4 635.6L110 634.9L110.6 636L111.2 636.4L111.8 635.7L112.4 634.5L113 636.4L113.6 637.6L114.2 636.9L114.8 638L115.4 638.8L116 637.5L116.6 639.5L117.2 640.1L117.8 639.8L118.4 640.1L119 640.2L119.6 641.6L120.2 639.7L120.8 639.7L121.4 640.5L122 639.2L122.6 638.7L123.2 639.6L123.8 641L124.4 641.2L125 639.4L125.6 639.2L126.2 640.9L126.8 641.1L127.4 641.4L128 642.2L128.6 642.9L129.2 642L129.8 642.5L130.4 640.9L131 641L131.6 642.6L132.2 643.3L132.8 643.6L133.4 643.8L134 644.3L134.6 644.6L135.2 642.3L135.8 643.5L136.4 644.8L137 645.1L137.6 643L138.2 645.6L138.8 643.7L139.4 643.6L140 643.8L140.6 643.9L141.2 641.2L141.8 643.2L142.4 641.9L143 640.6L143.6 640.7L144.2 638.3L144.8 639.4L145.4 639.7L146 638.3L146.6 638.1L147.2 637.7L147.8 637.3L148.4 637.7L149 636L149.6 635L150.2 635L150.8 635.6L151.4 632.1L152 631.7L152.6 628.3L153.2 629.9L153.8 627.9L154.4 627.1L155 624.2L155.6 621.6L156.2 622.1L156.8 620.8L157.4 618.3L158 616.8L158.6 617.9L159.2 616.7L159.8 619.1L160.4 615.8L161 616L161.6 616.6L162.2 615.2L162.8 616.3L163.4 619.2L164 617.8L164.6 617.7L165.2 617.7L165.8 620.3L166.4 621.2L167 621.8L167.6 622.1L168.2 623.7L168.8 624.7L169.4 624.7L170 627.1L170.6 625.4L171.2 627.2L171.8 629L172.4 630.1L173 629.8L173.6 632.1L174.2 633.6L174.8 633.8L175.4 634.2L176 635.4L176.6 635.6L177.2 634.5L177.8 636L178.4 637.9L179 635.9L179.6 637.5L180.2 637.5L180.8 637.4L181.4 637.7L182 639.3L182.6 640L183.2 640.5L183.8 639.2L184.4 640.8L185 641.9L185.6 642.9L186.2 642.9L186.8 643.4L187.4 644L188 644.1L188.6 642.7L189.2 643.9L189.8 643.4L190.4 641.9L191 642.7L191.6 646.6L192.2 643.4L192.8 642.2L193.4 643.8L194 645.8L194.6 644.1L195.2 644.3L195.8 643.4L196.4 643.4L197 644.4L197.6 643.3L198.2 641.6L198.8 641.4L199.4 640.1L200 636.6L200.6 632.9L201.2 628.2L201.8 622.6L202.4 619.1L203 614.3L203.6 615.3L204.2 620.6L204.8 627L205.4 635.7L206 637.7L206.6 641.3L207.2 641.9L207.8 643.8L208.4 644.8L209 644.1L209.6 645.2L210.2 646.2L210.8 646.6L211.4 646.9L212 647L212.6 648.3L213.2 649.3L213.8 648.8L214.4 647.8L215 649.3L215.6 649.2L216.2 650L216.8 651.7L217.4 650L218 650.6L218.6 650.1L219.2 651.1L219.8 651.1L220.4 653.6L221 652.7L221.6 652.1L222.2 654.9L222.8 652L223.4 654.5L224 655L224.6 654.8L225.2 654.3L225.8 654.6L226.4 654.6L227 655.9L227.6 652.9L228.2 654.8L228.8 655.5L229.4 654.9L230 653.7L230.6 655.4L231.2 655L231.8 656.6L232.4 657.4L233 656.1L233.6 654.3L234.2 656.1L234.8 655.5L235.4 657.3L236 658.4L236.6 657.1L237.2 659L237.8 658.6L238.4 657.9L239 656.4L239.6 657.6L240.2 656.2L240.8 658.8L241.4 658L242 659.4L242.6 658.5L243.2 656.4L243.8 659.1L244.4 659.5L245 660.4L245.6 657.9L246.2 658L246.8 659.2L247.4 658.1L248 657.9L248.6 658.3L249.2 662.1L249.8 658.9L250.4 658.6L251 659.3L251.6 659.8L252.2 661.1L252.8 660.8L253.4 660.7L254 660L254.6 660.2L255.2 659.4L255.8 658.4L256.4 661.9L257 659.2L257.6 660.5L258.2 659L258.8 659L259.4 658.7L260 657.2L260.6 658.2L261.2 658.4L261.8 658.6L262.4 658L263 658.1L263.6 657L264.2 656.3L264.8 653.9L265.4 654.9L266 656.5L266.6 654.3L267.2 654.1L267.8 652.3L268.4 651.1L269 653.3L269.6 651.5L270.2 653L270.8 652.8L271.4 653L272 652L272.6 655.1L273.2 653.9L273.8 653.7L274.4 657.5L275 657.3L275.6 657.5L276.2 657L276.8 656.9L277.4 657.4L278 657.1L278.6 657.1L279.2 657.7L279.8 654.5L280.4 657.9L281 656.3L281.6 657.8L282.2 658.1L282.8 656.1L283.4 657.7L284 657.6L284.6 656.1L285.2 656.1L285.8 656.7L286.4 654.3L287 656L287.6 656.5L288.2 655.9L288.8 654.7L289.4 655.9L290 657.8L290.6 657.6L291.2 656.2L291.8 655.5L292.4 656.3L293 656.3L293.6 655.6L294.2 656L294.8 657L295.4 657.4L296 654.2L296.6 657.9L297.2 657.4L297.8 658.8L298.4 658L299 658.9L299.6 660.5L300.2 656.2L300.8 661.2L301.4 660.1L302 658.5L302.6 658.1L303.2 661.6L303.8 660.6L304.4 663.1L305 662.8L305.6 662.8L306.2 664.3L306.8 663.9L307.4 664.8L308 665.2L308.6 665.1L309.2 665.9L309.8 666.2L310.4 664.4L311 665.8L311.6 666.3L312.2 666.4L312.8 665.6L313.4 667L314 668.3L314.6 668.5L315.2 670.2L315.8 668.5L316.4 669L317 669.2L317.6 669.8L318.2 669.9L318.8 668.9L319.4 671.5L320 672.4L320.6 672.8L321.2 670.9L321.8 672.1L322.4 674.5L323 672.8L323.6 673.5L324.2 673.3L324.8 674.7L325.4 674.9L326 676.5L326.6 674.9L327.2 675.1L327.8 673.7L328.4 674.7L329 674.7L329.6 675.3L330.2 674.5L330.8 677.3L331.4 675.2L332 676.8L332.6 675.4L333.2 677.3L333.8 678.8L334.4 676.5L335 677.9L335.6 677.6L336.2 678.2L336.8 678.5L337.4 677.6L338 678.2L338.6 677.9L339.2 677.8L339.8 677.6L340.4 679.9L341 678.4L341.6 679.9L342.2 679.9L342.8 678.5L343.4 680.7L344 678.9L344.6 680.5L345.2 681.4L345.8 679.4L346.4 679.3L347 679.4L347.6 682.8L348.2 680.2L348.8 679.4L349.4 681.6L350 680.8L350.6 681.1L351.2 680.2L351.8 679.1L352.4 680.7L353 680.5L353.6 680L354.2 680.7L354.8 680.9L355.4 682.7L356 682.7L356.6 682.6L357.2 681.6L357.8 681L358.4 682.6L359 682.8L359.6 683.5L360.2 682.5L360.8 682.5L361.4 683L362 681.9L362.6 682.1L363.2 683.6L363.8 681.8L364.4 683L365 684L365.6 683.5L366.2 683.8L366.8 682.3L367.4 683.4L368 683.3L368.6 684.3L369.2 684.2L369.8 683.9L370.4 685.8L371 684.6L371.6 683.8L372.2 683.5L372.8 684.2L373.4 683.7L374 686L374.6 685L375.2 684.2L375.8 683.9L376.4 683.5L377 684.4L377.6 686L378.2 685.6L378.8 684.7L379.4 684.9L380 683L380.6 685.6L381.2 684.6L381.8 686.2L382.4 684.7L383 684.4L383.6 685.1L384.2 684.2L384.8 686.2L385.4 685.2L386 685.3L386.6 685.2L387.2 684.6L387.8 685.4L388.4 685.1L389 686.7L389.6 685L390.2 685.3L390.8 684.5L391.4 684.6L392 684.7L392.6 686.3L393.2 685.2L393.8 686.1L394.4 684.9L395 684.8L395.6 683.3L396.2 686.1L396.8 687.4L397.4 685.1L398 686.8L398.6 686.3L399.2 684.8L399.8 686.3L400.4 684.7L401 685.3L401.6 686.9L402.2 685.9L402.8 684.6L403.4 687.3L404 684.8L404.6 685.8L405.2 685.7L405.8 685.9L406.4 685.3L407 684.6L407.6 688.2L408.2 685.5L408.8 685.6L409.4 684.2L410 686.8L410.6 688.1L411.2 688.3L411.8 689.8L412.4 688.6L413 687.6L413.6 687.4L414.2 688.9L414.8 687.5L415.4 687.8L416 686.8L416.6 687.9L417.2 689.9L417.8 688L418.4 688.5L419 685.8L419.6 689.6L420.2 688.7L420.8 689.8L421.4 688.7L422 687.7L422.6 687.3L423.2 689.2L423.8 688.7L424.4 687.8L425 688.8L425.6 688.3L426.2 689.7L426.8 688.6L427.4 687.9L428 689L428.6 688.6L429.2 690.7L429.8 688.8L430.4 688L431 689.3L431.6 689.2L432.2 689.7L432.8 689.7L433.4 688.5L434 689.6L434.6 689.5L435.2 688.5L435.8 689.2L436.4 690L437 688.2L437.6 688.8L438.2 689.4L438.8 689.8L439.4 690.5L440 688.6L440.6 690.3L441.2 690.7L441.8 691.6L442.4 689.7L443 689.3L443.6 688.7L444.2 690.8L444.8 691.6L445.4 689.6L446 690.8L446.6 691.3L447.2 691.4L447.8 690.1L448.4 691.2L449 690.6L449.6 689.7L450.2 691L450.8 691.1L451.4 689.9L452 691.3L452.6 692.9L453.2 689.5L453.8 691.7L454.4 692L455 691.2L455.6 691.5L456.2 691L456.8 692.6L457.4 690.4L458 691.2L458.6 689.5L459.2 691.8L459.8 691.9L460.4 689.9L461 690.7L461.6 692.1L462.2 691.2L462.8 690.5L463.4 689.3L464 692.2L464.6 693.8L465.2 691.4L465.8 692.4L466.4 692.4L467 692L467.6 692.2L468.2 692.3L468.8 691.4L469.4 694.8L470 695.1L470.6 692.7L471.2 694.2L471.8 691.6L472.4 692.2L473 693.6L473.6 691.3L474.2 691.1L474.8 692.7L475.4 690.4L476 694L476.6 693L477.2 692.5L477.8 692.8L478.4 691.2L479 691.1L479.6 692.9L480.2 692.9L480.8 692L481.4 691.7L482 691.1L482.6 692.9L483.2 689.9L483.8 690.4L484.4 690.5L485 689.4L485.6 689.3L486.2 689.3L486.8 691L487.4 691.6L488 690.1L488.6 688.2L489.2 689.5L489.8 690.4L490.4 690.7L491 690.9L491.6 692.1L492.2 689.9L492.8 691.6L493.4 692.7L494 693.5L494.6 693.3L495.2 693.2L495.8 693.1L496.4 692.7L497 693.5L497.6 693.2L498.2 692.8L498.8 694.7L499.4 694.8L500 693.2L500.6 694.3L501.2 694.9L501.8 694L502.4 693.8L503 694.2L503.6 692.1L504.2 692.4L504.8 694.3L505.4 694.1L506 695.2L506.6 693.4L507.2 695L507.8 695L508.4 696L509 693.2L509.6 693.7L510.2 694.4L510.8 694.4L511.4 693.2L512 693.6L512.6 692.9L513.2 696.6L513.8 694.2L514.4 694.3L515 693.7L515.6 694.4L516.2 695.2L516.8 694.1L517.4 694.4L518 696.7L518.6 695.5L519.2 694.8L519.8 694.2L520.4 694.6L521 693.9L521.6 695L522.2 694.1L522.8 694L523.4 694.4L524 693.8L524.6 695.1L525.2 697.4L525.8 694.3L526.4 693.3L527 696L527.6 694.9L528.2 697.1L528.8 695.5L529.4 696.1L530 694.4L530.6 693.6L531.2 695.1L531.8 696L532.4 694.5L533 693.8L533.6 694.8L534.2 695L534.8 695.2L535.4 695.5L536 698L536.6 695.6L537.2 695.1L537.8 694.6L538.4 696.5L539 694.2L539.6 697.2L540.2 695.8L540.8 694.4L541.4 696.1L542 695.9L542.6 697.3L543.2 694.6L543.8 696.3L544.4 696.2L545 697.1L545.6 695.1L546.2 695.5L546.8 698.3L547.4 696.9L548 694.9L548.6 696.8L549.2 695.7L549.8 695.8L550.4 695.3L551 697.5L551.6 696L552.2 696.7L552.8 696.6L553.4 695L554 695.8L554.6 697.3L555.2 695L555.8 696.8L556.4 696.4L557 697.2L557.6 697.2L558.2 697.3L558.8 696.6L559.4 696.8L560 695.8L560.6 696L561.2 697.4L561.8 695.9L562.4 697.6L563 697.5L563.6 695.7L564.2 697.1L564.8 695.7L565.4 696.9L566 695.8L566.6 696.9L567.2 696.8L567.8 695.6L568.4 698.7L569 697.6L569.6 695.1L570.2 697.1L570.8 696.4L571.4 698.9L572 696.9L572.6 697.4L573.2 696.9L573.8 697.8L574.4 696.7L575 696.4L575.6 696.8L576.2 697L576.8 698.1L577.4 697.6L578 697.1L578.6 697.2L579.2 696.7L579.8 697.8L580.4 695.7L581 697.6L581.6 699L582.2 697.6L582.8 697.3L583.4 698.1L584 697.1L584.6 697.4L585.2 698.9L585.8 697.6L586.4 700.2L587 698.9L587.6 698.3L588.2 697.8L588.8 698.2L589.4 696.3L590 698.8L590.6 699.5L591.2 699.3L591.8 698.3L592.4 699.4L593 699.5L593.6 698.8L594.2 699.3L594.8 700L595.4 699.5L596 698.7L596.6 699.1L597.2 699.3L597.8 697.6L598.4 699.3L599 699.1L599.6 697.1L600.2 697.6L600.8 701.2L601.4 699.5L602 700.8L602.6 699.1L603.2 701.1L603.8 700.1L604.4 698.9L605 699.9L605.6 701.3L606.2 702.1L606.8 700.3L607.4 699.4L608 699.1L608.6 700.7L609.2 701.2L609.8 700.3L610.4 700.1L611 701.2L611.6 700.9L612.2 700.9L612.8 699.1L613.4 700.4L614 702.7L614.6 700.9L615.2 703.4L615.8 701.5L616.4 700.9L617 701.5L617.6 701.9L618.2 700.6L618.8 701.5L619.4 700.9L620 702.6L620.6 700.6L621.2 700.9L621.8 699L622.4 698.8L623 699.8L623.6 698.7L624.2 699L624.8 699.3L625.4 699.3L626 697.1L626.6 698L627.2 698.6L627.8 697.1L628.4 696.4L629 697.2L629.6 699.9L630.2 698.8L630.8 700.8L631.4 699.4L632 701.2L632.6 698.9L633.2 700.4L633.8 701L634.4 703L635 701.9L635.6 702.7L636.2 701.3L636.8 701.4L637.4 703.1L638 703.4L638.6 703.2L639.2 703.2L639.8 701.5L640.4 704.3L641 702.3L641.6 703.4L642.2 702.9L642.8 700.5L643.4 700.3L644 700.7L644.6 702.3L645.2 703.5L645.8 702.1L646.4 703.2L647 701.2L647.6 701.8L648.2 701.6L648.8 702.5L649.4 701.4L650 702.5L650.6 703.2L651.2 702.1L651.8 701.7L652.4 702.2L653 701.4L653.6 701.6L654.2 703.5L654.8 703L655 701.3"/>
<path d="M84 708.5L84.6 703.9L85.2 708.4L85.8 707.9L86.4 709.6L87 709.3L87.6 711.4L88.2 710.4L88.8 710.6L89.4 712.5L90 713.1L90.6 713L91.2 713.7L91.8 715.3L92.4 715.9L93 715.2L93.6 715.9L94.2 715.1L94.8 719.3L95.4 718.1L96 720.3L96.6 719.9L97.2 721.6L97.8 720.6L98.4 717.8L99 716.6L99.6 715.4L100.2 719.8L100.8 718.7L101.4 721.4L102 722.9L102.6 722.6L103.2 722.4L103.8 722L104.4 722.4L105 723.5L105.6 723L106.2 720.9L106.8 716.8L107.4 715.2L108 709.9L108.6 712.5L109.2 716.3L109.8 722.4L110.4 724.8L111 726L111.6 726.3L112.2 725.7L112.8 727.2L113.4 728.3L114 727.1L114.6 728L115.2 727.5L115.8 729L116.4 729L117 729.6L117.6 729.5L118.2 731.2L118.8 729.5L119.4 729.9L120 730L120.6 731.5L121.2 730.5L121.8 730.7L122.4 732.4L123 733.1L123.6 732.7L124.2 729.7L124.8 731.7L125.4 731.7L126 731.8L126.6 732.7L127.2 735L127.8 732.9L128.4 732.5L129 733.9L129.6 733.3L130.2 733.3L130.8 732.5L131.4 733.2L132 733.6L132.6 731.3L133.2 731.6L133.8 734.3L134.4 734L135 732.6L135.6 732L136.2 732.8L136.8 731.9L137.4 732.9L138 735.2L138.6 734L139.2 735.3L139.8 734.1L140.4 734.9L141 736.1L141.6 733.5L142.2 734.6L142.8 734.8L143.4 735L144 735.9L144.6 734.4L145.2 731.5L145.8 732L146.4 730.6L147 729.8L147.6 731.9L148.2 727.9L148.8 728.2L149.4 726.3L150 726.8L150.6 725.2L151.2 723.9L151.8 722.5L152.4 722.5L153 719.1L153.6 718.1L154.2 716.4L154.8 717.8L155.4 715.1L156 713.2L156.6 712.8L157.2 714.7L157.8 711.2L158.4 711.5L159 710.8L159.6 710L160.2 709.2L160.8 709.4L161.4 709.2L162 707.3L162.6 712L163.2 710.3L163.8 709.4L164.4 709.1L165 708.7L165.6 711.1L166.2 711L166.8 712.7L167.4 711.9L168 714.6L168.6 717.1L169.2 715.8L169.8 717.8L170.4 718L171 720L171.6 720.9L172.2 720.8L172.8 721.1L173.4 722.9L174 723.6L174.6 723.9L175.2 725.8L175.8 726.6L176.4 726L177 727.4L177.6 731.1L178.2 729.7L178.8 729.5L179.4 732.5L180 730L180.6 728.4L181.2 729.4L181.8 730.2L182.4 732.3L183 733.4L183.6 730.5L184.2 734.2L184.8 732.1L185.4 734L186 734.5L186.6 734.8L187.2 734.7L187.8 735.2L188.4 734.2L189 735.9L189.6 736.9L190.2 737.2L190.8 739.2L191.4 737.9L192 737.8L192.6 739L193.2 737.8L193.8 736.6L194.4 735.9L195 739.6L195.6 739.2L196.2 739.7L196.8 738.8L197.4 739.8L198 741.7L198.6 740.4L199.2 739.3L199.8 740.3L200.4 742.3L201 740.1L201.6 738.8L202.2 739.4L202.8 740.5L203.4 742.8L204 742.3L204.6 741.6L205.2 741.3L205.8 742.6L206.4 742.6L207 742.3L207.6 742.8L208.2 742.4L208.8 745L209.4 741L210 743.6L210.6 742.6L211.2 744.5L211.8 743.8L212.4 744.6L213 745L213.6 744.9L214.2 745.9L214.8 743.7L215.4 746.3L216 745.4L216.6 746.2L217.2 747.6L217.8 747.4L218.4 748.5L219 744.5L219.6 746.1L220.2 748.3L220.8 746.4L221.4 747.7L222 749.8L222.6 749.3L223.2 747.7L223.8 749.4L224.4 749.9L225 749.6L225.6 749.6L226.2 750.1L226.8 748.7L227.4 750.6L228 749.7L228.6 751.3L229.2 751.5L229.8 750.4L230.4 752.2L231 752.2L231.6 752.1L232.2 753.1L232.8 752.3L233.4 752.6L234 753.2L234.6 753.2L235.2 754.5L235.8 751L236.4 753.1L237 751.5L237.6 753L238.2 753.8L238.8 753.6L239.4 754.5L240 753.9L240.6 750.8L241.2 752.4L241.8 755.1L242.4 755.1L243 753.6L243.6 751.9L244.2 755.6L244.8 751.3L245.4 753.8L246 753.4L246.6 753.7L247.2 752.4L247.8 753.2L248.4 754.7L249 753.2L249.6 752.4L250.2 753.8L250.8 754L251.4 753.9L252 753.4L252.6 754.9L253.2 754.4L253.8 753.5L254.4 755.1L255 754.9L255.6 755.1L256.2 753.3L256.8 754.2L257.4 755.4L258 755.8L258.6 755.2L259.2 754.9L259.8 755.4L260.4 755.6L261 756.3L261.6 755L262.2 753.9L262.8 754.8L263.4 752.3L264 754.2L264.6 753.7L265.2 754L265.8 754.4L266.4 753.9L267 752.3L267.6 753.4L268.2 752.9L268.8 753.6L269.4 753.9L270 752.6L270.6 754.2L271.2 754.8L271.8 753.2L272.4 754.1L273 751.9L273.6 752.8L274.2 754.2L274.8 751.4L275.4 752.6L276 752L276.6 753.9L277.2 753.8L277.8 751.9L278.4 752.5L279 749.6L279.6 753L280.2 752.4L280.8 753.3L281.4 749.5L282 752.2L282.6 751.4L283.2 749.1L283.8 751L284.4 751.5L285 752.4L285.6 751.7L286.2 751L286.8 751.9L287.4 751.3L288 750.7L288.6 750.3L289.2 751.5L289.8 751.5L290.4 753.2L291 750.8L291.6 752.9L292.2 751.6L292.8 752.5L293.4 750.4L294 750.5L294.6 751.1L295.2 752.4L295.8 751.7L296.4 752.5L297 752.3L297.6 753.3L298.2 752.8L298.8 752.5L299.4 753.9L300 753.9L300.6 755.9L301.2 754.4L301.8 755.1L302.4 755.2L303 757.1L303.6 757.3L304.2 757.6L304.8 756.1L305.4 756.3L306 758.4L306.6 759.3L307.2 760.4L307.8 757.5L308.4 759.5L309 758.3L309.6 759.4L310.2 760.5L310.8 762.1L311.4 760.9L312 761.1L312.6 761.9L313.2 763.8L313.8 765.3L314.4 761.7L315 763.3L315.6 763.5L316.2 765.5L316.8 765.1L317.4 766.6L318 764.4L318.6 765.8L319.2 765.7L319.8 765.4L320.4 766.7L321 766L321.6 769.8L322.2 768.4L322.8 767.3L323.4 768.1L324 770.8L324.6 769L325.2 770.5L325.8 770.7L326.4 771.5L327 771.3L327.6 770.7L328.2 770.5L328.8 769.5L329.4 771.4L330 771.7L330.6 771.4L331.2 771.7L331.8 770.8L332.4 774.3L333 771.8L333.6 771.5L334.2 772.1L334.8 772.7L335.4 773.8L336 770.8L336.6 774L337.2 773L337.8 773.6L338.4 775L339 774.9L339.6 773.6L340.2 774.4L340.8 776.5L341.4 776.1L342 775.7L342.6 775L343.2 776.1L343.8 775.7L344.4 774.9L345 774.5L345.6 776.2L346.2 776.2L346.8 777.1L347.4 775.5L348 777.5L348.6 775.9L349.2 777.6L349.8 777L350.4 776L351 775.8L351.6 776.7L352.2 776.7L352.8 778L353.4 776.4L354 775.8L354.6 777.3L355.2 779.4L355.8 779.2L356.4 777L357 777.5L357.6 778.2L358.2 777.3L358.8 777.8L359.4 777.9L360 777.2L360.6 777.8L361.2 778L361.8 778.8L362.4 777.5L363 778.9L363.6 777.9L364.2 778.1L364.8 777.9L365.4 783.1L366 780.5L366.6 780.6L367.2 780.2L367.8 779.2L368.4 779.6L369 779.9L369.6 780.1L370.2 780.3L370.8 781.3L371.4 776.9L372 779.4L372.6 780.7L373.2 779.7L373.8 780L374.4 781.7L375 780.5L375.6 782.1L376.2 780.3L376.8 780.7L377.4 779.4L378 778.6L378.6 780.2L379.2 780.7L379.8 780.4L380.4 779.4L381 781.5L381.6 781L382.2 781L382.8 780.2L383.4 782.7L384 782.6L384.6 781.5L385.2 781.1L385.8 781.6L386.4 783.1L387 784.2L387.6 781.5L388.2 781.1L388.8 779.8L389.4 784.5L390 780.6L390.6 782.7L391.2 782.4L391.8 783.2L392.4 781.1L393 780.4L393.6 782.2L394.2 782.6L394.8 783.4L395.4 780.6L396 781.9L396.6 782.1L397.2 781.1L397.8 782.4L398.4 783.4L399 782.6L399.6 781.3L400.2 783.1L400.8 783.7L401.4 783.4L402 783.7L402.6 781.3L403.2 783.5L403.8 783.7L404.4 782.8L405 783.1L405.6 782.5L406.2 784.5L406.8 783.1L407.4 782.5L408 783.6L408.6 783.6L409.2 784.2L409.8 782.8L410.4 783L411 784.1L411.6 786L412.2 784.3L412.8 782.5L413.4 784.1L414 783.3L414.6 782.2L415.2 783.5L415.8 783.6L416.4 784.7L417 785.7L417.6 785.6L418.2 785.3L418.8 784.1L419.4 784.8L420 784.7L420.6 786.2L421.2 784.2L421.8 784.3L422.4 786.4L423 785.6L423.6 784.6L424.2 785.2L424.8 785.3L425.4 785.4L426 786L426.6 785.6L427.2 785.1L427.8 784.8L428.4 783.7L429 785L429.6 786.6L430.2 785.8L430.8 784.9L431.4 785.4L432 784.8L432.6 786L433.2 787.8L433.8 787.6L434.4 787L435 786.7L435.6 785.7L436.2 784.7L436.8 786L437.4 785.6L438 787L438.6 786.3L439.2 785.6L439.8 786.7L440.4 789.2L441 785.5L441.6 787.5L442.2 787.1L442.8 786.4L443.4 785.8L444 786.6L444.6 786.9L445.2 787.5L445.8 787.5L446.4 787.1L447 786.2L447.6 787.2L448.2 786.5L448.8 786L449.4 787.9L450 786.4L450.6 786L451.2 787.3L451.8 785.3L452.4 787.2L453 787.8L453.6 787L454.2 787.7L454.8 789.7L455.4 789L456 788.6L456.6 788.3L457.2 787.2L457.8 787.6L458.4 787.6L459 787.9L459.6 788.1L460.2 787.2L460.8 789.7L461.4 787.1L462 788.6L462.6 789.3L463.2 788.3L463.8 787.7L464.4 788.5L465 790.5L465.6 789.2L466.2 788.4L466.8 789.3L467.4 788.6L468 787L468.6 789.2L469.2 790L469.8 790.2L470.4 789L471 787.7L471.6 790.4L472.2 789.1L472.8 790.1L473.4 790.5L474 789.8L474.6 789.4L475.2 788.9L475.8 789.1L476.4 789.6L477 789.2L477.6 790L478.2 787.8L478.8 788.7L479.4 789.8L480 789.1L480.6 789.3L481.2 788.8L481.8 790.6L482.4 791.6L483 789L483.6 791.2L484.2 788.6L484.8 790.2L485.4 788.1L486 790.7L486.6 790.2L487.2 790.4L487.8 791.5L488.4 790.9L489 790.3L489.6 789.6L490.2 790.5L490.8 789.8L491.4 790.1L492 792.1L492.6 791.5L493.2 791L493.8 791.4L494.4 789.4L495 791L495.6 789.2L496.2 790.3L496.8 791.4L497.4 791.5L498 791.9L498.6 791.4L499.2 791.4L499.8 791.4L500.4 792.9L501 792.8L501.6 790.1L502.2 791.8L502.8 793L503.4 791.5L504 792.1L504.6 791.3L505.2 790.8L505.8 792.1L506.4 791.7L507 791.9L507.6 790.7L508.2 791L508.8 792.1L509.4 791.8L510 792.9L510.6 791.3L511.2 793.1L511.8 793L512.4 792.5L513 793.1L513.6 792.4L514.2 792.3L514.8 792.5L515.4 791.3L516 792.6L516.6 793.4L517.2 791.1L517.8 793.4L518.4 792.1L519 792.4L519.6 792.9L520.2 793L520.8 794.2L521.4 792.7L522 794.6L522.6 792.9L523.2 793.4L523.8 793.6L524.4 792.3L525 791.9L525.6 793.2L526.2 793.8L526.8 794L527.4 792.8L528 794.9L528.6 793.1L529.2 792.6L529.8 794.5L530.4 794.6L531 792.5L531.6 794.3L532.2 792.2L532.8 793.6L533.4 795.9L534 794.9L534.6 794.4L535.2 794.3L535.8 792.9L536.4 794.1L537 794.2L537.6 792.8L538.2 794L538.8 794.4L539.4 794.1L540 794.3L540.6 793.6L541.2 792.8L541.8 793.9L542.4 792L543 793.2L543.6 795L544.2 795.7L544.8 794.4L545.4 791.6L546 795.3L546.6 794.5L547.2 793.8L547.8 794.8L548.4 794.6L549 792.8L549.6 792.8L550.2 795.1L550.8 791.8L551.4 794.7L552 794.4L552.6 795.1L553.2 795.9L553.8 795.5L554.4 795.7L555 795L555.6 794.7L556.2 795.3L556.8 794.3L557.4 793.4L558 794.3L558.6 792.8L559.2 793.9L559.8 796.5L560.4 795L561 794.3L561.6 794L562.2 792.8L562.8 794.1L563.4 793.9L564 794.7L564.6 794.8L565.2 794.7L565.8 792.9L566.4 796.3L567 795.3L567.6 794.9L568.2 794.6L568.8 795.5L569.4 796.3L570 795.7L570.6 794L571.2 793.9L571.8 792.8L572.4 795.4L573 796L573.6 796.5L574.2 795.5L574.8 796.2L575.4 794.5L576 796L576.6 795.4L577.2 794.9L577.8 793.9L578.4 796.8L579 793.4L579.6 796.3L580.2 794.9L580.8 796.4L581.4 795.3L582 796.6L582.6 795.7L583.2 794.9L583.8 795.5L584.4 794.4L585 796.3L585.6 797.1L586.2 796.6L586.8 796.3L587.4 797.5L588 795.1L588.6 796.9L589.2 796.4L589.8 795.9L590.4 797L591 795.3L591.6 796.4L592.2 796.9L592.8 795.5L593.4 796.4L594 797.2L594.6 797.7L595.2 795.8L595.8 797.7L596.4 796.6L597 797L597.6 796.4L598.2 797.8L598.8 796.3L599.4 797.4L600 797.5L600.6 797.9L601.2 796.2L601.8 798L602.4 797.3L603 798.8L603.6 797L604.2 796.9L604.8 797.4L605.4 797.2L606 797.4L606.6 796.3L607.2 795.5L607.8 796.2L608.4 797.1L609 798.2L609.6 797.5L610.2 796.9L610.8 797.7L611.4 798L612 800.7L612.6 799.2L613.2 798.2L613.8 796.6L614.4 797.9L615 797.8L615.6 798.7L616.2 800.3L616.8 798.2L617.4 796.3L618 798.2L618.6 796.7L619.2 799.2L619.8 799.5L620.4 798.8L621 797L621.6 798.3L622.2 799.8L622.8 797.6L623.4 798L624 798.9L624.6 799.2L625.2 798.8L625.8 799.1L626.4 799L627 798.2L627.6 798.8L628.2 799.2L628.8 797.8L629.4 799.1L630 799.1L630.6 799.5L631.2 799.4L631.8 798L632.4 797.8L633 799.4L633.6 799L634.2 799.3L634.8 798.7L635.4 798L636 799.6L636.6 799.2L637.2 800L637.8 800.5L638.4 800.5L639 800.4L639.6 798.5L640.2 797.4L640.8 798.9L641.4 798.4L642 798.3L642.6 800.3L643.2 798L643.8 800.6L644.4 800.8L645 802.4L645.6 800.8L646.2 801.9L646.8 799.2L647.4 799.2L648 800.9L648.6 798.6L649.2 801.1L649.8 799.7L650.4 798L651 801.9L651.6 798.9L652.2 802.6L652.8 798.6L653.4 799.3L654 800.4L654.6 800.2L655 798.6"/>
<path d="M84.2 807.9L84.8 807.1L85.4 807.3L86 806.7L86.6 810.1L87.2 812.4L87.8 811.9L88.4 813.1L89 814.2L89.6 812.9L90.2 817.1L90.8 814.1L91.4 815.9L92 818.8L92.6 816.5L93.2 817.2L93.8 817.1L94.4 818.4L95 816.4L95.6 818.3L96.2 821L96.8 819.9L97.4 819.9L98 820.8L98.6 821.2L99.2 821.3L99.8 822.1L100.4 820.2L101 822.7L101.6 821.8L102.2 823.6L102.8 823.1L103.4 822.4L104 823.6L104.6 822.9L105.2 825.2L105.8 824.5L106.4 825.7L107 824L107.6 827.1L108.2 825.5L108.8 827.6L109.4 827.4L110 825.8L110.6 827.6L111.2 827.1L111.8 828.4L112.4 829.8L113 829.4L113.6 830.2L114.2 828.4L114.8 830.1L115.4 830.7L116 831.8L116.6 830.5L117.2 832L117.8 832.2L118.4 830.6L119 831.3L119.6 833L120.2 831.6L120.8 831.8L121.4 834.1L122 833.6L122.6 833.3L123.2 833.8L123.8 833.4L124.4 833.4L125 833.7L125.6 834.6L126.2 835.7L126.8 834L127.4 834.5L128 834.5L128.6 833.6L129.2 835.2L129.8 835.9L130.4 834.4L131 836.2L131.6 835L132.2 836.9L132.8 837.2L133.4 835.9L134 834.6L134.6 836.5L135.2 835.7L135.8 835.9L136.4 837.1L137 838.8L137.6 837.4L138.2 837.2L138.8 835.5L139.4 836.6L140 835.6L140.6 837.3L141.2 836L141.8 836.3L142.4 836L143 835.6L143.6 836.5L144.2 835.7L144.8 834.6L145.4 834.7L146 834.7L146.6 835.1L147.2 833.4L147.8 834.1L148.4 831.5L149 831L149.6 828.6L150.2 829.7L150.8 826.6L151.4 825.4L152 826.2L152.6 823.9L153.2 822.7L153.8 823.5L154.4 821.5L155 821.7L155.6 819.4L156.2 819.6L156.8 819L157.4 817.1L158 818.1L158.6 815.4L159.2 815L159.8 814.8L160.4 815.4L161 813.8L161.6 813.6L162.2 814.3L162.8 815.5L163.4 814.1L164 813.6L164.6 815.1L165.2 816.3L165.8 815.6L166.4 816.7L167 815.4L167.6 818L168.2 818.8L168.8 820.1L169.4 820.6L170 821.9L170.6 820.9L171.2 823.4L171.8 822L172.4 823.9L173 826.3L173.6 826.8L174.2 824.9L174.8 828L175.4 827.7L176 828L176.6 829.6L177.2 830.2L177.8 832.1L178.4 829.9L179 831.4L179.6 832.1L180.2 830.5L180.8 833.4L181.4 833.9L182 831.4L182.6 832.1L183.2 831.1L183.8 829.9L184.4 826.6L185 826.2L185.6 823.4L186.2 827.2L186.8 827.8L187.4 831.3L188 828.6L188.6 831.5L189.2 831.7L189.8 834.1L190.4 835.7L191 835.1L191.6 835.1L192.2 835.2L192.8 837.6L193.4 839L194 839.2L194.6 838.4L195.2 837.8L195.8 838.8L196.4 838L197 838.3L197.6 841.1L198.2 839.8L198.8 840.1L199.4 838.8L200 839.4L200.6 838.3L201.2 833.8L201.8 830.8L202.4 826.5L203 822.7L203.6 821L204.2 822.6L204.8 829.7L205.4 831.4L206 834.3L206.6 835.5L207.2 838.4L207.8 839.7L208.4 839.4L209 840.9L209.6 842.2L210.2 841.4L210.8 842.8L211.4 844L212 843.2L212.6 842.5L213.2 843.9L213.8 844.3L214.4 846.2L215 844L215.6 843.2L216.2 845.3L216.8 845.6L217.4 845.2L218 846.4L218.6 846.5L219.2 847.7L219.8 845.9L220.4 846.3L221 847.3L221.6 847.1L222.2 849.2L222.8 848.8L223.4 848.5L224 850.3L224.6 849.6L225.2 850.4L225.8 850.5L226.4 849.9L227 850.2L227.6 850.7L228.2 849.9L228.8 851L229.4 852.5L230 852.1L230.6 850.9L231.2 854.3L231.8 851L232.4 852.7L233 852.9L233.6 853.5L234.2 851.4L234.8 852.3L235.4 852.2L236 853.5L236.6 852.8L237.2 852.8L237.8 853L238.4 854.4L239 853.1L239.6 853.3L240.2 851.5L240.8 853.1L241.4 851.2L242 853.4L242.6 852.6L243.2 851.6L243.8 851.3L244.4 852.4L245 852.6L245.6 851.8L246.2 851.9L246.8 851.7L247.4 851.2L248 851.4L248.6 851.6L249.2 852.6L249.8 851.9L250.4 850.9L251 853.4L251.6 853.2L252.2 852.1L252.8 853.7L253.4 852.3L254 852.1L254.6 852.1L255.2 854.3L255.8 852.5L256.4 852.2L257 848.5L257.6 839.7L258.2 824.6L258.8 813.5L259.4 810L260 808.3L260.6 816.7L261.2 829.2L261.8 839.9L262.4 850.9L263 854.5L263.6 854L264.2 853.1L264.8 852.9L265.4 850.7L266 852.8L266.6 852.4L267.2 850.7L267.8 851.2L268.4 849.7L269 852.2L269.6 848.5L270.2 848.9L270.8 848L271.4 850.1L272 851.1L272.6 851.4L273.2 851.1L273.8 852.9L274.4 852.5L275 853.7L275.6 852.7L276.2 851.3L276.8 853.1L277.4 852.4L278 854.5L278.6 853.2L279.2 853.6L279.8 853.9L280.4 852.5L281 853.6L281.6 854.9L282.2 853.5L282.8 853.9L283.4 854.2L284 853.4L284.6 853.8L285.2 854.5L285.8 853.7L286.4 854.2L287 854L287.6 853.1L288.2 852.8L288.8 856L289.4 855.3L290 853.7L290.6 854.7L291.2 854.7L291.8 854.4L292.4 853L293 851.9L293.6 852L294.2 853L294.8 854.6L295.4 855L296 853.5L296.6 853.7L297.2 855.6L297.8 856.8L298.4 854.1L299 855.9L299.6 855.9L300.2 855.8L300.8 856.2L301.4 856.5L302 857.2L302.6 856L303.2 857.8L303.8 858.8L304.4 859L305 859.2L305.6 859L306.2 859.1L306.8 861.2L307.4 859.4L308 860.1L308.6 861.6L309.2 860.8L309.8 859.9L310.4 861L311 861.6L311.6 862.3L312.2 862.5L312.8 864.3L313.4 864.4L314 864.5L314.6 863.9L315.2 865.6L315.8 865.9L316.4 867.3L317 864.8L317.6 865.6L318.2 867.5L318.8 865.4L319.4 867.2L320 867.5L320.6 867.7L321.2 867.1L321.8 868.3L322.4 867L323 869.9L323.6 868.5L324.2 869.4L324.8 869.4L325.4 869.9L326 870.1L326.6 870.7L327.2 870.2L327.8 870.9L328.4 870L329 870.2L329.6 870.5L330.2 870.3L330.8 869.8L331.4 870.3L332 871.2L332.6 870.5L333.2 869.2L333.8 869.1L334.4 867.1L335 866.9L335.6 860.8L336.2 862.5L336.8 861.6L337.4 865.2L338 864.9L338.6 866.8L339.2 868.2L339.8 870.5L340.4 868.4L341 870.9L341.6 872.8L342.2 872L342.8 874.4L343.4 875.5L344 873.4L344.6 874.6L345.2 875.9L345.8 877.2L346.4 876.6L347 876.5L347.6 875L348.2 876L348.8 876.2L349.4 875.6L350 876.7L350.6 876.1L351.2 876.1L351.8 878.7L352.4 876.6L353 878.7L353.6 876.6L354.2 877.1L354.8 876L355.4 876.8L356 879.1L356.6 877.7L357.2 875.8L357.8 879.3L358.4 877.1L359 877.7L359.6 878.2L360.2 876.5L360.8 880L361.4 879.9L362 878.4L362.6 879.2L363.2 878.7L363.8 878.5L364.4 879L365 877.9L365.6 879.1L366.2 879L366.8 881.6L367.4 878.3L368 881.2L368.6 880.7L369.2 880.2L369.8 879.6L370.4 882L371 881.7L371.6 880.3L372.2 880.2L372.8 880.7L373.4 882.4L374 879.7L374.6 880.8L375.2 881.9L375.8 879.4L376.4 880.8L377 882L377.6 880.5L378.2 880.9L378.8 879.5L379.4 881.4L380 879.9L380.6 880.7L381.2 881.5L381.8 880.6L382.4 882.1L383 881.9L383.6 881.7L384.2 882.2L384.8 881.1L385.4 879.1L386 882.2L386.6 882.1L387.2 880.8L387.8 880.5L388.4 882.5L389 880.9L389.6 881L390.2 881L390.8 883.7L391.4 880.7L392 878.9L392.6 881.3L393.2 880.4L393.8 879.7L394.4 881.6L395 881L395.6 882.4L396.2 881.2L396.8 882.8L397.4 882.6L398 881.7L398.6 882.5L399.2 883.6L399.8 882.5L400.4 880.5L401 882L401.6 882.2L402.2 883.3L402.8 882L403.4 883.3L404 882.1L404.6 882.3L405.2 882.1L405.8 882.4L406.4 882.3L407 882.8L407.6 881.8L408.2 881.6L408.8 882.6L409.4 882.9L410 882.4L410.6 883.2L411.2 883.2L411.8 884.6L412.4 881.6L413 885L413.6 880.8L414.2 881.4L414.8 883.5L415.4 882.4L416 883.1L416.6 883L417.2 882.2L417.8 882.2L418.4 883.3L419 884.1L419.6 884.4L420.2 884L420.8 883.6L421.4 885.2L422 881.9L422.6 884.2L423.2 885.5L423.8 885.9L424.4 885.6L425 885.8L425.6 885.6L426.2 884.7L426.8 882.5L427.4 884.2L428 884.5L428.6 886.5L429.2 884.5L429.8 884.7L430.4 885.7L431 884.2L431.6 885.3L432.2 885.8L432.8 885L433.4 885.3L434 883.7L434.6 884.3L435.2 885.3L435.8 886.8L436.4 885.1L437 884.8L437.6 885L438.2 886.5L438.8 884.5L439.4 886.2L440 885.7L440.6 886.2L441.2 885.4L441.8 886.3L442.4 887.6L443 886.1L443.6 885.9L444.2 883.9L444.8 887L445.4 886L446 887L446.6 886.8L447.2 886L447.8 886.2L448.4 885.6L449 888.9L449.6 888L450.2 887.9L450.8 888.4L451.4 888.6L452 888.2L452.6 888.4L453.2 889.9L453.8 885.8L454.4 887.8L455 887L455.6 887.8L456.2 885.3L456.8 886.8L457.4 888.7L458 886.7L458.6 888.6L459.2 887.3L459.8 888L460.4 886.7L461 887.7L461.6 886.8L462.2 889L462.8 886.7L463.4 888.8L464 888L464.6 888.5L465.2 890.1L465.8 888.5L466.4 888.1L467 888.8L467.6 889.6L468.2 888.4L468.8 890.7L469.4 889.2L470 888.8L470.6 888.5L471.2 889.1L471.8 889.8L472.4 890.4L473 889.4L473.6 888.8L474.2 889.4L474.8 887.4L475.4 890.6L476 890.4L476.6 889.4L477.2 890.3L477.8 888.6L478.4 891.4L479 889.5L479.6 889.2L480.2 891.8L480.8 888.7L481.4 890.1L482 888.8L482.6 889L483.2 889.1L483.8 888.7L484.4 890.6L485 889.9L485.6 887.7L486.2 890.3L486.8 887.6L487.4 887.4L488 888.2L488.6 887.2L489.2 889.9L489.8 888L490.4 888.1L491 890.8L491.6 889.1L492.2 890L492.8 889.2L493.4 890.1L494 890.7L494.6 888.3L495.2 890.7L495.8 890.1L496.4 892.4L497 893L497.6 891.6L498.2 891.7L498.8 892.3L499.4 892.3L500 889.9L500.6 890.1L501.2 890.9L501.8 890.1L502.4 891.2L503 891.6L503.6 890.8L504.2 892.1L504.8 893.1L505.4 891.8L506 892.2L506.6 891.8L507.2 891.8L507.8 891.4L508.4 890.9L509 892.6L509.6 893.1L510.2 892.1L510.8 892.3L511.4 890.8L512 892L512.6 892.6L513.2 892.2L513.8 892.4L514.4 891.4L515 891.2L515.6 892.3L516.2 894L516.8 892.2L517.4 891.2L518 892L518.6 892.5L519.2 894L519.8 893.9L520.4 892.1L521 891.9L521.6 892.7L522.2 893L522.8 892.1L523.4 894L524 892.7L524.6 893.4L525.2 893L525.8 893.8L526.4 893.2L527 893.6L527.6 894.6L528.2 893.6L528.8 894.9L529.4 892.3L530 893.3L530.6 892.6L531.2 892.2L531.8 893.6L532.4 895.6L533 894L533.6 894.8L534.2 891.9L534.8 894.1L535.4 892.8L536 894.2L536.6 895L537.2 893.6L537.8 895.1L538.4 893.3L539 894.3L539.6 893.6L540.2 894.3L540.8 894.1L541.4 892.1L542 894L542.6 893.8L543.2 896L543.8 891.9L544.4 894.5L545 895.2L545.6 896.3L546.2 895.7L546.8 894.4L547.4 895.9L548 894.4L548.6 894.3L549.2 894.2L549.8 894.2L550.4 896.1L551 893L551.6 893.1L552.2 895.5L552.8 895.1L553.4 895.5L554 894.4L554.6 895.3L555.2 894.4L555.8 894.2L556.4 894.3L557 894.8L557.6 894.8L558.2 894.4L558.8 896.3L559.4 895.2L560 894.5L560.6 893.6L561.2 894.8L561.8 893.3L562.4 894L563 893.8L563.6 894.1L564.2 895.2L564.8 891.8L565.4 896.5L566 895.5L566.6 894.7L567.2 894.5L567.8 895.9L568.4 895.1L569 896.9L569.6 895.1L570.2 894.4L570.8 893.9L571.4 895.3L572 896.4L572.6 894.3L573.2 896.8L573.8 896.4L574.4 895.3L575 896.9L575.6 893.9L576.2 893.4L576.8 895.9L577.4 896L578 895.9L578.6 895.4L579.2 893.9L579.8 895.9L580.4 894.9L581 896.1L581.6 895.4L582.2 893.9L582.8 895.6L583.4 895.7L584 895.6L584.6 894.1L585.2 893.6L585.8 895.4L586.4 894.4L587 894.2L587.6 895.2L588.2 895.1L588.8 894.4L589.4 893.5L590 894.9L590.6 892.1L591.2 892.8L591.8 892.9L592.4 891.2L593 892.3L593.6 894.7L594.2 894.5L594.8 894.1L595.4 897.1L596 895.9L596.6 896.1L597.2 898L597.8 894.9L598.4 895.9L599 895.7L599.6 898L600.2 896L600.8 899.3L601.4 897.5L602 897.4L602.6 898.2L603.2 897.1L603.8 896.5L604.4 896.8L605 897.5L605.6 896.6L606.2 897.7L606.8 897L607.4 897.5L608 897.7L608.6 899.4L609.2 900.2L609.8 899.9L610.4 897.9L611 897.5L611.6 899.3L612.2 899.6L612.8 899.3L613.4 897.8L614 898.8L614.6 898.2L615.2 899.5L615.8 899.4L616.4 898.7L617 898.1L617.6 900.2L618.2 898.6L618.8 899.2L619.4 898.8L620 899L620.6 899.3L621.2 897.7L621.8 897.5L622.4 898.5L623 894.4L623.6 897.2L624.2 896.5L624.8 897.3L625.4 896.6L626 895.9L626.6 894.9L627.2 896L627.8 896L628.4 896.7L629 897.2L629.6 896.6L630.2 898.2L630.8 897.4L631.4 898.5L632 898.6L632.6 899.7L633.2 898.6L633.8 900.4L634.4 898.6L635 898.2L635.6 899.9L636.2 898.1L636.8 899.8L637.4 900L638 899.9L638.6 900.2L639.2 900.2L639.8 901.3L640.4 900.1L641 898.4L641.6 900L642.2 901.4L642.8 901.6L643.4 901.4L644 900.8L644.6 900L645.2 902.5L645.8 900.4L646.4 899.9L647 898.7L647.6 903L648.2 901.1L648.8 899.3L649.4 902.1L650 901.9L650.6 899.6L651.2 902.1L651.8 901.4L652.4 902L653 902.7L653.6 901L654.2 903.6L654.8 901.3L655 900.8"/>
</g>
<text x="115.7" y="930.9" font-size="18" text-anchor="middle" font-family='"Liberation Sans", sans-serif'>30</text>
<text x="223.7" y="930.9" font-size="18" text-anchor="middle" font-family='"Liberation Sans", sans-serif'>40</text>
<text x="331.7" y="930.9" font-size="18" text-anchor="middle" font-family='"Liberation Sans", sans-serif'>50</text>
<text x="439.6" y="930.9" font-size="18" text-anchor="middle" font-family='"Liberation Sans", sans-serif'>60</text>
<text x="547.6" y="930.9" font-size="18" text-anchor="middle" font-family='"Liberation Sans", sans-serif'>70</text>
<text x="655.6" y="930.9" font-size="18" text-anchor="middle" font-family='"Liberation Sans", sans-serif'>80</text>
<text x="290.6" y="964.4" font-size="28.5" font-family='"Liberation Sans", sans-serif'>2<tspan font-family='"Liberation Serif", serif'>&#952;</tspan> (degrees)</text>
<text x="0" y="0" transform="translate(59.8 789.5) rotate(-90)" font-size="28" fill="#000" font-family='"Liberation Sans", sans-serif' >Intensity (a.u.)</text>
<text transform="translate(18.26 538.25) scale(0.98 1)" font-size="35.5" stroke="#000" stroke-width="0.3" font-family='"Liberation Sans", sans-serif'>b</text>
<text transform="translate(39.75 537.7) scale(0.76 1)" font-size="35.3" stroke="#000" stroke-width="0.45" font-family='"Liberation Sans", sans-serif'>)</text>
<rect x="545" y="524.4" width="108.7" height="28" fill="#fff" stroke="#8a8a8a" stroke-width="1.2"/><path d="M547 538.3H594.4" stroke="#000" stroke-width="2.8"/><text x="598.7" y="546.2" font-size="20.6" font-family='"Liberation Sans", sans-serif'>paper</text>
<rect x="523" y="629.7" width="128.8" height="28.5" fill="#fff" stroke="#8a8a8a" stroke-width="1.2"/><path d="M524.7 644.2H571.3" stroke="#000" stroke-width="2.8"/><text x="576.9" y="651.1" font-size="20.6" font-family='"Liberation Sans", sans-serif'>p-AgNP</text>
<rect x="521.9" y="736.2" width="129.9" height="28.2" fill="#fff" stroke="#8a8a8a" stroke-width="1.2"/><path d="M524.3 750.2H570.6" stroke="#000" stroke-width="2.8"/><text x="576.4" y="757.3" font-size="20.6" font-family='"Liberation Sans", sans-serif'>p-CuNP</text>
<rect x="492.7" y="829.7" width="159.6" height="28.1" fill="#fff" stroke="#8a8a8a" stroke-width="1.2"/><path d="M494 843H540.8" stroke="#000" stroke-width="2.8"/><text x="546.5" y="851.1" font-size="20.6" font-family='"Liberation Sans", sans-serif'>p-Ag/CuNP</text>
<path d="M161.5 520.8L161.5 516.9M161.5 520.8L165.2 519.6M161.5 520.8L163.8 524M161.5 520.8L159.2 524M161.5 520.8L157.8 519.6" stroke="#000" stroke-width="1.8" stroke-linecap="round" fill="none"/><circle cx="161.5" cy="517.5" r="1.1" fill="#000"/><circle cx="164.6" cy="519.8" r="1.1" fill="#000"/><circle cx="163.4" cy="523.5" r="1.1" fill="#000"/><circle cx="159.6" cy="523.5" r="1.1" fill="#000"/><circle cx="158.4" cy="519.8" r="1.1" fill="#000"/>
<path d="M294.2 552.4L294.2 548.5M294.2 552.4L297.9 551.2M294.2 552.4L296.5 555.6M294.2 552.4L291.9 555.6M294.2 552.4L290.5 551.2" stroke="#000" stroke-width="1.8" stroke-linecap="round" fill="none"/><circle cx="294.2" cy="549.1" r="1.1" fill="#000"/><circle cx="297.3" cy="551.4" r="1.1" fill="#000"/><circle cx="296.1" cy="555.1" r="1.1" fill="#000"/><circle cx="292.3" cy="555.1" r="1.1" fill="#000"/><circle cx="291.1" cy="551.4" r="1.1" fill="#000"/>
<path d="M204.4 607.8L204.4 603.7M204.4 607.8L208.3 606.5M204.4 607.8L206.8 611.1M204.4 607.8L202 611.1M204.4 607.8L200.5 606.5" stroke="#a81f2c" stroke-width="1.8" stroke-linecap="round" fill="none"/><circle cx="204.4" cy="604.3" r="1.1" fill="#a81f2c"/><circle cx="207.7" cy="606.7" r="1.1" fill="#a81f2c"/><circle cx="206.5" cy="610.6" r="1.1" fill="#a81f2c"/><circle cx="202.3" cy="610.6" r="1.1" fill="#a81f2c"/><circle cx="201.1" cy="606.7" r="1.1" fill="#a81f2c"/>
<path d="M270.5 641.6L270.5 637.5M270.5 641.6L274.4 640.3M270.5 641.6L272.9 644.9M270.5 641.6L268.1 644.9M270.5 641.6L266.6 640.3" stroke="#a81f2c" stroke-width="1.8" stroke-linecap="round" fill="none"/><circle cx="270.5" cy="638.1" r="1.1" fill="#a81f2c"/><circle cx="273.8" cy="640.5" r="1.1" fill="#a81f2c"/><circle cx="272.6" cy="644.4" r="1.1" fill="#a81f2c"/><circle cx="268.4" cy="644.4" r="1.1" fill="#a81f2c"/><circle cx="267.2" cy="640.5" r="1.1" fill="#a81f2c"/>
<path d="M488.7 683.8L488.7 679.7M488.7 683.8L492.6 682.5M488.7 683.8L491.1 687.1M488.7 683.8L486.3 687.1M488.7 683.8L484.8 682.5" stroke="#a81f2c" stroke-width="1.8" stroke-linecap="round" fill="none"/><circle cx="488.7" cy="680.3" r="1.1" fill="#a81f2c"/><circle cx="492" cy="682.7" r="1.1" fill="#a81f2c"/><circle cx="490.8" cy="686.6" r="1.1" fill="#a81f2c"/><circle cx="486.6" cy="686.6" r="1.1" fill="#a81f2c"/><circle cx="485.4" cy="682.7" r="1.1" fill="#a81f2c"/>
<path d="M629.6 691.8L629.6 687.7M629.6 691.8L633.5 690.5M629.6 691.8L632 695.1M629.6 691.8L627.2 695.1M629.6 691.8L625.7 690.5" stroke="#a81f2c" stroke-width="1.8" stroke-linecap="round" fill="none"/><circle cx="629.6" cy="688.3" r="1.1" fill="#a81f2c"/><circle cx="632.9" cy="690.7" r="1.1" fill="#a81f2c"/><circle cx="631.7" cy="694.6" r="1.1" fill="#a81f2c"/><circle cx="627.5" cy="694.6" r="1.1" fill="#a81f2c"/><circle cx="626.3" cy="690.7" r="1.1" fill="#a81f2c"/>
<path d="M204 813.8L204 809.7M204 813.8L207.9 812.5M204 813.8L206.4 817.1M204 813.8L201.6 817.1M204 813.8L200.1 812.5" stroke="#a81f2c" stroke-width="1.8" stroke-linecap="round" fill="none"/><circle cx="204" cy="810.3" r="1.1" fill="#a81f2c"/><circle cx="207.3" cy="812.7" r="1.1" fill="#a81f2c"/><circle cx="206.1" cy="816.6" r="1.1" fill="#a81f2c"/><circle cx="201.9" cy="816.6" r="1.1" fill="#a81f2c"/><circle cx="200.7" cy="812.7" r="1.1" fill="#a81f2c"/>
<path d="M270.4 841.2L270.4 837.1M270.4 841.2L274.3 839.9M270.4 841.2L272.8 844.5M270.4 841.2L268 844.5M270.4 841.2L266.5 839.9" stroke="#a81f2c" stroke-width="1.8" stroke-linecap="round" fill="none"/><circle cx="270.4" cy="837.7" r="1.1" fill="#a81f2c"/><circle cx="273.7" cy="840.1" r="1.1" fill="#a81f2c"/><circle cx="272.5" cy="844" r="1.1" fill="#a81f2c"/><circle cx="268.3" cy="844" r="1.1" fill="#a81f2c"/><circle cx="267.1" cy="840.1" r="1.1" fill="#a81f2c"/>
<path d="M489.8 879.4L489.8 875.3M489.8 879.4L493.7 878.1M489.8 879.4L492.2 882.7M489.8 879.4L487.4 882.7M489.8 879.4L485.9 878.1" stroke="#a81f2c" stroke-width="1.8" stroke-linecap="round" fill="none"/><circle cx="489.8" cy="875.9" r="1.1" fill="#a81f2c"/><circle cx="493.1" cy="878.3" r="1.1" fill="#a81f2c"/><circle cx="491.9" cy="882.2" r="1.1" fill="#a81f2c"/><circle cx="487.7" cy="882.2" r="1.1" fill="#a81f2c"/><circle cx="486.5" cy="878.3" r="1.1" fill="#a81f2c"/>
<path d="M627.7 889.6L627.7 885.5M627.7 889.6L631.6 888.3M627.7 889.6L630.1 892.9M627.7 889.6L625.3 892.9M627.7 889.6L623.8 888.3" stroke="#a81f2c" stroke-width="1.8" stroke-linecap="round" fill="none"/><circle cx="627.7" cy="886.1" r="1.1" fill="#a81f2c"/><circle cx="631" cy="888.5" r="1.1" fill="#a81f2c"/><circle cx="629.8" cy="892.4" r="1.1" fill="#a81f2c"/><circle cx="625.6" cy="892.4" r="1.1" fill="#a81f2c"/><circle cx="624.4" cy="888.5" r="1.1" fill="#a81f2c"/>
<path d="M100.9 708.5L100.9 704.4M100.9 708.5L104.8 707.2M100.9 708.5L103.3 711.8M100.9 708.5L98.5 711.8M100.9 708.5L97 707.2" stroke="#1e7a2a" stroke-width="1.8" stroke-linecap="round" fill="none"/><circle cx="100.9" cy="705" r="1.1" fill="#1e7a2a"/><circle cx="104.2" cy="707.4" r="1.1" fill="#1e7a2a"/><circle cx="103" cy="711.3" r="1.1" fill="#1e7a2a"/><circle cx="98.8" cy="711.3" r="1.1" fill="#1e7a2a"/><circle cx="97.6" cy="707.4" r="1.1" fill="#1e7a2a"/>
<path d="M109 703.6L109 699.5M109 703.6L112.9 702.3M109 703.6L111.4 706.9M109 703.6L106.6 706.9M109 703.6L105.1 702.3" stroke="#1e7a2a" stroke-width="1.8" stroke-linecap="round" fill="none"/><circle cx="109" cy="700.1" r="1.1" fill="#1e7a2a"/><circle cx="112.3" cy="702.5" r="1.1" fill="#1e7a2a"/><circle cx="111.1" cy="706.4" r="1.1" fill="#1e7a2a"/><circle cx="106.9" cy="706.4" r="1.1" fill="#1e7a2a"/><circle cx="105.7" cy="702.5" r="1.1" fill="#1e7a2a"/>
<path d="M260.5 804.2L260.5 800.1M260.5 804.2L264.4 802.9M260.5 804.2L262.9 807.5M260.5 804.2L258.1 807.5M260.5 804.2L256.6 802.9" stroke="#1f1f8c" stroke-width="1.8" stroke-linecap="round" fill="none"/><circle cx="260.5" cy="800.7" r="1.1" fill="#1f1f8c"/><circle cx="263.8" cy="803.1" r="1.1" fill="#1f1f8c"/><circle cx="262.6" cy="807" r="1.1" fill="#1f1f8c"/><circle cx="258.4" cy="807" r="1.1" fill="#1f1f8c"/><circle cx="257.2" cy="803.1" r="1.1" fill="#1f1f8c"/>
<path d="M336.8 853.8L336.8 849.7M336.8 853.8L340.7 852.5M336.8 853.8L339.2 857.1M336.8 853.8L334.4 857.1M336.8 853.8L332.9 852.5" stroke="#1f1f8c" stroke-width="1.8" stroke-linecap="round" fill="none"/><circle cx="336.8" cy="850.3" r="1.1" fill="#1f1f8c"/><circle cx="340.1" cy="852.7" r="1.1" fill="#1f1f8c"/><circle cx="338.9" cy="856.6" r="1.1" fill="#1f1f8c"/><circle cx="334.7" cy="856.6" r="1.1" fill="#1f1f8c"/><circle cx="333.5" cy="852.7" r="1.1" fill="#1f1f8c"/>
<path d="M591.5 887.1L591.5 883M591.5 887.1L595.4 885.8M591.5 887.1L593.9 890.4M591.5 887.1L589.1 890.4M591.5 887.1L587.6 885.8" stroke="#1f1f8c" stroke-width="1.8" stroke-linecap="round" fill="none"/><circle cx="591.5" cy="883.6" r="1.1" fill="#1f1f8c"/><circle cx="594.8" cy="886" r="1.1" fill="#1f1f8c"/><circle cx="593.6" cy="889.9" r="1.1" fill="#1f1f8c"/><circle cx="589.4" cy="889.9" r="1.1" fill="#1f1f8c"/><circle cx="588.2" cy="886" r="1.1" fill="#1f1f8c"/>
<text x="0" y="0" transform="translate(211 598) rotate(-90)" font-size="14.5" fill="#222" font-family='"Liberation Sans", sans-serif' stroke="#222" stroke-width="0.3">111</text>
<text x="0" y="0" transform="translate(276.6 635) rotate(-90)" font-size="14.5" fill="#222" font-family='"Liberation Sans", sans-serif' stroke="#222" stroke-width="0.3">200</text>
<text x="0" y="0" transform="translate(489.4 672.3) rotate(-90)" font-size="14.5" fill="#222" font-family='"Liberation Sans", sans-serif' stroke="#222" stroke-width="0.3">220</text>
<text x="0" y="0" transform="translate(635.8 683.4) rotate(-90)" font-size="14.5" fill="#222" font-family='"Liberation Sans", sans-serif' stroke="#222" stroke-width="0.3">311</text>
<text x="0" y="0" transform="translate(113.1 691.2) rotate(-90)" font-size="14.5" fill="#2a3a2a" font-family='"Liberation Sans", sans-serif' stroke="#2a3a2a" stroke-width="0.3">110</text>
<text x="0" y="0" transform="translate(208.2 806) rotate(-90)" font-size="14.5" fill="#222" font-family='"Liberation Sans", sans-serif' stroke="#222" stroke-width="0.3">111</text>
<text x="0" y="0" transform="translate(265 798.8) rotate(-90)" font-size="14.5" fill="#1f5a70" font-family='"Liberation Sans", sans-serif' stroke="#1f5a70" stroke-width="0.3">111</text>
<text x="0" y="0" transform="translate(278.2 835) rotate(-90)" font-size="14.5" fill="#222" font-family='"Liberation Sans", sans-serif' stroke="#222" stroke-width="0.3">200</text>
<text x="0" y="0" transform="translate(339.6 846) rotate(-90)" font-size="14.5" fill="#1f5a70" font-family='"Liberation Sans", sans-serif' stroke="#1f5a70" stroke-width="0.3">200</text>
<text x="0" y="0" transform="translate(491.9 871.4) rotate(-90)" font-size="14.5" fill="#222" font-family='"Liberation Sans", sans-serif' stroke="#222" stroke-width="0.3">220</text>
<text x="0" y="0" transform="translate(597.1 883.5) rotate(-90)" font-size="14.5" fill="#1f5a70" font-family='"Liberation Sans", sans-serif' stroke="#1f5a70" stroke-width="0.3">220</text>
<text x="0" y="0" transform="translate(633.3 882) rotate(-90)" font-size="14.5" fill="#222" font-family='"Liberation Sans", sans-serif' stroke="#222" stroke-width="0.3">311</text>
</svg>
</body></html>
